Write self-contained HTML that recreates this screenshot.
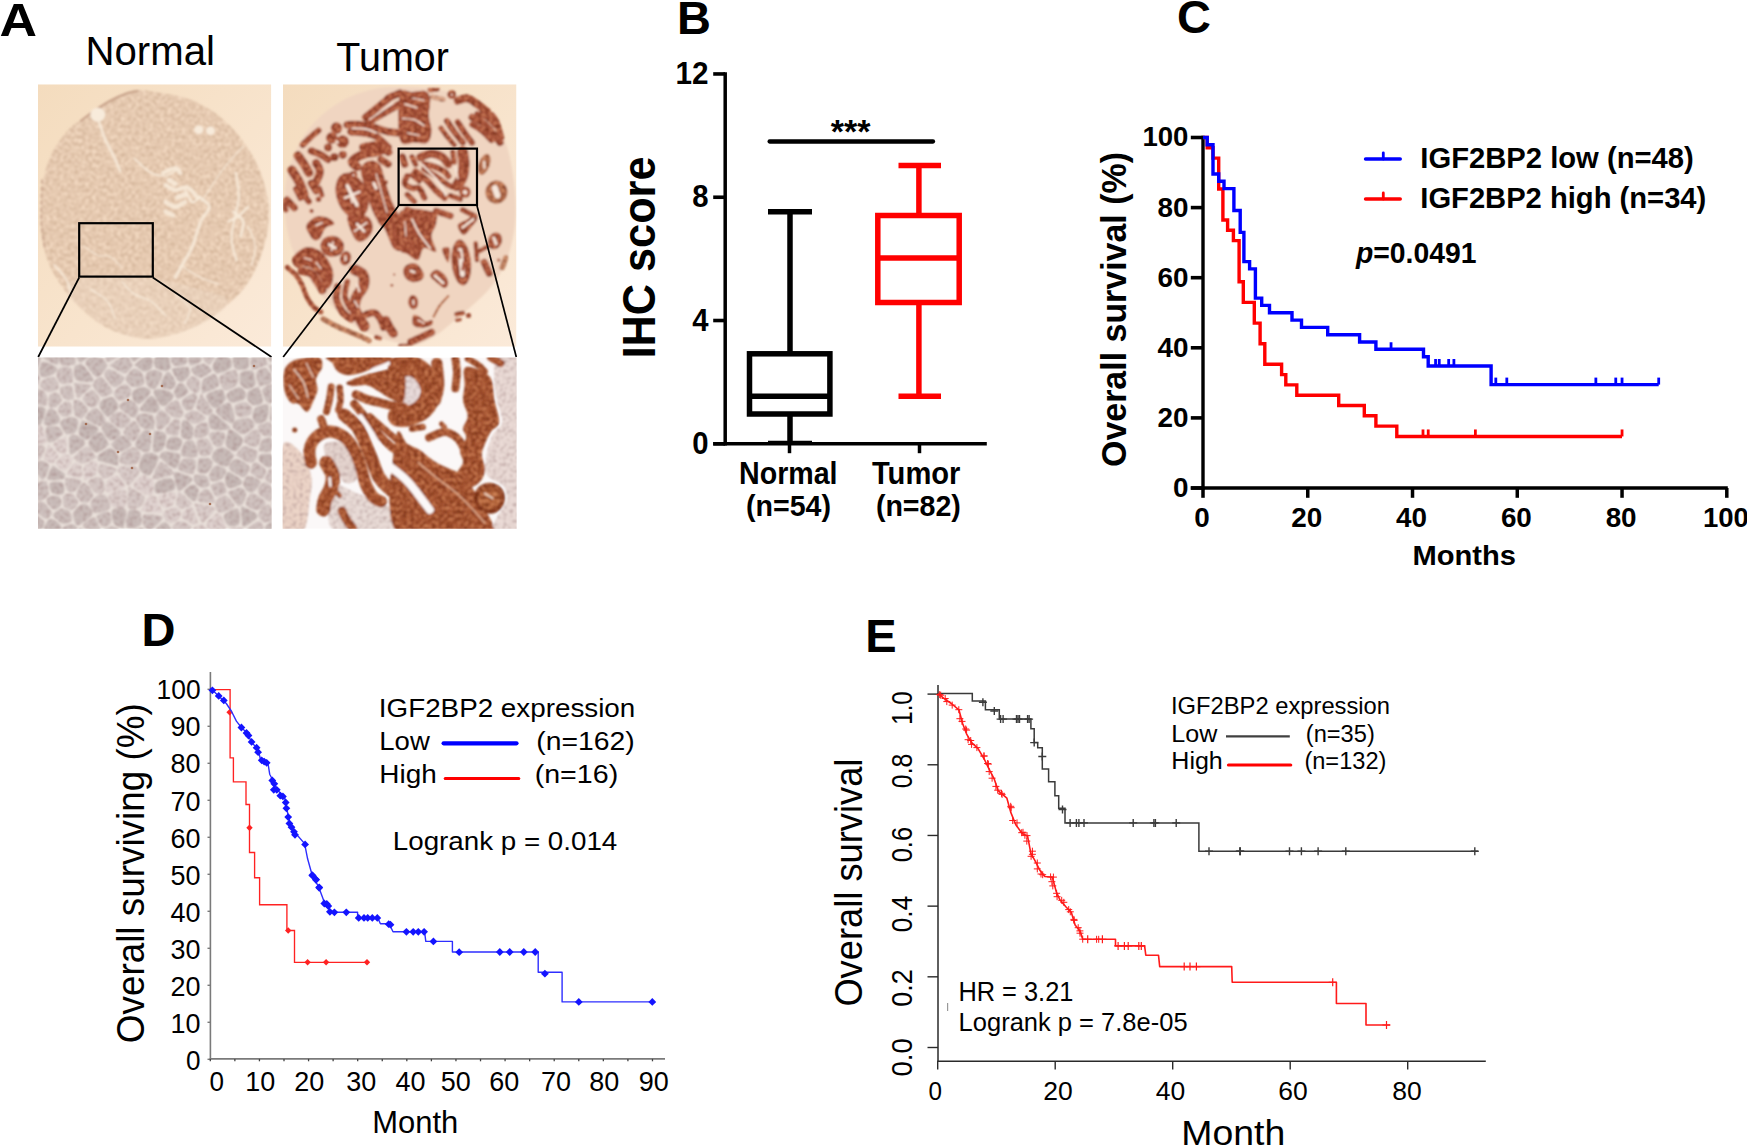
<!DOCTYPE html>
<html lang="en"><head><meta charset="utf-8"><title>IGF2BP2 figure</title>
<style>
html,body{margin:0;padding:0;background:#fff;}
body{width:1747px;height:1148px;overflow:hidden;}
svg{display:block;}
svg text{font-family:"Liberation Sans", sans-serif;}
</style></head><body>
<svg width="1747" height="1148" viewBox="0 0 1747 1148">
<defs>
<clipPath id="cNT"><rect x="38" y="84.3" width="233.3" height="262.4"/></clipPath>
<clipPath id="cTT"><rect x="283" y="84.3" width="233.5" height="262.4"/></clipPath>
<clipPath id="cNB"><rect x="38" y="357.4" width="233.6" height="171.3"/></clipPath>
<clipPath id="cTB"><rect x="282.6" y="357.4" width="234" height="171.3"/></clipPath>
<linearGradient id="gbg" x1="0" y1="0" x2="1" y2="1"><stop offset="0" stop-color="#f4dcbe"/><stop offset="0.55" stop-color="#f8e4cd"/><stop offset="1" stop-color="#fbead9"/></linearGradient>
<filter id="bl05" x="-5%" y="-5%" width="110%" height="110%"><feGaussianBlur stdDeviation="0.6"/></filter>
<filter id="bl1" x="-5%" y="-5%" width="110%" height="110%"><feGaussianBlur stdDeviation="1.0"/></filter>
<filter id="bl2" x="-5%" y="-5%" width="110%" height="110%"><feGaussianBlur stdDeviation="1.8"/></filter>
<filter id="nzT" x="0" y="0" width="100%" height="100%" color-interpolation-filters="sRGB">
 <feTurbulence type="fractalNoise" baseFrequency="0.28" numOctaves="2" seed="7" result="n"/>
 <feColorMatrix in="n" type="matrix" values="0.22 0 0 0 0.787  0.26 0 0 0 0.657  0.28 0 0 0 0.548  0 0 0 0 1" result="c"/>
 <feComposite in="c" in2="SourceGraphic" operator="in"/>
</filter>
<filter id="nzB" x="0" y="0" width="100%" height="100%" color-interpolation-filters="sRGB">
 <feTurbulence type="fractalNoise" baseFrequency="0.3" numOctaves="2" seed="11" result="n"/>
 <feColorMatrix in="n" type="matrix" values="0 0 0 0 0.36  0 0 0 0 0.13  0 0 0 0 0.05  2.2 0 0 0 -0.85" result="c"/>
 <feComposite in="c" in2="SourceGraphic" operator="in" result="ci"/>
 <feTurbulence type="fractalNoise" baseFrequency="0.25" numOctaves="2" seed="5" result="n2"/>
 <feColorMatrix in="n2" type="matrix" values="0 0 0 0 0.93  0 0 0 0 0.62  0 0 0 0 0.45  0 2.0 0 0 -0.85" result="l"/>
 <feComposite in="l" in2="SourceGraphic" operator="in" result="li"/>
 <feMerge><feMergeNode in="SourceGraphic"/><feMergeNode in="ci"/><feMergeNode in="li"/></feMerge>
</filter>
<filter id="nzG" x="0" y="0" width="100%" height="100%" color-interpolation-filters="sRGB">
 <feTurbulence type="fractalNoise" baseFrequency="0.28" numOctaves="2" seed="11" result="n"/>
 <feColorMatrix in="n" type="matrix" values="0 0 0 0 0.40  0 0 0 0 0.14  0 0 0 0 0.06  1.9 0 0 0 -0.88" result="c"/>
 <feComposite in="c" in2="SourceGraphic" operator="in" result="ci"/>
 <feColorMatrix in="n" type="matrix" values="0 0 0 0 0.90  0 0 0 0 0.62  0 0 0 0 0.44  -1.9 0 0 0 0.98" result="l"/>
 <feComposite in="l" in2="SourceGraphic" operator="in" result="li"/>
 <feMerge><feMergeNode in="SourceGraphic"/><feMergeNode in="ci"/><feMergeNode in="li"/></feMerge>
</filter>
<filter id="nzS" x="0" y="0" width="100%" height="100%" color-interpolation-filters="sRGB">
 <feTurbulence type="fractalNoise" baseFrequency="0.3" numOctaves="2" seed="2" result="n"/>
 <feColorMatrix in="n" type="matrix" values="0 0 0 0 0.62  0 0 0 0 0.50  0 0 0 0 0.50  1.6 0 0 0 -0.72" result="c"/>
 <feComposite in="c" in2="SourceGraphic" operator="in" result="ci"/>
 <feMerge><feMergeNode in="SourceGraphic"/><feMergeNode in="ci"/></feMerge>
</filter>
</defs>
<rect width="1747" height="1148" fill="#fff"/>
<text font-size="47" font-weight="bold" text-anchor="start" fill="#000" textLength="37.5" lengthAdjust="spacingAndGlyphs" x="-0.6" y="35.6" >A</text>
<text font-size="41.5" font-weight="normal" text-anchor="middle" fill="#000" textLength="129.5" lengthAdjust="spacingAndGlyphs" x="150.2" y="64.6" >Normal</text>
<text font-size="41.5" font-weight="normal" text-anchor="middle" fill="#000" textLength="112.5" lengthAdjust="spacingAndGlyphs" x="392.6" y="70.5" >Tumor</text>
<g clip-path="url(#cNT)">
<rect x="38" y="84.3" width="233.3" height="262.4" fill="url(#gbg)" stroke="none" stroke-width="1" />
<g filter="url(#bl1)">
<g filter="url(#nzT)"><path d="M139.0,90.1 C144.7,90.1 153.1,91.7 160.8,93.0 C168.5,94.2 178.6,96.0 185.0,97.8 C191.5,99.6 194.7,101.4 199.6,103.9 C204.4,106.3 208.9,108.5 214.1,112.3 C219.4,116.2 226.2,122.0 231.1,126.9 C235.9,131.7 239.1,135.8 243.2,141.4 C247.2,147.1 251.9,153.9 255.3,160.8 C258.7,167.7 261.5,174.9 263.8,182.6 C266.0,190.3 268.0,198.7 268.6,206.8 C269.2,214.9 268.4,223.8 267.4,231.0 C266.4,238.3 264.6,244.0 262.6,250.4 C260.5,256.9 258.5,263.3 255.3,269.8 C252.1,276.3 247.6,283.5 243.2,289.2 C238.7,294.8 233.5,299.3 228.6,303.7 C223.8,308.2 219.4,312.2 214.1,315.8 C208.9,319.5 203.6,322.5 197.2,325.5 C190.7,328.5 183.0,331.8 175.3,334.0 C167.7,336.2 158.4,338.4 151.1,338.8 C143.9,339.2 138.2,337.8 131.7,336.4 C125.3,335.0 118.4,333.0 112.4,330.4 C106.3,327.7 101.1,324.7 95.4,320.7 C89.8,316.6 83.7,311.4 78.4,306.1 C73.2,300.9 68.4,295.2 63.9,289.2 C59.5,283.1 55.0,276.3 51.8,269.8 C48.6,263.3 46.4,257.7 44.5,250.4 C42.7,243.2 41.5,234.3 40.9,226.2 C40.3,218.1 40.5,209.6 40.9,202.0 C41.3,194.3 41.9,187.4 43.3,180.2 C44.7,172.9 46.8,164.8 49.4,158.4 C52.0,151.9 55.4,146.7 59.1,141.4 C62.7,136.2 67.3,130.6 71.2,126.9 C75.0,123.2 78.4,121.9 82.1,119.1 C85.7,116.4 88.3,113.6 93.0,110.4 C97.6,107.2 104.3,102.7 109.9,99.7 C115.6,96.8 122.1,94.1 126.9,92.5 C131.7,90.9 133.4,90.0 139.0,90.1Z" fill="#dcc5b2"/></g>
<path d="M80.9,120.8 C82.9,119.3 88.1,115.2 93.0,111.9 C97.8,108.5 104.3,104.0 109.9,101.0 C115.6,97.9 122.3,95.1 126.9,93.4 C131.5,91.8 136.0,91.4 137.8,91.0" stroke="#c9a48c" stroke-width="2.2" fill="none" stroke-linecap="round"/>
<path d="M42.1,180.2 C42.0,183.8 41.5,194.3 41.4,202.0 C41.3,209.6 41.0,218.3 41.6,226.2 C42.2,234.1 44.5,245.4 45.0,249.2" stroke="#c9a58f" stroke-width="1.8" fill="none" stroke-dasharray="3 4" stroke-linecap="round"/>
<path d="M66.3,284.3 C70.4,279.5 87.7,277.9 102.7,277.1 C117.6,276.3 139.8,277.5 156.0,279.5 C172.1,281.5 187.5,285.5 199.6,289.2 C211.7,292.8 228.6,295.2 228.6,301.3 C228.6,307.3 212.5,319.3 199.6,325.5 C186.7,331.8 165.7,338.0 151.1,338.8 C136.6,339.6 124.5,335.8 112.4,330.4 C100.3,324.9 86.1,313.8 78.4,306.1 C70.8,298.5 62.3,289.2 66.3,284.3Z" fill="#f3e2cf" opacity="0.3"/>
<ellipse cx="97.8" cy="114.8" rx="7.5" ry="7" fill="#f8ebdb"/>
<ellipse cx="198.8" cy="129.8" rx="4.6" ry="4.2" fill="#f8ebdb"/>
<ellipse cx="210.5" cy="130.7" rx="4.4" ry="4.2" fill="#f8ebdb"/>
<path d="M99.0,122.0 C100.1,124.9 102.5,132.9 105.1,139.0 C107.7,145.0 112.3,153.0 114.8,158.4 C117.3,163.7 119.2,168.9 120.1,171.0" stroke="#f8ebdb" stroke-width="2.8" fill="none" stroke-linecap="round" opacity="0.85"/>
<path d="M134.2,158.4 C137.0,160.8 145.9,170.0 151.1,172.9 C156.4,175.8 161.4,176.3 165.7,175.8 C169.9,175.3 174.7,171.0 176.6,170.0" stroke="#f8ebdb" stroke-width="1.8" fill="none" stroke-linecap="round" opacity="0.85"/>
<path d="M163.2,172.9 C165.3,172.1 172.5,168.1 175.3,168.1 C178.2,168.1 179.4,172.1 180.2,172.9" stroke="#f8ebdb" stroke-width="4.2" fill="none" stroke-linecap="round" opacity="0.85"/>
<path d="M169.3,180.2 L175.3,183.8" stroke="#f8ebdb" stroke-width="5.0" fill="none" stroke-linecap="round" opacity="0.85"/>
<path d="M177.8,197.1 L185.0,194.7" stroke="#f8ebdb" stroke-width="5.0" fill="none" stroke-linecap="round" opacity="0.85"/>
<path d="M165.7,211.7 L172.9,215.3" stroke="#f8ebdb" stroke-width="4.5" fill="none" stroke-linecap="round" opacity="0.85"/>
<path d="M165.7,185.0 C167.3,185.8 171.7,189.5 175.3,189.9 C179.0,190.3 183.8,186.2 187.5,187.4 C191.1,188.6 195.5,195.5 197.2,197.1" stroke="#f8ebdb" stroke-width="4.2" fill="none" stroke-linecap="round" opacity="0.85"/>
<path d="M165.7,202.0 C167.3,202.8 172.1,206.8 175.3,206.8 C178.6,206.8 183.4,202.8 185.0,202.0" stroke="#f8ebdb" stroke-width="4.4" fill="none" stroke-linecap="round" opacity="0.85"/>
<path d="M185.0,189.9 C186.2,191.9 189.9,200.8 192.3,202.0 C194.7,203.2 198.4,197.9 199.6,197.1" stroke="#f8ebdb" stroke-width="2.6" fill="none" stroke-linecap="round" opacity="0.85"/>
<path d="M199.6,197.1 C201.2,198.7 209.1,202.8 209.3,206.8 C209.5,210.9 203.5,214.9 200.8,221.3 C198.0,227.8 195.4,239.1 192.8,245.6 C190.2,252.0 187.9,254.9 185.0,260.1 C182.1,265.4 177.0,274.2 175.3,277.1" stroke="#f8ebdb" stroke-width="3.2" fill="none" stroke-linecap="round" opacity="0.85"/>
<path d="M243.2,146.3 C239.9,149.9 229.5,160.8 223.8,168.1 C218.1,175.3 213.1,184.2 209.3,189.9 C205.4,195.5 202.2,200.0 200.8,202.0" stroke="#f8ebdb" stroke-width="1.2" fill="none" stroke-linecap="round" opacity="0.85"/>
<path d="M235.9,172.9 C236.4,176.9 239.1,189.0 238.8,197.1 C238.5,205.2 235.2,214.1 234.0,221.3 C232.8,228.6 231.1,234.3 231.6,240.7 C232.0,247.2 235.6,256.9 236.4,260.1" stroke="#f8ebdb" stroke-width="2.4" fill="none" stroke-linecap="round" opacity="0.85"/>
<path d="M233.5,211.7 C235.1,213.3 242.0,217.3 243.2,221.3 C244.4,225.4 241.2,233.5 240.8,235.9" stroke="#f8ebdb" stroke-width="3.0" fill="none" stroke-linecap="round" opacity="0.85"/>
<path d="M228.6,221.3 C230.3,220.5 235.1,218.9 238.3,216.5 C241.6,214.1 246.4,208.4 248.0,206.8" stroke="#f8ebdb" stroke-width="2.4" fill="none" stroke-linecap="round" opacity="0.85"/>
<path d="M248.0,226.2 C249.2,229.4 254.7,239.1 255.3,245.6 C255.9,252.0 252.3,261.7 251.7,265.0" stroke="#f8ebdb" stroke-width="1.4" fill="none" stroke-linecap="round" opacity="0.85"/>
<path d="M83.3,245.6 C85.7,247.2 93.4,253.4 97.8,255.3 C102.3,257.1 105.9,254.5 109.9,256.5 C114.0,258.5 120.0,265.6 122.1,267.4" stroke="#f8ebdb" stroke-width="1.1" fill="none" stroke-linecap="round" opacity="0.85"/>
<path d="M180.2,265.0 C183.4,267.0 193.1,273.8 199.6,277.1 C206.0,280.3 215.7,283.1 219.0,284.3" stroke="#f8ebdb" stroke-width="1.3" fill="none" stroke-linecap="round" opacity="0.85"/>
<path d="M122.1,281.9 C124.1,283.9 129.3,290.8 134.2,294.0 C139.0,297.3 145.9,297.7 151.1,301.3 C156.4,304.9 163.2,313.4 165.7,315.8" stroke="#f8ebdb" stroke-width="1.6" fill="none" stroke-linecap="round" opacity="0.85"/>
<path d="M90.6,289.2 C93.4,291.2 103.5,296.4 107.5,301.3 C111.6,306.1 113.6,315.4 114.8,318.2" stroke="#f8ebdb" stroke-width="1.5" fill="none" stroke-linecap="round" opacity="0.85"/>
<path d="M175.3,294.0 C177.8,296.4 188.3,303.7 189.9,308.6 C191.5,313.4 185.8,320.7 185.0,323.1" stroke="#f8ebdb" stroke-width="1.5" fill="none" stroke-linecap="round" opacity="0.85"/>
<path d="M54.2,265.0 C56.2,267.4 63.5,274.6 66.3,279.5 C69.2,284.3 70.4,291.6 71.2,294.0" stroke="#f8ebdb" stroke-width="2.0" fill="none" stroke-linecap="round" opacity="0.85"/>
</g>
</g>
<rect x="79.2" y="223.2" width="73.6" height="53.4" fill="none" stroke="#000" stroke-width="2.2" />
<line x1="79.2" y1="277.5" x2="38.2" y2="357" stroke="#000" stroke-width="1.7" />
<line x1="152.8" y1="277.5" x2="271.5" y2="357" stroke="#000" stroke-width="1.7" />
<g clip-path="url(#cTT)">
<rect x="283" y="84.3" width="233.5" height="262.4" fill="url(#gbg)" stroke="none" stroke-width="1" />
<g filter="url(#bl1)">
<path d="M400.0,87.0 C407.5,87.0 416.7,87.2 425.0,88.0 C433.3,88.8 442.5,90.0 450.0,92.0 C457.5,94.0 463.8,96.5 470.0,100.0 C476.2,103.5 482.0,108.0 487.0,113.0 C492.0,118.0 496.5,123.8 500.0,130.0 C503.5,136.2 505.8,142.5 508.0,150.0 C510.2,157.5 511.8,166.7 513.0,175.0 C514.2,183.3 515.2,191.7 515.5,200.0 C515.8,208.3 515.9,216.7 515.0,225.0 C514.1,233.3 512.2,242.5 510.0,250.0 C507.8,257.5 505.3,263.7 502.0,270.0 C498.7,276.3 494.7,282.3 490.0,288.0 C485.3,293.7 479.8,298.7 474.0,304.0 C468.2,309.3 461.5,314.7 455.0,320.0 C448.5,325.3 441.7,331.8 435.0,336.0 C428.3,340.2 421.7,344.0 415.0,345.0 C408.3,346.0 401.7,343.5 395.0,342.0 C388.3,340.5 381.7,338.7 375.0,336.0 C368.3,333.3 361.2,330.0 355.0,326.0 C348.8,322.0 343.5,317.0 338.0,312.0 C332.5,307.0 327.0,301.7 322.0,296.0 C317.0,290.3 312.3,284.3 308.0,278.0 C303.7,271.7 299.2,264.7 296.0,258.0 C292.8,251.3 290.8,245.2 289.0,238.0 C287.2,230.8 285.7,223.0 285.0,215.0 C284.3,207.0 284.3,197.8 285.0,190.0 C285.7,182.2 287.0,175.0 289.0,168.0 C291.0,161.0 293.8,154.3 297.0,148.0 C300.2,141.7 303.8,135.5 308.0,130.0 C312.2,124.5 316.7,119.7 322.0,115.0 C327.3,110.3 333.7,105.7 340.0,102.0 C346.3,98.3 353.3,95.3 360.0,93.0 C366.7,90.7 373.3,89.0 380.0,88.0 C386.7,87.0 392.5,87.0 400.0,87.0Z" fill="#f0d5c1"/>
<g filter="url(#nzG)">
<path d="M365.4,117.3 C367.6,115.5 374.2,110.0 378.6,106.5 C383.0,102.9 389.6,97.9 391.8,96.2" stroke="#a8523a" stroke-width="7.214139713839124" fill="none" stroke-linecap="round" stroke-linejoin="round"/>
<path d="M369.6,121.5 C372.1,120.0 379.5,115.4 384.6,112.5 C389.7,109.6 397.4,105.4 400.0,104.0" stroke="#a8523a" stroke-width="7.214139713839124" fill="none" stroke-linecap="round" stroke-linejoin="round"/>
<path d="M388.2,98.0 L400.0,93.2" stroke="#a8523a" stroke-width="7.214139713839124" fill="none" stroke-linecap="round" stroke-linejoin="round"/>
<path d="M347.3,124.7 C349.7,124.7 357.0,124.2 361.8,124.7 C366.6,125.3 371.8,126.9 376.2,128.1 C380.6,129.3 384.2,130.9 388.2,131.7 C392.2,132.5 398.0,132.7 400.0,132.9" stroke="#a8523a" stroke-width="7.574846699531081" fill="none" stroke-linecap="round" stroke-linejoin="round"/>
<path d="M350.9,131.9 C353.1,132.1 360.0,132.1 364.2,132.9 C368.4,133.7 372.2,134.1 376.2,136.5 C380.2,138.9 386.2,145.5 388.2,147.3" stroke="#a8523a" stroke-width="7.214139713839124" fill="none" stroke-linecap="round" stroke-linejoin="round"/>
<path d="M302.8,144.9 C304.2,143.5 308.7,138.9 311.3,136.5 C313.9,134.1 317.3,131.5 318.5,130.5" stroke="#a8523a" stroke-width="6.132018756763256" fill="none" stroke-linecap="round" stroke-linejoin="round"/>
<path d="M311.3,150.9 C312.9,151.6 318.1,153.3 320.9,154.8 C323.7,156.2 326.9,158.8 328.1,159.6" stroke="#a8523a" stroke-width="7.214139713839124" fill="none" stroke-linecap="round" stroke-linejoin="round"/>
<path d="M298.0,155.7 C299.0,157.2 302.2,161.3 304.0,164.2 C305.9,167.0 308.1,171.4 308.9,172.8" stroke="#a8523a" stroke-width="9.017674642298905" fill="none" stroke-linecap="round" stroke-linejoin="round"/>
<path d="M292.0,170.2 C293.2,172.2 297.2,178.2 299.2,182.2 C301.2,186.2 303.2,192.2 304.0,194.2" stroke="#a8523a" stroke-width="9.378381627990862" fill="none" stroke-linecap="round" stroke-linejoin="round"/>
<path d="M316.1,163.0 C316.7,164.4 319.9,168.2 319.9,171.4 C319.9,174.6 316.7,180.4 316.1,182.2" stroke="#a8523a" stroke-width="8.296260670914993" fill="none" stroke-linecap="round" stroke-linejoin="round"/>
<path d="M311.3,183.4 L316.1,190.9" stroke="#a8523a" stroke-width="7.214139713839124" fill="none" stroke-linecap="round" stroke-linejoin="round"/>
<path d="M287.2,200.2 L294.4,207.7" stroke="#a8523a" stroke-width="7.214139713839124" fill="none" stroke-linecap="round" stroke-linejoin="round"/>
<path d="M283.6,201.7 L286.0,210.1" stroke="#a8523a" stroke-width="5.049897799687387" fill="none" stroke-linecap="round" stroke-linejoin="round"/>
<path d="M304.0,195.4 L308.9,201.7" stroke="#a8523a" stroke-width="6.132018756763256" fill="none" stroke-linecap="round" stroke-linejoin="round"/>
<path d="M357.0,166.8 C356.1,166.0 352.1,163.6 352.1,162.0 C352.1,160.4 354.5,158.6 357.0,157.2 C359.4,155.8 363.4,154.4 366.6,153.6 C369.8,152.7 373.3,152.8 376.2,152.1 C379.0,151.5 382.4,150.1 383.6,149.7" stroke="#a8523a" stroke-width="9.017674642298905" fill="none" stroke-linecap="round" stroke-linejoin="round"/>
<path d="M363.0,147.3 C365.2,146.9 372.4,144.9 376.2,144.9 C380.0,144.9 383.8,146.1 385.8,147.3 C387.9,148.5 388.0,151.3 388.5,152.1" stroke="#a8523a" stroke-width="7.935553685223037" fill="none" stroke-linecap="round" stroke-linejoin="round"/>
<path d="M381.0,159.4 L388.2,164.2" stroke="#a8523a" stroke-width="7.214139713839124" fill="none" stroke-linecap="round" stroke-linejoin="round"/>
<path d="M371.4,171.4 C372.2,174.2 374.4,182.4 376.2,188.2 C378.0,194.0 380.2,201.3 382.2,206.2 C384.2,211.2 387.2,216.1 388.2,218.0" stroke="#a8523a" stroke-width="21.642419141517372" fill="none" stroke-linecap="round" stroke-linejoin="round"/>
<path d="M295.6,188.8 L300.4,198.4" stroke="#a8523a" stroke-width="5.410604785379343" fill="none" stroke-linecap="round" stroke-linejoin="round"/>
<path d="M319.7,188.2 L322.1,195.4" stroke="#a8523a" stroke-width="4.689190813995431" fill="none" stroke-linecap="round" stroke-linejoin="round"/>
<ellipse cx="336.5" cy="128.1" rx="5.8" ry="5.8" transform="rotate(0 336.5 128.1)" fill="#a8523a"/>
<ellipse cx="331.7" cy="138.0" rx="5.8" ry="5.8" transform="rotate(0 331.7 138.0)" fill="#a8523a"/>
<ellipse cx="342.5" cy="141.6" rx="6.4" ry="6.4" transform="rotate(0 342.5 141.6)" fill="#a8523a"/>
<ellipse cx="328.1" cy="147.6" rx="4.1" ry="4.1" transform="rotate(0 328.1 147.6)" fill="#a8523a"/>
<ellipse cx="334.3" cy="157.2" rx="4.1" ry="4.1" transform="rotate(0 334.3 157.2)" fill="#a8523a"/>
<ellipse cx="342.8" cy="154.8" rx="4.1" ry="4.1" transform="rotate(0 342.8 154.8)" fill="#a8523a"/>
<ellipse cx="318.5" cy="199.3" rx="2.8" ry="2.8" transform="rotate(0 318.5 199.3)" fill="#a8523a"/>
<ellipse cx="311.5" cy="211.1" rx="2.1" ry="2.1" transform="rotate(0 311.5 211.1)" fill="#a8523a"/>
<ellipse cx="385.8" cy="182.2" rx="2.2" ry="2.2" transform="rotate(0 385.8 182.2)" fill="#a8523a"/>
<ellipse cx="384.8" cy="193.0" rx="2.2" ry="2.2" transform="rotate(0 384.8 193.0)" fill="#a8523a"/>
<ellipse cx="388.5" cy="202.6" rx="2.2" ry="2.2" transform="rotate(0 388.5 202.6)" fill="#a8523a"/>
<ellipse cx="353.3" cy="175.0" rx="4.1" ry="4.1" transform="rotate(0 353.3 175.0)" fill="#a8523a"/>
<ellipse cx="352.1" cy="195.7" rx="15.5" ry="23.8" transform="rotate(-20 352.1 195.7)" fill="#a8523a"/>
<path d="M400.0,94.4 C402.0,86.4 407.8,92.6 412.0,92.0 C416.2,91.5 422.2,89.9 425.2,91.1 C428.3,92.3 429.5,95.1 430.1,99.2 C430.7,103.4 428.6,110.9 428.9,116.1 C429.1,121.3 431.7,126.1 431.5,130.5 C431.3,134.9 430.5,140.5 427.7,142.5 C424.8,144.5 419.0,142.9 414.4,142.5 C409.8,142.1 402.4,148.1 400.0,140.1 C397.6,132.1 398.0,102.4 400.0,94.4Z" fill="#a8523a"/>
<path d="M430.1,89.9 L437.3,89.1" stroke="#a8523a" stroke-width="5.049897799687387" fill="none" stroke-linecap="round" stroke-linejoin="round"/>
<path d="M457.7,100.7 C459.3,100.3 464.1,97.7 467.3,98.3 C470.5,98.8 473.7,101.8 477.0,104.0 C480.2,106.3 485.2,110.3 486.8,111.5" stroke="#a8523a" stroke-width="7.935553685223037" fill="none" stroke-linecap="round" stroke-linejoin="round"/>
<path d="M491.4,114.9 C492.2,116.1 494.8,118.3 496.4,122.1 C498.1,125.9 500.4,135.1 501.2,137.7" stroke="#a8523a" stroke-width="6.132018756763256" fill="none" stroke-linecap="round" stroke-linejoin="round"/>
<path d="M446.9,120.9 C448.1,122.7 451.5,128.1 454.1,131.7 C456.8,135.3 461.3,140.7 462.8,142.5" stroke="#a8523a" stroke-width="6.132018756763256" fill="none" stroke-linecap="round" stroke-linejoin="round"/>
<path d="M457.7,122.1 C458.9,123.9 462.5,129.5 464.9,132.9 C467.3,136.4 470.9,141.1 472.1,142.8" stroke="#a8523a" stroke-width="6.132018756763256" fill="none" stroke-linecap="round" stroke-linejoin="round"/>
<path d="M440.9,128.1 C442.1,129.7 445.8,134.9 448.1,137.7 C450.3,140.5 453.3,143.7 454.3,144.9" stroke="#a8523a" stroke-width="5.049897799687387" fill="none" stroke-linecap="round" stroke-linejoin="round"/>
<path d="M472.1,117.3 C473.7,118.1 478.6,119.7 481.8,122.1 C485.0,124.5 488.3,128.3 491.4,131.7 C494.4,135.1 498.6,140.7 500.0,142.5" stroke="#a8523a" stroke-width="7.214139713839124" fill="none" stroke-linecap="round" stroke-linejoin="round"/>
<path d="M477.0,113.7 C478.6,114.3 483.5,115.3 486.6,117.3 C489.6,119.3 493.8,124.3 495.2,125.7" stroke="#a8523a" stroke-width="5.049897799687387" fill="none" stroke-linecap="round" stroke-linejoin="round"/>
<path d="M472.1,124.5 C473.7,125.5 478.5,127.9 481.8,130.5 C485.0,133.1 490.0,138.5 491.6,140.1" stroke="#a8523a" stroke-width="6.132018756763256" fill="none" stroke-linecap="round" stroke-linejoin="round"/>
<path d="M402.4,157.0 L404.8,164.4" stroke="#a8523a" stroke-width="7.214139713839124" fill="none" stroke-linecap="round" stroke-linejoin="round"/>
<path d="M412.0,157.0 L415.6,164.4" stroke="#a8523a" stroke-width="5.410604785379343" fill="none" stroke-linecap="round" stroke-linejoin="round"/>
<path d="M420.4,157.2 C422.2,156.6 427.7,153.6 431.3,153.6 C434.9,153.5 439.2,155.2 442.1,157.0 C444.9,158.7 447.3,163.0 448.3,164.2" stroke="#a8523a" stroke-width="8.296260670914993" fill="none" stroke-linecap="round" stroke-linejoin="round"/>
<path d="M424.0,164.2 C425.9,164.6 431.5,165.6 434.9,166.8 C438.3,168.1 442.2,170.1 444.5,171.6 C446.7,173.2 447.7,175.4 448.3,176.2" stroke="#a8523a" stroke-width="6.132018756763256" fill="none" stroke-linecap="round" stroke-linejoin="round"/>
<path d="M462.5,152.1 C462.8,154.1 464.0,160.2 464.0,164.2 C464.0,168.2 463.6,172.7 462.5,176.2 C461.5,179.6 458.5,183.4 457.7,184.8" stroke="#a8523a" stroke-width="11.181916556450643" fill="none" stroke-linecap="round" stroke-linejoin="round"/>
<path d="M452.9,152.1 L454.1,162.0" stroke="#a8523a" stroke-width="5.410604785379343" fill="none" stroke-linecap="round" stroke-linejoin="round"/>
<path d="M415.6,171.4 C417.4,172.8 423.0,176.8 426.5,180.0 C429.9,183.2 433.0,187.7 436.1,190.6 C439.1,193.6 443.3,196.6 444.7,197.8" stroke="#a8523a" stroke-width="6.492725742455212" fill="none" stroke-linecap="round" stroke-linejoin="round"/>
<path d="M424.0,169.2 C426.1,170.4 432.1,173.6 436.1,176.2 C440.1,178.8 444.7,182.8 448.1,184.8 C451.5,186.9 455.1,187.9 456.5,188.5" stroke="#a8523a" stroke-width="5.410604785379343" fill="none" stroke-linecap="round" stroke-linejoin="round"/>
<path d="M407.2,176.2 C406.8,177.4 404.0,181.4 404.8,183.4 C405.6,185.4 409.6,187.4 412.0,188.2 C414.4,189.0 417.2,186.6 419.2,188.2 C421.3,189.8 423.4,196.2 424.3,197.8" stroke="#a8523a" stroke-width="6.132018756763256" fill="none" stroke-linecap="round" stroke-linejoin="round"/>
<path d="M412.0,175.0 L419.2,181.0" stroke="#a8523a" stroke-width="5.410604785379343" fill="none" stroke-linecap="round" stroke-linejoin="round"/>
<path d="M450.5,195.7 L460.1,199.0" stroke="#a8523a" stroke-width="5.410604785379343" fill="none" stroke-linecap="round" stroke-linejoin="round"/>
<path d="M407.2,194.5 L414.4,201.7" stroke="#a8523a" stroke-width="5.410604785379343" fill="none" stroke-linecap="round" stroke-linejoin="round"/>
<path d="M407.2,210.1 L424.0,217.1" stroke="#a8523a" stroke-width="7.214139713839124" fill="none" stroke-linecap="round" stroke-linejoin="round"/>
<path d="M436.1,211.1 L450.5,215.9" stroke="#a8523a" stroke-width="6.492725742455212" fill="none" stroke-linecap="round" stroke-linejoin="round"/>
<path d="M462.5,209.9 L472.1,214.7" stroke="#a8523a" stroke-width="5.410604785379343" fill="none" stroke-linecap="round" stroke-linejoin="round"/>
<path d="M432.5,97.1 L443.3,99.5" stroke="#d7a78e" stroke-width="5.049897799687387" fill="none" stroke-linecap="round" stroke-linejoin="round"/>
<ellipse cx="451.7" cy="94.7" rx="4.4" ry="4.4" transform="rotate(45 451.7 94.7)" fill="#a8523a"/>
<ellipse cx="464.9" cy="192.1" rx="5.8" ry="5.8" transform="rotate(0 464.9 192.1)" fill="#a8523a"/>
<ellipse cx="484.2" cy="164.4" rx="5.5" ry="11.1" transform="rotate(20 484.2 164.4)" fill="#b87352"/>
<ellipse cx="496.4" cy="192.1" rx="11.1" ry="11.6" transform="rotate(0 496.4 192.1)" fill="#b87352"/>
<path d="M306.5,225.2 C307.7,222.4 312.5,218.0 316.1,216.8 C319.7,215.6 325.0,216.8 328.1,218.0 C331.1,219.2 334.7,222.4 334.3,224.0 C333.9,225.7 328.1,225.4 325.7,227.9 C323.2,230.3 321.7,236.7 319.7,238.7 C317.7,240.7 315.5,240.7 313.7,239.9 C311.9,239.1 310.1,236.1 308.9,233.6 C307.7,231.2 305.2,228.0 306.5,225.2Z" fill="#a8523a"/>
<path d="M347.3,216.8 C348.1,213.4 353.3,213.0 357.0,213.2 C360.6,213.4 366.6,215.4 369.2,218.0 C371.9,220.6 373.2,225.4 372.8,228.8 C372.4,232.3 369.3,236.6 366.8,238.7 C364.4,240.8 360.6,242.4 358.2,241.6 C355.7,240.7 353.9,237.8 352.1,233.6 C350.3,229.5 346.5,220.2 347.3,216.8Z" fill="#a8523a"/>
<ellipse cx="332.3" cy="246.3" rx="11.9" ry="10.5" transform="rotate(10 332.3 246.3)" fill="#a8523a"/>
<ellipse cx="345.5" cy="258.3" rx="5.5" ry="7.2" transform="rotate(15 345.5 258.3)" fill="#a8523a"/>
<path d="M292.0,260.1 C292.2,257.4 295.4,253.9 298.0,251.7 C300.6,249.5 304.0,247.1 307.7,246.9 C311.3,246.7 316.3,248.3 319.7,250.5 C323.1,252.7 325.8,256.5 328.1,260.1 C330.3,263.7 332.5,268.1 333.1,272.1 C333.7,276.1 332.9,281.3 331.7,284.1 C330.5,287.0 327.7,290.0 325.9,289.2 C324.1,288.4 322.9,282.6 320.9,279.3 C318.8,276.1 316.5,271.9 313.7,269.7 C310.9,267.5 306.9,266.7 304.0,266.3 C301.2,266.0 298.8,268.6 296.8,267.5 C294.8,266.5 291.8,262.7 292.0,260.1Z" fill="#a8523a"/>
<path d="M378.6,212.0 L388.5,216.8" stroke="#a8523a" stroke-width="7.214139713839124" fill="none" stroke-linecap="round" stroke-linejoin="round"/>
<path d="M390.6,219.2 C391.4,221.2 393.9,227.4 395.4,231.2 C397.0,235.0 399.2,240.3 400.0,242.1" stroke="#a8523a" stroke-width="18.03534928459781" fill="none" stroke-linecap="round" stroke-linejoin="round"/>
<path d="M287.2,267.3 C288.6,268.6 293.2,272.0 295.6,274.8 C298.0,277.6 299.6,280.1 301.6,284.1 C303.6,288.1 305.4,294.8 307.7,298.8 C309.9,302.8 312.6,306.0 314.9,308.2 C317.1,310.4 320.1,311.4 321.1,312.0" stroke="#a8523a" stroke-width="4.689190813995431" fill="none" stroke-linecap="round" stroke-linejoin="round"/>
<path d="M301.6,270.9 C303.2,271.4 308.7,271.8 311.3,273.6 C313.9,275.4 315.4,279.0 317.3,281.7 C319.1,284.5 321.5,288.8 322.3,290.2" stroke="#a8523a" stroke-width="7.935553685223037" fill="none" stroke-linecap="round" stroke-linejoin="round"/>
<path d="M354.5,269.7 C355.9,270.6 361.5,272.0 363.0,274.8 C364.4,277.6 364.2,283.0 363.2,286.5 C362.2,290.1 358.4,292.6 357.0,296.2 C355.5,299.8 354.1,304.6 354.5,308.2 C354.9,311.8 357.7,314.8 359.4,317.8 C361.0,320.8 363.6,324.8 364.4,326.2" stroke="#a8523a" stroke-width="10.821209570758686" fill="none" stroke-linecap="round" stroke-linejoin="round"/>
<path d="M337.7,286.5 C337.5,288.6 335.7,294.6 336.5,298.8 C337.3,303.0 340.1,308.4 342.5,311.8 C345.0,315.2 349.7,317.8 351.2,319.0" stroke="#a8523a" stroke-width="7.214139713839124" fill="none" stroke-linecap="round" stroke-linejoin="round"/>
<path d="M347.3,281.7 C346.9,284.1 344.5,291.8 344.9,296.2 C345.4,300.6 349.1,306.2 350.0,308.2" stroke="#a8523a" stroke-width="5.7713117710713" fill="none" stroke-linecap="round" stroke-linejoin="round"/>
<path d="M366.6,314.2 C368.0,314.0 372.6,312.0 375.0,313.0 C377.4,314.0 379.6,317.8 381.0,320.2 C382.4,322.6 383.2,326.2 383.6,327.4" stroke="#a8523a" stroke-width="7.214139713839124" fill="none" stroke-linecap="round" stroke-linejoin="round"/>
<path d="M385.8,320.2 C386.4,321.4 388.2,325.2 389.4,327.4 C390.7,329.6 392.6,332.4 393.3,333.4" stroke="#a8523a" stroke-width="9.017674642298905" fill="none" stroke-linecap="round" stroke-linejoin="round"/>
<path d="M376.2,337.0 L380.0,338.2" stroke="#a8523a" stroke-width="4.328483828303475" fill="none" stroke-linecap="round" stroke-linejoin="round"/>
<path d="M323.3,319.0 C325.1,320.0 330.1,323.0 334.1,325.0 C338.1,327.0 342.7,329.0 347.3,331.0 C351.9,333.0 358.1,335.4 361.8,337.0 C365.4,338.6 368.0,340.1 369.2,340.7" stroke="#bd7e5f" stroke-width="5.049897799687387" fill="none" stroke-linecap="round" stroke-linejoin="round"/>
<ellipse cx="391.8" cy="285.3" rx="1.4" ry="1.4" transform="rotate(0 391.8 285.3)" fill="#a8523a"/>
<ellipse cx="394.2" cy="274.5" rx="1.1" ry="1.1" transform="rotate(0 394.2 274.5)" fill="#a8523a"/>
<path d="M400.0,212.0 C405.6,206.0 427.7,210.0 433.7,212.0 C439.7,214.0 436.4,220.0 436.1,224.0 C435.7,228.0 431.5,231.4 431.5,236.0 C431.5,240.7 437.3,249.7 436.1,251.7 C434.8,253.7 427.1,246.7 424.0,248.1 C421.0,249.5 420.8,259.1 418.0,260.1 C415.2,261.1 410.2,256.1 407.2,254.1 C404.2,252.1 401.2,255.1 400.0,248.1 C398.8,241.1 394.4,218.0 400.0,212.0Z" fill="#a8523a"/>
<path d="M403.6,268.5 C404.4,266.3 407.2,264.3 409.6,263.7 C412.0,263.1 415.6,263.1 418.0,264.9 C420.4,266.7 423.6,271.9 424.0,274.5 C424.4,277.2 422.4,279.5 420.4,280.8 C418.4,282.0 414.6,282.6 412.0,282.0 C409.4,281.3 406.2,279.2 404.8,276.9 C403.4,274.7 402.8,270.7 403.6,268.5Z" fill="#a8523a"/>
<path d="M430.1,275.7 C429.9,273.5 433.7,269.9 436.1,269.7 C438.5,269.5 442.4,272.3 444.5,274.5 C446.5,276.7 448.3,280.7 448.3,282.9 C448.3,285.2 446.3,288.0 444.5,288.0 C442.6,288.0 439.7,285.0 437.3,282.9 C434.9,280.9 430.3,277.9 430.1,275.7Z" fill="#a8523a"/>
<ellipse cx="461.3" cy="262.5" rx="9.7" ry="23.0" transform="rotate(-5 461.3 262.5)" fill="#a8523a"/>
<path d="M442.1,249.3 C442.3,246.9 448.3,245.9 449.3,248.1 C450.3,250.3 449.3,262.3 448.1,262.5 C446.9,262.7 441.9,251.7 442.1,249.3Z" fill="#a8523a"/>
<path d="M457.7,225.2 C458.3,222.6 464.3,221.2 467.3,219.2 C470.3,217.2 474.1,213.2 475.7,213.2 C477.4,213.2 477.8,217.0 477.2,219.2 C476.6,221.4 474.4,223.8 472.1,226.4 C469.9,229.0 466.1,235.0 463.7,234.8 C461.3,234.6 457.1,227.8 457.7,225.2Z" fill="#a8523a"/>
<ellipse cx="495.0" cy="240.9" rx="6.9" ry="8.6" transform="rotate(20 495.0 240.9)" fill="#a8523a"/>
<ellipse cx="413.2" cy="302.2" rx="5.0" ry="7.2" transform="rotate(-5 413.2 302.2)" fill="#a8523a"/>
<path d="M475.7,243.3 L477.0,260.1" stroke="#a8523a" stroke-width="4.508837321149453" fill="none" stroke-linecap="round" stroke-linejoin="round"/>
<path d="M478.2,251.7 L486.8,246.9" stroke="#a8523a" stroke-width="4.508837321149453" fill="none" stroke-linecap="round" stroke-linejoin="round"/>
<path d="M484.2,262.5 L489.2,273.3" stroke="#a8523a" stroke-width="7.214139713839124" fill="none" stroke-linecap="round" stroke-linejoin="round"/>
<path d="M456.5,314.2 L462.8,313.0" stroke="#a8523a" stroke-width="4.508837321149453" fill="none" stroke-linecap="round" stroke-linejoin="round"/>
<path d="M456.5,320.2 L460.1,319.6" stroke="#a8523a" stroke-width="3.246362871227606" fill="none" stroke-linecap="round" stroke-linejoin="round"/>
<path d="M410.8,341.9 C412.6,341.1 418.2,338.6 421.6,337.0 C425.1,335.4 429.9,333.0 431.5,332.2" stroke="#a8523a" stroke-width="7.214139713839124" fill="none" stroke-linecap="round" stroke-linejoin="round"/>
<path d="M400.0,345.5 L407.2,345.5" stroke="#a8523a" stroke-width="3.607069856919562" fill="none" stroke-linecap="round" stroke-linejoin="round"/>
<path d="M505.8,257.7 L502.2,267.5" stroke="#c58a6a" stroke-width="5.410604785379343" fill="none" stroke-linecap="round" stroke-linejoin="round"/>
<ellipse cx="498.6" cy="260.1" rx="1.7" ry="1.7" transform="rotate(0 498.6 260.1)" fill="#a8523a"/>
<ellipse cx="468.5" cy="315.4" rx="2.5" ry="2.5" transform="rotate(0 468.5 315.4)" fill="#a8523a"/>
<path d="M413.2,315.4 C414.2,314.0 417.2,315.6 419.2,316.6 C421.2,317.6 423.0,320.8 425.2,321.4 C427.5,322.0 431.4,319.6 432.5,320.2 C433.5,320.8 433.3,323.8 431.5,325.0 C429.7,326.3 424.7,327.7 421.6,327.7 C418.6,327.7 414.6,327.1 413.2,325.0 C411.8,323.0 412.2,316.8 413.2,315.4Z" fill="#a8523a"/>
<path d="M433.7,316.6 C434.7,314.8 437.3,309.2 439.7,305.8 C442.1,302.4 446.7,297.8 448.1,296.2" stroke="#b87352" stroke-width="2.3445954069977155" fill="none" stroke-linecap="round" stroke-linejoin="round"/>
</g>
<path d="M369.6,119.4 C371.7,118.0 378.3,113.3 382.2,110.7 C386.1,108.0 391.2,104.6 393.0,103.4" stroke="#f6e7db" stroke-width="1.442827942767825" fill="none" stroke-linecap="round" stroke-linejoin="round"/>
<path d="M352.1,128.3 C354.1,128.4 360.2,128.0 364.2,128.7 C368.2,129.4 374.2,132.0 376.2,132.7" stroke="#f6e7db" stroke-width="1.6832992665624624" fill="none" stroke-linecap="round" stroke-linejoin="round"/>
<path d="M347.3,185.8 C348.1,187.4 350.5,192.2 352.1,195.4 C353.7,198.6 356.1,203.4 357.0,205.0" stroke="#f6e7db" stroke-width="3.607069856919562" fill="none" stroke-linecap="round" stroke-linejoin="round"/>
<path d="M344.9,197.8 L359.4,191.8" stroke="#f6e7db" stroke-width="2.4047132379463747" fill="none" stroke-linecap="round" stroke-linejoin="round"/>
<path d="M349.7,188.2 L352.1,202.6" stroke="#f6e7db" stroke-width="1.6832992665624624" fill="none" stroke-linecap="round" stroke-linejoin="round"/>
<path d="M353.3,175.0 L353.6,175.2" stroke="#f6e7db" stroke-width="1.9237705903570999" fill="none" stroke-linecap="round" stroke-linejoin="round"/>
<path d="M373.8,183.4 L376.2,188.2" stroke="#f6e7db" stroke-width="3.126127209330287" fill="none" stroke-linecap="round" stroke-linejoin="round"/>
<path d="M336.5,141.3 L337.7,142.5" stroke="#f6e7db" stroke-width="2.1642419141517375" fill="none" stroke-linecap="round" stroke-linejoin="round"/>
<path d="M376.2,173.8 C377.2,177.4 380.4,189.0 382.2,195.4 C384.0,201.8 386.2,209.5 387.0,212.3" stroke="#f6e7db" stroke-width="1.2023566189731874" fill="none" stroke-linecap="round" stroke-linejoin="round"/>
<path d="M404.8,104.0 L416.8,107.7" stroke="#f6e7db" stroke-width="1.442827942767825" fill="none" stroke-linecap="round" stroke-linejoin="round"/>
<path d="M402.4,118.5 C404.4,118.7 410.8,118.5 414.4,119.7 C418.0,120.9 422.4,124.7 424.0,125.7" stroke="#f6e7db" stroke-width="1.442827942767825" fill="none" stroke-linecap="round" stroke-linejoin="round"/>
<path d="M407.2,132.9 L419.2,135.3" stroke="#f6e7db" stroke-width="1.2023566189731874" fill="none" stroke-linecap="round" stroke-linejoin="round"/>
<path d="M412.0,98.0 L424.0,100.4" stroke="#f6e7db" stroke-width="1.2023566189731874" fill="none" stroke-linecap="round" stroke-linejoin="round"/>
<path d="M421.6,164.2 C422.8,165.4 425.9,168.2 428.9,171.4 C431.9,174.6 436.9,179.4 439.7,183.4 C442.5,187.4 444.7,193.4 445.7,195.4" stroke="#f6e7db" stroke-width="1.9237705903570999" fill="none" stroke-linecap="round" stroke-linejoin="round"/>
<path d="M430.1,159.4 L439.7,163.0" stroke="#f6e7db" stroke-width="1.442827942767825" fill="none" stroke-linecap="round" stroke-linejoin="round"/>
<path d="M455.3,166.6 L457.7,178.6" stroke="#f6e7db" stroke-width="1.6832992665624624" fill="none" stroke-linecap="round" stroke-linejoin="round"/>
<path d="M464.9,192.1 L465.2,192.3" stroke="#f6e7db" stroke-width="4.088012504508837" fill="none" stroke-linecap="round" stroke-linejoin="round"/>
<path d="M484.2,161.8 L484.4,167.8" stroke="#f6e7db" stroke-width="2.1642419141517375" fill="none" stroke-linecap="round" stroke-linejoin="round"/>
<path d="M495.0,188.2 L497.4,195.4" stroke="#f6e7db" stroke-width="6.011783094865937" fill="none" stroke-linecap="round" stroke-linejoin="round"/>
<path d="M451.7,94.7 L451.8,94.8" stroke="#f6e7db" stroke-width="1.9237705903570999" fill="none" stroke-linecap="round" stroke-linejoin="round"/>
<path d="M357.0,224.0 L364.2,231.2" stroke="#f6e7db" stroke-width="2.6451845617410124" fill="none" stroke-linecap="round" stroke-linejoin="round"/>
<path d="M354.5,231.2 L366.6,222.8" stroke="#f6e7db" stroke-width="1.6832992665624624" fill="none" stroke-linecap="round" stroke-linejoin="round"/>
<path d="M329.3,244.5 L335.3,248.1" stroke="#f6e7db" stroke-width="2.88565588553565" fill="none" stroke-linecap="round" stroke-linejoin="round"/>
<path d="M332.9,242.1 L331.7,250.5" stroke="#f6e7db" stroke-width="1.6832992665624624" fill="none" stroke-linecap="round" stroke-linejoin="round"/>
<path d="M345.5,256.5 L345.6,260.1" stroke="#f6e7db" stroke-width="2.1642419141517375" fill="none" stroke-linecap="round" stroke-linejoin="round"/>
<path d="M316.1,225.2 L322.1,222.8" stroke="#f6e7db" stroke-width="1.6832992665624624" fill="none" stroke-linecap="round" stroke-linejoin="round"/>
<path d="M304.0,257.7 L311.3,260.1" stroke="#f6e7db" stroke-width="1.2023566189731874" fill="none" stroke-linecap="round" stroke-linejoin="round"/>
<path d="M357.0,284.1 L359.4,291.4" stroke="#f6e7db" stroke-width="1.9237705903570999" fill="none" stroke-linecap="round" stroke-linejoin="round"/>
<path d="M354.5,301.0 L358.2,307.0" stroke="#f6e7db" stroke-width="1.442827942767825" fill="none" stroke-linecap="round" stroke-linejoin="round"/>
<path d="M316.1,262.5 L320.9,268.5" stroke="#f6e7db" stroke-width="1.2023566189731874" fill="none" stroke-linecap="round" stroke-linejoin="round"/>
<path d="M412.0,219.2 C413.2,221.6 416.2,228.8 419.2,233.6 C422.2,238.5 428.3,245.7 430.1,248.1" stroke="#f6e7db" stroke-width="1.803534928459781" fill="none" stroke-linecap="round" stroke-linejoin="round"/>
<path d="M404.8,221.6 L406.0,236.0" stroke="#f6e7db" stroke-width="1.2023566189731874" fill="none" stroke-linecap="round" stroke-linejoin="round"/>
<path d="M410.8,270.9 L414.4,272.1" stroke="#f6e7db" stroke-width="2.4047132379463747" fill="none" stroke-linecap="round" stroke-linejoin="round"/>
<path d="M434.9,275.7 L443.3,282.9" stroke="#f6e7db" stroke-width="2.6451845617410124" fill="none" stroke-linecap="round" stroke-linejoin="round"/>
<path d="M460.1,250.5 L462.5,274.5" stroke="#f6e7db" stroke-width="4.809426475892749" fill="none" stroke-linecap="round" stroke-linejoin="round"/>
<path d="M462.5,227.6 L473.3,219.2" stroke="#f6e7db" stroke-width="2.4047132379463747" fill="none" stroke-linecap="round" stroke-linejoin="round"/>
<path d="M493.8,237.9 L496.2,243.9" stroke="#f6e7db" stroke-width="2.88565588553565" fill="none" stroke-linecap="round" stroke-linejoin="round"/>
<path d="M413.2,300.4 L413.5,304.0" stroke="#f6e7db" stroke-width="1.9237705903570999" fill="none" stroke-linecap="round" stroke-linejoin="round"/>
<path d="M418.0,320.2 L424.0,323.2" stroke="#f6e7db" stroke-width="1.442827942767825" fill="none" stroke-linecap="round" stroke-linejoin="round"/>
<path d="M458.9,251.7 L460.1,257.7" stroke="#a8523a" stroke-width="2.5249488998436935" fill="none" stroke-linecap="round" stroke-linejoin="round"/>
<path d="M463.7,262.5 L462.5,269.7" stroke="#a8523a" stroke-width="2.5249488998436935" fill="none" stroke-linecap="round" stroke-linejoin="round"/>
</g></g>
<rect x="398.6" y="148.6" width="78.4" height="56.4" fill="none" stroke="#000" stroke-width="2.2" />
<line x1="398.6" y1="205.8" x2="283.2" y2="357" stroke="#000" stroke-width="1.7" />
<line x1="477" y1="205.8" x2="516.3" y2="357" stroke="#000" stroke-width="1.7" />
<g clip-path="url(#cNB)">
<rect x="38" y="357.4" width="233.6" height="171.3" fill="#e9e0da" stroke="none" stroke-width="1" />
<g filter="url(#bl1)"><g filter="url(#nzS)">
<path d="M274.2,452.7 C274.2,455.2 277.6,461.1 278.3,459.8 C279.0,458.6 279.0,446.3 278.3,445.1 C277.6,443.9 274.2,450.3 274.2,452.7Z" fill="#d2c5c2"/>
<path d="M275.0,486.2 C274.8,488.1 276.5,493.4 277.0,494.8 C277.6,496.3 278.1,496.8 278.3,494.9 C278.5,493.0 278.9,484.8 278.3,483.4 C277.7,481.9 275.2,484.3 275.0,486.2Z" fill="#cdc0bd"/>
<path d="M201.9,392.4 C202.1,394.5 201.1,393.9 203.8,392.9 C206.5,391.9 216.2,389.1 218.3,386.3 C220.5,383.6 217.5,378.3 216.6,376.3 C215.7,374.3 215.5,373.5 213.1,374.2 C210.8,374.9 204.6,377.4 202.7,380.5 C200.8,383.5 201.7,390.4 201.9,392.4Z" fill="#cbbebb"/>
<path d="M81.7,421.8 C80.9,423.8 78.0,429.9 78.8,432.8 C79.6,435.8 83.3,440.2 86.6,439.6 C89.9,438.9 98.9,432.1 98.4,429.0 C97.9,426.0 86.2,422.3 83.5,421.1 C80.7,419.9 82.5,419.8 81.7,421.8Z" fill="#c7bab7"/>
<path d="M221.8,386.5 C222.8,388.8 223.4,390.7 226.0,390.3 C228.6,389.9 235.3,387.1 237.1,384.2 C239.0,381.2 238.1,375.0 237.3,372.7 C236.6,370.4 235.7,369.7 232.8,370.3 C229.9,370.9 221.9,373.6 220.0,376.3 C218.2,379.0 220.8,384.1 221.8,386.5Z" fill="#d1c4c1"/>
<path d="M61.2,456.5 C59.3,457.9 55.9,461.6 56.6,463.9 C57.3,466.2 62.8,470.8 65.4,470.2 C68.1,469.7 71.5,462.8 72.4,460.6 C73.3,458.4 71.8,458.0 71.1,457.1 C70.4,456.2 69.7,455.4 68.0,455.3 C66.3,455.2 63.1,455.1 61.2,456.5Z" fill="#e2d5d2"/>
<path d="M31.7,425.0 C31.7,425.1 31.9,424.9 31.9,424.7 C31.9,424.6 31.7,424.1 31.7,424.1 C31.7,424.2 31.7,424.9 31.7,425.0Z" fill="#c8bbb8"/>
<path d="M146.8,532.4 C146.2,531.4 144.7,528.4 141.9,528.2 C139.1,528.0 131.7,530.1 129.9,531.1 C128.1,532.1 128.3,533.8 130.9,534.3 C133.5,534.8 142.8,534.6 145.4,534.3 C148.1,534.0 147.4,533.4 146.8,532.4Z" fill="#c7bab7"/>
<path d="M238.0,509.0 C235.5,507.5 225.9,512.3 224.3,515.1 C222.8,517.9 226.2,524.3 228.6,525.7 C231.1,527.1 237.4,526.5 239.0,523.7 C240.5,520.9 240.4,510.4 238.0,509.0Z" fill="#cabdba"/>
<path d="M61.1,364.5 C63.0,366.8 69.8,365.4 72.2,365.1 C74.6,364.7 75.5,364.7 75.5,362.4 C75.6,360.2 74.8,353.5 72.3,351.7 C69.9,349.9 62.6,349.6 60.7,351.7 C58.8,353.8 59.2,362.3 61.1,364.5Z" fill="#cec1be"/>
<path d="M189.7,373.9 C190.4,371.7 188.8,369.3 188.4,368.2 C188.0,367.1 189.7,367.2 187.2,367.3 C184.7,367.3 176.0,367.8 173.5,368.4 C171.1,368.9 171.5,368.4 172.4,370.4 C173.2,372.5 176.5,378.9 178.4,380.7 C180.4,382.5 182.0,382.1 183.9,381.0 C185.8,379.9 188.9,376.0 189.7,373.9Z" fill="#c7bab7"/>
<path d="M208.7,419.9 C208.3,422.3 209.1,427.3 211.9,428.9 C214.8,430.6 222.9,430.2 225.8,429.8 C228.7,429.5 231.3,429.2 229.3,426.6 C227.3,424.0 217.3,415.4 213.9,414.3 C210.4,413.2 209.0,417.5 208.7,419.9Z" fill="#c9bcb9"/>
<path d="M171.6,534.1 C174.0,532.7 170.7,528.0 169.4,526.0 C168.0,524.1 166.3,521.5 163.6,522.5 C160.9,523.6 154.6,530.4 153.1,532.3 C151.6,534.3 151.6,534.0 154.7,534.3 C157.8,534.6 169.2,535.5 171.6,534.1Z" fill="#cabdba"/>
<path d="M155.0,357.7 C153.3,360.2 153.7,364.9 155.3,367.1 C156.8,369.3 161.9,370.5 164.2,370.9 C166.5,371.2 168.1,369.8 169.2,369.0 C170.3,368.3 171.0,369.0 170.7,366.5 C170.4,363.9 168.5,356.2 167.6,353.7 C166.7,351.2 167.5,351.0 165.4,351.7 C163.3,352.4 156.7,355.1 155.0,357.7Z" fill="#c6b9b6"/>
<path d="M160.6,462.3 C157.3,463.2 154.0,473.4 153.1,476.2 C152.3,479.0 152.5,479.4 155.5,479.1 C158.5,478.9 168.3,476.2 171.2,474.9 C174.1,473.6 174.7,473.4 172.9,471.3 C171.1,469.2 163.9,461.5 160.6,462.3Z" fill="#d1c4c1"/>
<path d="M120.4,466.8 C117.5,467.7 117.5,469.6 118.8,472.7 C120.1,475.8 126.0,483.4 127.9,485.5 C129.9,487.5 128.5,486.8 130.3,484.8 C132.1,482.8 137.9,476.4 138.9,473.5 C139.9,470.6 139.3,468.5 136.3,467.3 C133.2,466.2 123.3,465.9 120.4,466.8Z" fill="#dacdca"/>
<path d="M119.2,451.7 C122.5,451.6 130.9,447.4 131.4,444.7 C131.8,442.0 125.1,435.7 121.8,435.5 C118.6,435.3 113.5,441.9 111.8,443.6 C110.1,445.2 110.4,444.0 111.7,445.3 C112.9,446.7 115.9,451.8 119.2,451.7Z" fill="#cbbebb"/>
<path d="M252.7,416.6 C253.0,419.1 254.6,423.0 257.0,423.4 C259.3,423.9 264.8,422.1 266.7,419.2 C268.7,416.3 268.8,408.3 268.5,405.9 C268.2,403.5 267.2,404.1 265.0,404.6 C262.7,405.0 257.1,406.6 255.0,408.6 C253.0,410.6 252.3,414.1 252.7,416.6Z" fill="#c8bbb8"/>
<path d="M157.3,386.3 C158.9,383.7 162.6,376.3 162.0,373.6 C161.4,370.9 156.4,370.0 153.7,370.1 C151.1,370.3 147.2,371.9 146.1,374.4 C145.0,376.8 146.0,382.4 147.0,384.8 C148.0,387.3 150.5,388.9 152.2,389.1 C154.0,389.4 155.7,388.9 157.3,386.3Z" fill="#ccbfbc"/>
<path d="M258.1,426.7 C257.3,428.8 260.8,433.8 263.7,435.3 C266.5,436.8 273.3,437.1 275.2,435.7 C277.1,434.3 276.3,429.1 275.1,426.8 C273.9,424.6 271.0,422.3 268.1,422.3 C265.3,422.3 258.8,424.5 258.1,426.7Z" fill="#d0c3c0"/>
<path d="M254.5,425.9 C255.6,423.3 252.8,419.7 249.9,418.7 C247.1,417.6 240.2,418.4 237.3,419.8 C234.4,421.1 231.7,424.1 232.7,426.6 C233.6,429.0 239.4,434.4 243.0,434.2 C246.6,434.1 253.3,428.5 254.5,425.9Z" fill="#cec1be"/>
<path d="M98.2,455.6 C96.2,457.4 97.8,458.2 98.0,459.0 C98.1,459.9 95.9,459.7 99.1,460.7 C102.3,461.8 113.9,464.8 117.0,465.5 C120.2,466.1 117.8,466.3 117.9,464.5 C117.9,462.6 118.7,457.3 117.4,454.6 C116.0,451.8 113.0,448.0 109.8,448.2 C106.6,448.3 100.2,453.8 98.2,455.6Z" fill="#c8bbb8"/>
<path d="M255.6,513.3 C253.5,511.4 246.3,508.0 243.9,507.2 C241.6,506.4 241.6,505.7 241.4,508.5 C241.1,511.4 241.8,521.3 242.4,524.2 C243.0,527.2 242.7,527.2 245.0,526.2 C247.3,525.3 254.5,520.6 256.3,518.5 C258.0,516.3 257.6,515.1 255.6,513.3Z" fill="#c6b9b6"/>
<path d="M186.0,364.0 C188.0,361.9 186.2,354.5 186.1,352.5 C185.9,350.4 187.6,351.4 185.1,351.7 C182.6,352.0 173.1,351.9 171.2,354.1 C169.3,356.3 171.4,363.3 173.8,364.9 C176.3,366.6 184.0,366.0 186.0,364.0Z" fill="#cbbebb"/>
<path d="M179.5,398.5 C181.5,397.6 187.5,394.4 188.2,392.0 C188.9,389.7 185.3,385.7 183.7,384.4 C182.0,383.1 180.0,383.0 178.4,384.1 C176.8,385.2 174.4,389.0 174.1,391.2 C173.7,393.4 175.3,396.0 176.2,397.3 C177.1,398.5 177.5,399.4 179.5,398.5Z" fill="#cabdba"/>
<path d="M225.7,527.5 C225.2,525.0 222.5,517.8 220.9,515.6 C219.3,513.3 218.5,512.6 216.1,513.9 C213.8,515.2 207.4,520.5 206.7,523.6 C206.1,526.7 211.1,531.1 212.3,532.7 C213.5,534.3 212.1,533.8 214.1,533.4 C216.0,533.0 222.1,531.4 224.0,530.4 C226.0,529.4 226.2,530.0 225.7,527.5Z" fill="#e0d3d0"/>
<path d="M31.7,445.3 C29.6,446.1 31.0,449.3 31.7,451.6 C32.4,453.8 34.5,457.9 36.1,459.0 C37.7,460.1 39.9,460.0 41.2,457.9 C42.6,455.8 46.0,448.5 44.4,446.4 C42.8,444.3 33.8,444.4 31.7,445.3Z" fill="#d5c8c5"/>
<path d="M113.0,506.6 C115.7,508.5 123.0,509.2 125.1,506.5 C127.1,503.7 127.9,492.1 125.2,490.2 C122.4,488.4 110.6,492.4 108.6,495.1 C106.6,497.9 110.3,504.7 113.0,506.6Z" fill="#ddd0cd"/>
<path d="M36.3,368.5 C37.8,367.1 40.3,362.1 40.6,359.5 C40.9,356.9 39.5,353.8 38.1,352.8 C36.8,351.7 33.6,350.6 32.5,353.1 C31.5,355.6 31.1,365.1 31.7,367.7 C32.3,370.2 34.8,369.8 36.3,368.5Z" fill="#cbbebb"/>
<path d="M209.0,455.1 C211.1,454.0 213.3,450.9 213.0,448.2 C212.6,445.5 209.6,440.1 206.9,438.9 C204.2,437.8 197.9,438.7 196.8,441.3 C195.7,444.0 198.4,452.6 200.5,454.9 C202.5,457.2 206.9,456.2 209.0,455.1Z" fill="#d3c6c3"/>
<path d="M174.4,507.3 C171.8,507.3 166.3,510.3 164.5,511.5 C162.6,512.7 163.5,513.2 163.5,514.5 C163.6,515.8 163.6,517.9 164.9,519.3 C166.1,520.7 168.4,523.1 170.8,523.0 C173.3,522.8 177.8,520.1 179.4,518.1 C181.0,516.2 181.2,513.0 180.3,511.1 C179.5,509.3 177.1,507.2 174.4,507.3Z" fill="#dccfcc"/>
<path d="M147.9,498.1 C145.7,500.3 142.6,507.2 141.9,509.4 C141.1,511.6 140.2,510.8 143.3,511.3 C146.4,511.8 157.5,512.8 160.5,512.6 C163.5,512.5 162.2,513.0 161.3,510.3 C160.4,507.6 157.4,498.3 155.1,496.2 C152.9,494.2 150.1,495.9 147.9,498.1Z" fill="#e1d4d1"/>
<path d="M201.0,377.5 C204.0,377.2 209.6,373.2 211.0,371.5 C212.5,369.9 210.9,368.9 209.5,367.6 C208.1,366.3 205.6,363.6 202.6,363.7 C199.7,363.8 193.5,366.6 191.9,368.2 C190.3,369.8 191.5,371.6 193.0,373.2 C194.5,374.7 198.0,377.8 201.0,377.5Z" fill="#cbbebb"/>
<path d="M121.3,527.4 C122.9,528.0 122.9,529.8 123.6,526.9 C124.4,524.0 127.5,512.7 125.7,509.9 C123.9,507.0 114.7,507.8 112.7,510.0 C110.7,512.2 112.4,520.3 113.8,523.2 C115.3,526.1 119.7,526.8 121.3,527.4Z" fill="#c7bab7"/>
<path d="M123.2,376.4 C120.8,374.4 112.2,369.5 109.1,369.3 C106.0,369.1 103.9,372.4 104.8,375.4 C105.6,378.3 111.1,386.1 114.2,387.1 C117.2,388.1 121.6,383.0 123.1,381.2 C124.6,379.4 125.5,378.4 123.2,376.4Z" fill="#cfc2bf"/>
<path d="M136.4,419.2 C136.9,421.5 140.4,426.2 143.0,428.0 C145.6,429.7 150.2,429.5 152.0,429.6 C153.8,429.6 153.6,430.7 153.8,428.5 C154.0,426.2 155.4,418.3 153.2,416.0 C150.9,413.6 143.2,413.6 140.4,414.1 C137.7,414.6 136.0,416.9 136.4,419.2Z" fill="#ccbfbc"/>
<path d="M181.4,435.5 C181.7,438.6 182.9,438.3 184.7,438.7 C186.5,439.1 190.9,440.0 192.2,438.0 C193.4,436.0 194.0,429.5 192.4,426.5 C190.9,423.6 184.8,418.9 183.0,420.4 C181.1,421.9 181.1,432.5 181.4,435.5Z" fill="#c7bab7"/>
<path d="M278.3,463.9 C278.1,463.6 277.1,465.7 277.1,466.5 C277.1,467.2 278.1,468.8 278.3,468.4 C278.5,468.0 278.5,464.2 278.3,463.9Z" fill="#c8bbb8"/>
<path d="M46.6,482.5 C46.0,480.4 46.3,481.5 45.3,481.4 C44.2,481.3 41.8,481.0 40.2,481.7 C38.7,482.3 36.6,482.2 36.1,485.2 C35.7,488.2 36.5,497.3 37.7,499.6 C39.0,502.0 41.8,500.2 43.6,499.2 C45.5,498.2 48.3,496.5 48.8,493.7 C49.3,490.9 47.2,484.5 46.6,482.5Z" fill="#cfc2bf"/>
<path d="M194.9,505.3 C195.7,508.1 199.5,518.4 201.0,521.1 C202.5,523.8 201.8,523.1 204.0,521.5 C206.1,519.9 212.4,514.0 213.7,511.5 C215.1,509.0 215.2,507.7 212.3,506.5 C209.3,505.2 199.1,504.1 196.2,503.9 C193.3,503.7 194.1,502.4 194.9,505.3Z" fill="#dbcecb"/>
<path d="M123.2,353.2 C125.4,351.5 124.7,351.9 122.1,351.7 C119.5,351.5 110.3,350.8 107.5,351.7 C104.7,352.6 105.2,355.2 105.4,356.9 C105.7,358.6 106.0,362.5 109.0,361.9 C112.0,361.3 121.1,354.9 123.2,353.2Z" fill="#d0c3c0"/>
<path d="M217.2,499.7 C215.4,501.2 215.4,503.2 215.4,505.0 C215.3,506.8 215.9,509.4 217.0,510.6 C218.2,511.9 219.2,513.1 222.1,512.4 C224.9,511.7 233.6,509.2 234.2,506.4 C234.9,503.7 229.0,497.2 226.2,496.1 C223.4,495.0 219.0,498.2 217.2,499.7Z" fill="#d3c6c3"/>
<path d="M60.0,534.3 C61.9,535.6 72.3,535.5 75.1,534.3 C77.8,533.1 76.9,529.1 76.5,527.4 C76.1,525.7 74.7,524.5 72.6,524.4 C70.5,524.3 66.1,525.1 64.0,526.8 C61.9,528.4 58.2,533.0 60.0,534.3Z" fill="#cabdba"/>
<path d="M222.8,534.3 C222.8,534.4 224.5,534.4 224.7,534.3 C225.0,534.2 224.7,533.8 224.4,533.8 C224.1,533.8 222.7,534.2 222.8,534.3Z" fill="#d8cbc8"/>
<path d="M31.7,469.1 C30.7,469.6 31.4,480.3 31.7,482.6 C32.0,484.8 32.8,483.2 33.8,482.7 C34.7,482.2 37.8,481.9 37.4,479.6 C37.1,477.3 32.7,468.6 31.7,469.1Z" fill="#d1c4c1"/>
<path d="M150.4,392.6 C151.2,389.9 147.6,387.9 144.9,387.5 C142.2,387.1 136.2,388.5 134.1,390.1 C132.1,391.8 131.6,395.1 132.5,397.4 C133.4,399.7 136.6,404.6 139.6,403.8 C142.5,403.0 149.5,395.3 150.4,392.6Z" fill="#c7bab7"/>
<path d="M60.5,425.1 C61.0,427.4 64.6,432.1 65.8,433.6 C67.0,435.1 66.0,434.5 67.7,434.3 C69.3,434.0 73.7,434.2 75.5,432.1 C77.2,429.9 78.8,423.7 78.3,421.3 C77.9,418.8 75.2,417.6 72.6,417.3 C70.0,417.1 64.8,418.4 62.7,419.7 C60.7,421.0 60.0,422.8 60.5,425.1Z" fill="#cbbebb"/>
<path d="M36.9,503.1 C35.5,504.5 33.7,508.1 35.2,510.7 C36.7,513.3 43.3,517.7 45.8,518.6 C48.3,519.4 49.4,517.0 50.4,515.9 C51.3,514.8 52.6,514.1 51.5,511.9 C50.3,509.7 46.1,504.1 43.7,502.6 C41.2,501.1 38.3,501.8 36.9,503.1Z" fill="#cfc2bf"/>
<path d="M240.5,484.6 C242.5,483.3 242.9,482.1 240.9,480.0 C238.9,477.9 231.1,472.0 228.4,472.0 C225.8,472.0 225.0,477.3 225.1,480.0 C225.2,482.7 226.5,487.4 229.1,488.2 C231.6,488.9 238.5,486.0 240.5,484.6Z" fill="#c6b9b6"/>
<path d="M120.3,432.4 C119.8,429.4 110.6,422.7 107.5,422.1 C104.5,421.4 101.4,425.7 101.9,428.8 C102.4,431.8 107.4,439.7 110.5,440.3 C113.5,440.9 120.8,435.5 120.3,432.4Z" fill="#cabdba"/>
<path d="M111.8,397.3 C109.3,396.7 104.4,398.4 102.4,399.9 C100.4,401.5 98.8,403.8 99.7,406.6 C100.6,409.4 104.7,416.3 107.6,416.6 C110.5,417.0 115.7,411.1 117.4,408.9 C119.0,406.7 118.3,405.4 117.4,403.5 C116.5,401.5 114.3,397.9 111.8,397.3Z" fill="#c8bbb8"/>
<path d="M266.4,534.3 C268.4,535.8 276.3,536.5 278.3,534.3 C280.3,532.1 280.3,522.3 278.3,520.8 C276.3,519.3 268.2,523.1 266.3,525.3 C264.3,527.6 264.4,532.8 266.4,534.3Z" fill="#c7bab7"/>
<path d="M276.4,498.2 C275.3,499.0 271.5,500.4 271.8,503.0 C272.2,505.7 277.2,514.9 278.3,514.1 C279.4,513.3 278.6,500.9 278.3,498.3 C278.0,495.6 277.4,497.4 276.4,498.2Z" fill="#c8bbb8"/>
<path d="M262.3,478.9 C264.6,478.4 266.2,472.5 265.3,469.8 C264.4,467.1 259.1,463.3 256.9,462.7 C254.7,462.0 253.1,464.0 252.1,465.8 C251.1,467.5 249.4,470.8 251.1,473.0 C252.8,475.2 259.9,479.5 262.3,478.9Z" fill="#d1c4c1"/>
<path d="M270.1,364.9 C268.5,365.4 268.1,364.0 269.1,366.5 C270.1,369.0 274.6,377.9 276.2,379.8 C277.7,381.8 277.9,380.7 278.3,378.0 C278.7,375.3 279.7,366.0 278.3,363.8 C276.9,361.6 271.6,364.5 270.1,364.9Z" fill="#c9bcb9"/>
<path d="M79.7,400.5 C77.8,399.0 77.2,400.1 76.2,400.3 C75.2,400.6 74.1,399.8 73.8,402.2 C73.5,404.5 73.5,411.8 74.6,414.6 C75.7,417.3 79.2,418.1 80.5,418.6 C81.8,419.2 81.2,419.5 82.4,417.9 C83.6,416.3 88.0,412.0 87.6,409.1 C87.1,406.2 81.6,401.9 79.7,400.5Z" fill="#d0c3c0"/>
<path d="M48.7,409.6 C46.9,411.9 42.8,422.0 44.2,424.3 C45.7,426.7 54.8,424.6 57.4,423.7 C60.0,422.7 60.0,420.6 59.6,418.4 C59.2,416.2 56.7,411.9 54.9,410.5 C53.1,409.0 50.5,407.2 48.7,409.6Z" fill="#cabdba"/>
<path d="M192.1,474.1 C194.7,474.5 193.7,474.4 194.2,472.1 C194.8,469.7 197.2,462.1 195.3,460.1 C193.4,458.0 185.8,458.1 183.0,459.6 C180.2,461.2 176.8,467.0 178.3,469.4 C179.8,471.8 189.4,473.6 192.1,474.1Z" fill="#cfc2bf"/>
<path d="M245.4,402.2 C242.6,401.8 236.1,403.1 234.9,405.5 C233.6,407.8 235.2,414.7 237.7,416.3 C240.1,418.0 247.2,416.7 249.5,415.3 C251.8,413.9 252.4,410.0 251.7,407.8 C251.0,405.7 248.2,402.6 245.4,402.2Z" fill="#d2c5c2"/>
<path d="M261.0,386.0 C263.3,385.4 272.0,383.9 272.9,381.0 C273.8,378.1 269.1,370.0 266.4,368.5 C263.7,367.1 258.0,369.5 256.7,372.2 C255.4,374.9 258.0,382.4 258.7,384.7 C259.4,387.0 258.6,386.6 261.0,386.0Z" fill="#cdc0bd"/>
<path d="M78.8,361.4 C79.9,363.0 80.7,362.5 82.7,361.4 C84.7,360.2 89.4,355.8 90.6,354.2 C91.8,352.6 92.4,352.1 89.9,351.7 C87.5,351.3 77.7,350.1 75.9,351.7 C74.0,353.3 77.6,359.8 78.8,361.4Z" fill="#cabdba"/>
<path d="M57.7,427.0 C55.0,425.9 47.7,425.3 46.2,427.9 C44.8,430.5 46.5,441.4 49.1,442.5 C51.8,443.6 60.9,437.1 62.4,434.5 C63.8,431.9 60.4,428.1 57.7,427.0Z" fill="#cdc0bd"/>
<path d="M74.5,456.5 C72.7,458.7 74.3,458.5 75.7,459.7 C77.0,460.8 79.5,463.6 82.7,463.4 C85.8,463.2 92.6,459.7 94.6,458.3 C96.6,457.0 96.1,457.2 94.8,455.2 C93.5,453.2 90.2,446.4 86.8,446.6 C83.5,446.8 76.4,454.4 74.5,456.5Z" fill="#d6c9c6"/>
<path d="M76.4,435.3 C73.8,434.3 70.4,434.4 69.4,437.3 C68.3,440.2 69.5,449.8 70.0,452.5 C70.5,455.3 69.8,455.4 72.4,453.9 C74.9,452.4 84.5,446.6 85.2,443.5 C85.9,440.4 79.1,436.4 76.4,435.3Z" fill="#cbbebb"/>
<path d="M275.4,405.5 C274.3,405.2 272.7,403.9 271.9,406.2 C271.0,408.6 269.3,416.6 270.1,419.5 C270.9,422.5 275.3,423.3 276.7,423.8 C278.0,424.3 278.0,425.2 278.3,422.5 C278.6,419.8 278.8,410.5 278.3,407.6 C277.8,404.8 276.4,405.7 275.4,405.5Z" fill="#ccbfbc"/>
<path d="M106.9,366.6 C107.7,365.1 107.6,366.0 106.8,364.7 C106.1,363.4 104.8,360.0 102.5,358.6 C100.2,357.3 95.8,355.9 93.0,356.6 C90.2,357.4 85.2,360.0 85.7,363.3 C86.1,366.5 92.9,374.4 95.5,376.2 C98.2,377.9 99.7,375.6 101.6,374.0 C103.5,372.4 106.0,368.2 106.9,366.6Z" fill="#ccbfbc"/>
<path d="M121.2,463.4 C123.8,464.9 133.1,465.6 136.2,463.9 C139.4,462.3 140.8,456.4 140.3,453.6 C139.8,450.9 136.6,447.3 133.3,447.5 C130.1,447.7 122.8,452.0 120.8,454.7 C118.8,457.3 118.7,461.8 121.2,463.4Z" fill="#d3c6c3"/>
<path d="M127.0,527.5 C128.9,529.8 138.4,527.3 140.7,525.0 C142.9,522.7 141.0,515.8 140.7,513.5 C140.4,511.2 140.9,511.7 139.0,511.2 C137.0,510.8 131.0,507.9 129.0,510.6 C127.0,513.3 125.1,525.1 127.0,527.5Z" fill="#c9bcb9"/>
<path d="M64.4,402.2 C62.3,403.3 58.4,406.8 58.1,409.1 C57.7,411.5 60.1,415.5 62.3,416.3 C64.5,417.1 69.8,416.4 71.2,414.2 C72.6,411.9 71.6,404.9 70.5,402.9 C69.3,400.9 66.4,401.2 64.4,402.2Z" fill="#d3c6c3"/>
<path d="M253.3,372.2 C252.4,369.9 251.9,370.4 249.8,370.6 C247.7,370.7 242.3,370.7 240.7,373.0 C239.2,375.3 239.5,381.7 240.5,384.3 C241.6,386.9 244.4,388.5 246.9,388.6 C249.4,388.7 254.2,387.5 255.3,384.7 C256.4,382.0 254.2,374.6 253.3,372.2Z" fill="#c8bbb8"/>
<path d="M31.7,414.1 C31.6,416.8 33.6,421.9 35.1,423.5 C36.6,425.0 39.3,425.8 41.0,423.4 C42.7,421.0 46.3,411.6 45.4,408.9 C44.5,406.2 37.8,406.3 35.6,407.2 C33.3,408.0 31.8,411.4 31.7,414.1Z" fill="#c6b9b6"/>
<path d="M133.1,386.9 C136.0,387.4 141.9,386.4 143.5,384.4 C145.1,382.3 144.3,377.0 142.7,374.4 C141.2,371.8 137.0,368.5 134.3,368.8 C131.6,369.1 127.9,374.0 126.6,376.1 C125.3,378.2 125.4,379.5 126.5,381.3 C127.6,383.1 130.3,386.3 133.1,386.9Z" fill="#cec1be"/>
<path d="M51.7,519.1 C49.4,518.4 48.4,519.7 47.1,521.7 C45.9,523.8 42.6,529.7 44.2,531.5 C45.9,533.3 54.3,533.6 57.0,532.7 C59.8,531.7 61.6,528.1 60.7,525.8 C59.8,523.6 54.0,519.8 51.7,519.1Z" fill="#c9bcb9"/>
<path d="M200.5,395.6 C199.5,397.6 195.6,404.8 196.7,408.1 C197.9,411.3 204.9,414.7 207.5,415.1 C210.2,415.6 213.2,414.0 212.5,410.9 C211.7,407.7 204.9,398.8 202.9,396.2 C200.9,393.7 201.5,393.6 200.5,395.6Z" fill="#d0c3c0"/>
<path d="M224.4,433.2 C222.6,431.2 214.2,431.7 211.7,432.3 C209.3,432.9 208.9,434.6 209.6,436.9 C210.3,439.2 213.6,444.9 215.7,446.2 C217.9,447.4 221.2,446.5 222.6,444.3 C224.1,442.1 226.3,435.2 224.4,433.2Z" fill="#cec1be"/>
<path d="M174.9,468.6 C178.0,468.4 179.5,460.4 180.1,457.8 C180.6,455.3 180.7,454.5 178.2,453.5 C175.7,452.4 168.1,451.2 165.1,451.4 C162.1,451.6 160.8,453.5 160.2,454.7 C159.6,456.0 159.0,456.5 161.5,458.8 C163.9,461.1 171.8,468.7 174.9,468.6Z" fill="#cabdba"/>
<path d="M128.0,353.7 C128.7,355.3 131.4,361.2 134.1,361.2 C136.7,361.1 142.5,355.0 144.0,353.4 C145.6,351.9 145.8,352.0 143.5,351.7 C141.2,351.4 132.6,351.4 130.0,351.7 C127.4,352.0 127.3,352.2 128.0,353.7Z" fill="#c7bab7"/>
<path d="M248.3,391.7 C246.7,393.6 246.6,397.3 247.5,399.6 C248.5,401.8 251.4,405.0 254.0,405.3 C256.5,405.7 262.0,404.4 262.9,401.7 C263.8,399.0 260.3,391.3 259.4,389.0 C258.4,386.6 258.9,387.2 257.1,387.6 C255.2,388.1 249.9,389.7 248.3,391.7Z" fill="#c7bab7"/>
<path d="M220.9,351.7 C220.5,352.2 228.5,354.4 230.5,354.4 C232.4,354.4 234.4,352.2 232.8,351.7 C231.2,351.2 221.3,351.2 220.9,351.7Z" fill="#d3c6c3"/>
<path d="M263.6,482.8 C261.3,483.6 257.1,488.9 258.0,492.0 C258.9,495.0 266.3,500.5 269.0,501.2 C271.6,501.8 273.3,498.4 273.8,495.9 C274.2,493.5 273.3,488.9 271.6,486.7 C269.9,484.5 265.9,481.9 263.6,482.8Z" fill="#d2c5c2"/>
<path d="M35.8,403.8 C37.8,404.7 44.1,407.1 45.9,405.6 C47.6,404.1 47.5,397.5 46.3,394.7 C45.0,392.0 40.5,388.4 38.5,389.2 C36.4,390.0 34.3,397.2 33.9,399.6 C33.5,402.0 33.8,402.8 35.8,403.8Z" fill="#d1c4c1"/>
<path d="M96.0,493.0 C98.5,494.6 102.3,493.7 103.6,491.8 C104.9,489.9 104.9,484.0 103.9,481.5 C102.9,479.0 100.2,476.8 97.6,476.9 C95.0,477.0 88.6,479.6 88.3,482.3 C88.0,485.0 93.4,491.4 96.0,493.0Z" fill="#d5c8c5"/>
<path d="M194.3,423.7 C197.8,423.8 205.6,420.1 205.7,418.0 C205.7,415.8 197.7,411.4 194.5,410.7 C191.3,410.0 188.0,412.5 186.4,413.6 C184.8,414.7 183.5,415.8 184.8,417.5 C186.1,419.2 190.8,423.6 194.3,423.7Z" fill="#d2c5c2"/>
<path d="M139.2,465.7 C139.0,468.6 140.2,470.9 142.1,472.3 C143.9,473.8 147.5,476.6 150.2,474.5 C152.9,472.3 157.1,462.8 158.2,459.6 C159.3,456.5 157.9,456.4 156.8,455.3 C155.6,454.2 153.4,453.2 151.2,453.1 C149.0,452.9 145.5,452.5 143.5,454.6 C141.5,456.7 139.5,462.7 139.2,465.7Z" fill="#c7bab7"/>
<path d="M162.4,432.1 C160.7,431.2 157.3,431.1 155.9,431.1 C154.5,431.2 154.5,429.2 154.0,432.3 C153.5,435.5 152.5,446.9 153.1,450.2 C153.8,453.5 156.3,452.4 157.9,452.1 C159.6,451.9 161.8,451.1 163.2,448.6 C164.6,446.0 166.4,439.4 166.2,436.7 C166.1,433.9 164.2,433.1 162.4,432.1Z" fill="#c8bbb8"/>
<path d="M183.7,511.5 C182.2,513.2 181.2,516.2 182.8,518.3 C184.4,520.4 190.9,523.6 193.3,524.2 C195.8,524.8 197.8,524.6 197.6,521.8 C197.4,519.1 194.4,509.3 192.1,507.6 C189.8,505.8 185.3,509.7 183.7,511.5Z" fill="#ded1ce"/>
<path d="M222.0,478.6 C224.3,476.7 226.9,471.7 225.7,469.6 C224.6,467.5 218.1,465.1 215.3,466.0 C212.6,466.9 210.0,472.5 209.4,475.0 C208.9,477.5 210.0,480.5 212.1,481.1 C214.2,481.7 219.8,480.6 222.0,478.6Z" fill="#ccbfbc"/>
<path d="M181.2,451.9 C180.9,454.3 180.4,455.5 183.1,456.2 C185.8,456.9 195.6,458.5 197.3,456.0 C199.0,453.6 195.3,443.6 193.3,441.3 C191.3,439.0 187.3,440.3 185.3,442.1 C183.3,443.9 181.6,449.6 181.2,451.9Z" fill="#ccbfbc"/>
<path d="M228.7,493.8 C230.1,496.1 236.0,503.5 237.8,505.5 C239.6,507.5 238.5,506.0 239.3,505.8 C240.1,505.5 241.4,506.0 242.6,504.1 C243.7,502.1 246.2,497.0 246.1,494.3 C245.9,491.6 244.2,488.3 241.4,487.9 C238.7,487.4 231.6,490.6 229.5,491.6 C227.3,492.6 227.3,491.4 228.7,493.8Z" fill="#cec1be"/>
<path d="M181.3,417.0 C183.0,416.3 183.7,414.8 183.3,412.3 C182.8,409.7 179.9,403.7 178.5,401.8 C177.2,399.8 177.4,399.4 175.2,400.5 C172.9,401.6 165.1,405.5 164.8,408.3 C164.5,411.0 170.4,415.5 173.2,416.9 C175.9,418.4 179.6,417.8 181.3,417.0Z" fill="#d1c4c1"/>
<path d="M194.5,501.0 C196.8,500.7 198.8,492.7 198.5,489.9 C198.2,487.2 195.0,484.4 192.7,484.7 C190.3,485.0 184.1,488.9 184.4,491.7 C184.7,494.4 192.1,501.3 194.5,501.0Z" fill="#c8bbb8"/>
<path d="M60.0,367.9 C57.6,369.0 56.6,372.6 56.8,375.2 C57.0,377.8 58.8,382.4 61.2,383.6 C63.7,384.8 69.6,383.0 71.5,382.5 C73.5,382.0 72.9,383.1 72.9,380.8 C72.8,378.4 73.4,370.6 71.3,368.4 C69.1,366.3 62.4,366.7 60.0,367.9Z" fill="#d2c5c2"/>
<path d="M73.7,512.6 C72.7,515.3 73.7,519.6 74.6,521.6 C75.4,523.7 75.9,526.1 78.9,524.9 C81.8,523.7 90.7,517.8 92.2,514.5 C93.6,511.2 89.5,506.9 87.6,505.3 C85.7,503.7 83.1,503.7 80.8,504.9 C78.5,506.1 74.8,509.8 73.7,512.6Z" fill="#cabdba"/>
<path d="M218.2,373.3 C221.0,372.7 229.1,370.0 231.0,367.4 C232.8,364.8 231.4,359.8 229.5,357.7 C227.6,355.6 222.2,353.3 219.4,354.8 C216.6,356.3 213.6,363.8 212.8,366.5 C212.0,369.2 213.6,369.9 214.5,371.1 C215.4,372.2 215.5,374.0 218.2,373.3Z" fill="#c6b9b6"/>
<path d="M93.8,353.3 C95.3,353.9 100.8,355.4 102.4,355.1 C104.1,354.9 105.3,352.3 103.8,351.7 C102.3,351.1 95.1,351.4 93.4,351.7 C91.8,352.0 92.3,352.8 93.8,353.3Z" fill="#d1c4c1"/>
<path d="M209.0,533.8 C211.0,532.2 205.0,526.5 203.5,524.9 C202.1,523.4 201.6,524.0 200.1,524.4 C198.6,524.8 196.1,525.7 194.6,527.3 C193.2,529.0 189.1,533.2 191.5,534.3 C193.8,535.4 207.0,535.3 209.0,533.8Z" fill="#ded1ce"/>
<path d="M212.4,503.1 C215.1,502.7 214.7,500.9 214.0,498.6 C213.3,496.4 210.3,490.9 208.3,489.6 C206.2,488.3 203.5,489.1 201.8,490.9 C200.1,492.8 196.4,498.8 198.2,500.8 C200.0,502.8 209.8,503.4 212.4,503.1Z" fill="#d3c6c3"/>
<path d="M115.8,468.7 C113.2,467.4 102.4,463.5 99.7,464.4 C97.0,465.3 98.4,471.7 99.4,474.0 C100.4,476.4 103.0,478.9 105.7,478.6 C108.4,478.3 113.8,473.9 115.4,472.2 C117.1,470.5 118.4,470.0 115.8,468.7Z" fill="#d8cbc8"/>
<path d="M132.3,366.0 C133.6,364.4 133.3,365.9 132.2,364.2 C131.0,362.5 129.0,355.7 125.4,355.9 C121.7,356.0 112.8,363.4 110.2,365.1 C107.7,366.8 107.9,364.7 110.2,366.1 C112.6,367.5 120.9,373.3 124.6,373.3 C128.3,373.3 131.1,367.5 132.3,366.0Z" fill="#cfc2bf"/>
<path d="M275.1,383.7 C272.5,383.7 264.3,385.9 262.9,388.9 C261.4,391.8 265.1,399.1 266.4,401.5 C267.6,403.8 269.1,402.9 270.5,403.0 C271.8,403.1 273.3,403.6 274.6,402.1 C275.9,400.7 277.7,396.6 278.3,394.4 C278.9,392.3 278.8,390.9 278.3,389.1 C277.8,387.3 277.7,383.8 275.1,383.7Z" fill="#ccbfbc"/>
<path d="M36.9,385.0 C38.3,384.2 39.8,381.2 39.7,379.0 C39.6,376.8 37.5,373.2 36.2,371.9 C34.8,370.6 32.4,369.2 31.7,371.1 C31.0,373.1 30.8,381.3 31.7,383.6 C32.6,385.9 35.6,385.8 36.9,385.0Z" fill="#d2c5c2"/>
<path d="M273.9,465.2 C275.2,464.3 276.0,463.6 275.5,461.8 C275.1,460.0 273.7,455.6 271.2,454.5 C268.7,453.3 262.6,453.8 260.5,454.7 C258.5,455.7 257.8,457.9 259.0,460.0 C260.2,462.1 265.2,466.4 267.6,467.3 C270.1,468.2 272.6,466.1 273.9,465.2Z" fill="#c7bab7"/>
<path d="M48.3,392.0 C51.1,392.6 55.1,390.8 56.7,389.7 C58.4,388.6 58.8,387.6 58.4,385.5 C57.9,383.4 56.6,378.1 54.0,377.3 C51.4,376.4 45.1,378.9 42.8,380.4 C40.5,381.9 39.2,384.3 40.1,386.2 C41.0,388.2 45.6,391.5 48.3,392.0Z" fill="#d3c6c3"/>
<path d="M231.0,429.6 C228.8,428.8 228.8,429.9 228.0,432.4 C227.2,435.0 224.8,441.8 226.0,444.9 C227.1,448.0 232.1,451.5 234.7,451.3 C237.4,451.1 240.9,446.0 242.0,443.7 C243.1,441.4 243.2,439.6 241.4,437.3 C239.5,434.9 233.3,430.4 231.0,429.6Z" fill="#c6b9b6"/>
<path d="M267.3,352.4 C265.9,354.0 268.4,360.1 270.2,361.5 C272.0,362.8 277.0,362.0 278.3,360.4 C279.6,358.8 280.1,353.0 278.3,351.7 C276.5,350.4 268.6,350.7 267.3,352.4Z" fill="#c7bab7"/>
<path d="M120.8,408.8 C122.9,411.1 130.5,417.0 133.4,417.5 C136.3,418.0 137.3,413.5 138.0,411.7 C138.8,410.0 139.2,408.9 137.9,407.0 C136.7,405.0 133.2,400.5 130.3,400.0 C127.5,399.5 122.4,402.5 120.8,403.9 C119.2,405.4 118.7,406.5 120.8,408.8Z" fill="#cdc0bd"/>
<path d="M45.8,443.1 C47.5,440.7 44.5,430.1 42.7,427.4 C40.8,424.7 36.4,424.4 34.6,426.9 C32.9,429.3 30.3,439.2 32.1,441.9 C34.0,444.6 44.0,445.5 45.8,443.1Z" fill="#e0d3d0"/>
<path d="M277.9,403.1 C277.9,403.3 278.2,403.5 278.3,403.4 C278.4,403.3 278.4,402.3 278.3,402.3 C278.2,402.2 277.9,402.9 277.9,403.1Z" fill="#c6b9b6"/>
<path d="M62.1,508.6 C59.5,508.6 56.2,511.4 54.8,512.6 C53.4,513.9 52.4,514.6 53.8,516.4 C55.2,518.2 60.3,522.7 63.2,523.5 C66.1,524.3 69.9,523.0 71.1,521.3 C72.3,519.5 71.9,515.1 70.4,513.0 C68.9,510.9 64.7,508.7 62.1,508.6Z" fill="#cdc0bd"/>
<path d="M171.2,478.5 C168.3,477.3 159.0,480.0 156.5,482.4 C154.1,484.8 153.4,491.8 156.4,493.0 C159.3,494.2 171.7,492.0 174.2,489.6 C176.6,487.2 174.2,479.7 171.2,478.5Z" fill="#c6b9b6"/>
<path d="M245.3,443.0 C247.3,444.6 253.6,447.6 256.2,446.6 C258.8,445.6 260.9,440.0 260.8,437.1 C260.7,434.2 258.4,429.2 255.7,429.2 C253.0,429.3 246.5,434.9 244.8,437.2 C243.0,439.5 243.4,441.5 245.3,443.0Z" fill="#d3c6c3"/>
<path d="M73.6,495.2 C71.7,493.7 68.2,493.7 66.5,493.9 C64.8,494.2 63.7,495.0 63.3,496.9 C62.8,498.9 62.4,503.5 63.7,505.7 C65.1,507.8 69.2,510.3 71.6,509.8 C74.0,509.4 77.7,505.4 78.0,502.9 C78.3,500.5 75.5,496.7 73.6,495.2Z" fill="#d3c6c3"/>
<path d="M87.9,501.9 C89.9,500.8 93.7,498.0 93.1,494.8 C92.5,491.7 87.1,483.3 84.4,483.1 C81.6,483.0 77.2,490.8 76.7,493.8 C76.1,496.9 79.2,500.2 81.1,501.5 C83.0,502.9 85.9,503.0 87.9,501.9Z" fill="#d0c3c0"/>
<path d="M31.7,396.2 C32.3,396.3 35.3,389.6 35.3,388.1 C35.3,386.6 32.3,385.8 31.7,387.1 C31.1,388.5 31.1,396.0 31.7,396.2Z" fill="#cbbebb"/>
<path d="M176.2,472.3 C173.5,472.1 174.0,473.6 174.2,476.5 C174.5,479.4 176.5,487.5 177.7,489.7 C178.9,491.9 179.1,491.2 181.3,489.8 C183.5,488.5 189.4,483.8 191.0,481.7 C192.6,479.6 193.3,478.8 190.8,477.2 C188.4,475.7 179.0,472.4 176.2,472.3Z" fill="#c9bcb9"/>
<path d="M216.7,352.8 C217.7,350.7 218.5,351.9 216.2,351.7 C213.8,351.5 204.6,350.2 202.6,351.7 C200.6,353.2 203.0,358.7 204.3,360.8 C205.6,362.8 208.2,365.4 210.3,364.1 C212.3,362.8 215.7,354.8 216.7,352.8Z" fill="#d0c3c0"/>
<path d="M244.6,533.6 C247.0,532.8 244.2,530.4 243.5,529.3 C242.8,528.2 242.8,527.0 240.4,526.9 C237.9,526.9 230.9,528.4 228.7,529.2 C226.5,530.0 227.1,530.9 227.2,531.8 C227.2,532.6 225.9,534.0 228.8,534.3 C231.7,534.6 242.1,534.4 244.6,533.6Z" fill="#dccfcc"/>
<path d="M153.8,392.8 C154.3,395.5 159.2,405.0 162.4,405.9 C165.5,406.7 171.4,400.2 172.9,398.0 C174.3,395.7 173.2,393.8 170.9,392.4 C168.6,391.0 161.8,389.3 158.9,389.3 C156.0,389.4 153.2,390.0 153.8,392.8Z" fill="#c6b9b6"/>
<path d="M126.3,531.0 C125.4,530.4 123.2,530.1 122.1,530.7 C121.0,531.2 119.0,533.7 119.9,534.3 C120.7,534.9 126.3,534.9 127.3,534.3 C128.4,533.7 127.2,531.6 126.3,531.0Z" fill="#cdc0bd"/>
<path d="M150.1,530.4 C153.0,529.5 159.8,522.3 161.5,519.9 C163.2,517.5 163.3,516.9 160.4,516.1 C157.5,515.2 146.8,513.2 144.1,514.8 C141.4,516.4 143.0,523.0 144.0,525.6 C145.1,528.2 147.2,531.4 150.1,530.4Z" fill="#cfc2bf"/>
<path d="M223.8,447.5 C220.9,446.7 218.1,448.1 216.1,449.6 C214.1,451.1 212.1,454.6 212.0,456.8 C211.9,458.9 213.3,461.0 215.8,462.6 C218.2,464.2 223.8,467.3 226.7,466.3 C229.7,465.3 232.3,458.4 233.4,456.4 C234.5,454.5 234.9,455.9 233.3,454.4 C231.7,452.9 226.6,448.3 223.8,447.5Z" fill="#c8bbb8"/>
<path d="M206.5,395.5 C205.6,398.6 211.6,407.4 214.7,408.1 C217.9,408.9 223.6,402.4 225.2,400.0 C226.7,397.5 225.0,395.0 224.2,393.3 C223.3,391.5 222.9,389.0 219.9,389.4 C217.0,389.7 207.3,392.3 206.5,395.5Z" fill="#c7bab7"/>
<path d="M249.7,353.3 C250.5,353.3 252.8,352.0 252.4,351.7 C252.0,351.4 247.8,351.4 247.4,351.7 C246.9,352.0 248.8,353.3 249.7,353.3Z" fill="#ccbfbc"/>
<path d="M135.2,444.6 C135.1,447.9 140.3,450.4 142.8,451.3 C145.2,452.2 148.4,453.0 149.7,449.9 C151.0,446.8 151.7,435.8 150.6,432.8 C149.4,429.7 145.5,429.4 142.9,431.4 C140.3,433.4 135.2,441.3 135.2,444.6Z" fill="#cbbebb"/>
<path d="M31.7,463.2 C32.0,463.6 33.2,461.7 33.2,460.9 C33.2,460.0 32.0,457.9 31.7,458.3 C31.4,458.6 31.4,462.7 31.7,463.2Z" fill="#cfc2bf"/>
<path d="M262.6,534.3 C263.9,532.7 263.6,527.1 262.9,525.0 C262.1,522.8 260.7,520.7 258.1,521.4 C255.4,522.0 248.6,527.2 246.9,529.0 C245.2,530.9 246.3,531.5 247.8,532.4 C249.2,533.2 253.0,534.0 255.5,534.3 C258.0,534.6 261.4,535.9 262.6,534.3Z" fill="#d2c5c2"/>
<path d="M67.4,490.6 C68.8,492.4 71.5,493.4 73.9,491.8 C76.3,490.3 82.6,483.6 81.5,481.3 C80.4,479.0 69.9,478.2 67.2,478.1 C64.5,478.1 65.2,479.0 65.2,481.1 C65.3,483.2 65.9,488.9 67.4,490.6Z" fill="#d1c4c1"/>
<path d="M229.3,468.5 C230.5,471.5 239.5,476.3 242.5,477.1 C245.6,477.8 246.6,475.0 247.7,473.1 C248.7,471.2 250.7,468.1 248.7,465.7 C246.7,463.4 238.9,458.7 235.7,459.1 C232.5,459.6 228.2,465.5 229.3,468.5Z" fill="#cbbebb"/>
<path d="M73.7,397.9 C73.7,395.7 73.1,387.8 71.1,386.0 C69.0,384.2 63.3,386.2 61.5,387.0 C59.6,387.8 59.4,389.0 59.9,390.9 C60.5,392.9 62.8,397.4 64.7,398.9 C66.7,400.3 70.1,399.8 71.6,399.6 C73.1,399.5 73.8,400.2 73.7,397.9Z" fill="#d1c4c1"/>
<path d="M158.2,351.7 C157.2,351.2 147.9,351.2 147.1,351.7 C146.2,352.2 151.2,354.9 153.1,354.9 C154.9,354.9 159.2,352.2 158.2,351.7Z" fill="#cabdba"/>
<path d="M212.6,464.0 C213.0,461.6 211.2,459.4 209.1,458.5 C206.9,457.6 201.5,458.2 199.8,458.3 C198.1,458.5 199.1,457.1 198.8,459.3 C198.4,461.4 196.4,469.2 197.7,471.5 C199.0,473.7 204.2,474.2 206.7,472.9 C209.2,471.7 212.2,466.4 212.6,464.0Z" fill="#ccbfbc"/>
<path d="M91.8,390.1 C89.1,390.1 83.1,396.0 82.9,398.9 C82.6,401.7 88.0,405.9 90.3,407.0 C92.5,408.1 95.0,406.8 96.5,405.5 C98.0,404.1 100.0,401.4 99.2,398.8 C98.4,396.3 94.5,390.1 91.8,390.1Z" fill="#d3c6c3"/>
<path d="M53.6,373.9 C56.0,372.3 58.2,369.5 56.5,367.5 C54.7,365.5 46.1,361.3 43.2,361.8 C40.4,362.3 39.3,367.8 39.2,370.4 C39.1,372.9 40.1,376.4 42.5,377.0 C44.9,377.6 51.3,375.4 53.6,373.9Z" fill="#cabdba"/>
<path d="M246.0,504.4 C247.3,506.9 253.7,510.4 256.9,510.1 C260.2,509.9 265.9,505.6 265.7,502.9 C265.4,500.2 258.1,495.4 255.3,494.2 C252.6,492.9 250.8,493.8 249.2,495.5 C247.7,497.2 244.8,502.0 246.0,504.4Z" fill="#d1c4c1"/>
<path d="M108.4,443.2 C107.0,441.1 103.2,432.4 99.9,432.3 C96.6,432.2 89.0,439.1 88.4,442.5 C87.9,445.8 93.5,452.0 96.8,452.4 C100.1,452.8 106.3,446.6 108.3,445.1 C110.2,443.6 109.8,445.4 108.4,443.2Z" fill="#c9bcb9"/>
<path d="M129.2,396.7 C131.1,394.8 131.6,391.4 130.8,389.4 C130.1,387.3 127.3,384.0 124.7,384.2 C122.1,384.4 117.1,388.6 115.3,390.4 C113.6,392.2 113.5,393.2 114.2,394.9 C114.9,396.6 117.1,400.5 119.6,400.8 C122.1,401.1 127.3,398.6 129.2,396.7Z" fill="#d2c5c2"/>
<path d="M112.0,389.8 C110.5,387.0 104.7,379.1 102.1,377.4 C99.4,375.7 97.5,378.5 96.1,379.6 C94.6,380.7 93.8,382.8 93.4,384.0 C93.0,385.3 92.2,384.9 93.6,387.0 C95.0,389.1 98.8,395.4 101.7,396.6 C104.6,397.7 109.2,395.1 110.9,394.0 C112.6,392.9 113.4,392.5 112.0,389.8Z" fill="#d0c3c0"/>
<path d="M78.1,364.8 C76.8,365.2 74.9,365.0 74.6,367.5 C74.3,370.0 73.5,377.4 76.2,379.8 C78.9,382.1 88.0,382.0 90.8,381.8 C93.6,381.5 94.3,381.1 92.9,378.3 C91.5,375.5 85.0,367.0 82.5,364.8 C80.1,362.5 79.4,364.3 78.1,364.8Z" fill="#c9bcb9"/>
<path d="M79.8,528.3 C78.0,528.3 76.9,533.3 78.5,534.3 C80.2,535.3 89.3,535.3 89.5,534.3 C89.7,533.3 81.6,528.3 79.8,528.3Z" fill="#c8bbb8"/>
<path d="M234.4,367.3 C235.5,369.5 236.9,369.8 239.3,369.8 C241.6,369.9 246.8,369.7 248.2,367.5 C249.7,365.2 249.1,358.8 247.9,356.2 C246.8,353.6 243.1,352.5 241.3,351.7 C239.5,350.9 238.6,350.8 237.2,351.7 C235.8,352.6 233.3,354.3 232.8,356.9 C232.4,359.4 233.3,365.1 234.4,367.3Z" fill="#c8bbb8"/>
<path d="M64.6,475.8 C64.9,474.9 66.0,475.2 64.3,473.6 C62.5,472.0 56.0,467.3 54.0,466.2 C52.0,465.0 53.4,464.5 52.4,466.6 C51.3,468.8 46.2,477.0 47.8,479.1 C49.5,481.2 59.7,479.7 62.5,479.1 C65.3,478.6 64.3,476.8 64.6,475.8Z" fill="#c8bbb8"/>
<path d="M109.1,512.2 C106.9,511.0 97.9,513.6 96.9,516.0 C95.8,518.4 100.5,525.3 102.8,526.6 C105.1,527.8 109.3,525.6 110.4,523.2 C111.5,520.8 111.4,513.4 109.1,512.2Z" fill="#cec1be"/>
<path d="M141.5,475.7 C138.8,477.0 132.8,482.7 133.7,485.9 C134.7,489.1 143.7,493.7 146.9,494.9 C150.1,496.0 151.9,494.9 153.0,492.7 C154.0,490.5 153.6,484.1 153.2,481.7 C152.7,479.2 152.1,478.9 150.1,477.9 C148.2,477.0 144.2,474.4 141.5,475.7Z" fill="#e0d3d0"/>
<path d="M236.7,454.2 C235.4,455.8 234.5,454.4 236.8,455.9 C239.1,457.3 247.3,462.2 250.4,462.8 C253.6,463.4 254.4,461.1 255.6,459.5 C256.8,457.9 257.4,454.8 257.4,453.2 C257.5,451.7 258.1,451.2 255.9,450.0 C253.7,448.9 247.5,445.6 244.3,446.3 C241.1,446.9 237.9,452.6 236.7,454.2Z" fill="#d0c3c0"/>
<path d="M95.2,512.9 C98.4,513.7 108.3,511.1 109.9,508.1 C111.5,505.1 107.1,497.0 104.8,495.1 C102.6,493.1 98.5,495.0 96.1,496.4 C93.8,497.9 90.8,501.1 90.7,503.8 C90.5,506.6 92.0,512.2 95.2,512.9Z" fill="#d0c3c0"/>
<path d="M191.5,390.9 C193.5,392.5 197.2,394.0 198.5,392.3 C199.8,390.5 200.4,383.1 199.3,380.4 C198.2,377.8 194.0,376.1 191.9,376.5 C189.8,376.9 186.8,380.5 186.7,382.9 C186.7,385.3 189.6,389.4 191.5,390.9Z" fill="#d3c6c3"/>
<path d="M61.0,494.4 C63.0,494.2 63.9,493.5 64.1,491.5 C64.3,489.6 64.4,484.0 62.1,482.6 C59.8,481.2 51.8,481.4 50.2,483.1 C48.5,484.8 50.3,490.9 52.1,492.8 C53.9,494.6 59.0,494.6 61.0,494.4Z" fill="#c7bab7"/>
<path d="M128.5,507.2 C130.2,510.3 136.2,509.5 138.9,507.8 C141.5,506.2 145.8,500.6 144.5,497.3 C143.2,494.0 133.7,489.5 131.0,488.1 C128.4,486.7 129.0,485.6 128.6,488.8 C128.2,492.0 126.8,504.0 128.5,507.2Z" fill="#d6c9c6"/>
<path d="M251.3,356.3 C250.1,358.9 251.0,365.5 251.6,367.7 C252.2,369.8 252.5,369.7 254.9,369.2 C257.3,368.8 264.0,366.0 266.0,365.0 C268.1,364.0 267.5,365.2 267.2,363.1 C266.8,361.1 264.8,354.8 263.9,352.9 C263.0,351.0 262.4,351.9 261.6,351.7 C260.8,351.5 260.9,350.9 259.2,351.7 C257.5,352.5 252.6,353.6 251.3,356.3Z" fill="#d0c3c0"/>
<path d="M109.6,419.4 C110.1,422.1 118.4,428.4 121.8,428.4 C125.3,428.4 130.8,422.3 130.4,419.5 C129.9,416.8 122.6,411.8 119.1,411.8 C115.7,411.8 109.2,416.6 109.6,419.4Z" fill="#d2c5c2"/>
<path d="M133.6,421.1 C130.9,421.5 123.8,429.1 123.7,432.6 C123.6,436.0 130.3,442.1 133.0,441.6 C135.7,441.1 139.9,433.1 140.0,429.6 C140.1,426.2 136.3,420.6 133.6,421.1Z" fill="#d1c4c1"/>
<path d="M238.7,387.2 C235.8,387.5 229.3,391.2 227.6,393.3 C225.9,395.4 227.6,398.1 228.5,399.7 C229.4,401.2 230.4,402.6 233.0,402.5 C235.6,402.3 242.2,400.8 244.2,399.0 C246.2,397.1 245.9,393.3 244.9,391.4 C244.0,389.4 241.6,386.8 238.7,387.2Z" fill="#c8bbb8"/>
<path d="M215.9,411.6 C216.5,415.0 227.6,422.2 230.7,423.2 C233.8,424.3 234.4,420.8 234.5,417.8 C234.6,414.8 232.6,407.9 231.3,405.4 C230.1,402.9 229.7,401.7 227.1,402.8 C224.5,403.8 215.3,408.1 215.9,411.6Z" fill="#cbbebb"/>
<path d="M31.7,510.5 C32.0,510.6 33.2,504.8 33.2,503.5 C33.2,502.3 32.0,501.9 31.7,503.1 C31.4,504.2 31.4,510.5 31.7,510.5Z" fill="#c7bab7"/>
<path d="M51.4,463.4 C52.8,464.1 52.1,464.2 53.3,462.9 C54.4,461.5 58.6,457.9 58.0,455.1 C57.5,452.3 51.6,447.6 50.0,446.0 C48.3,444.5 49.1,443.7 48.2,445.8 C47.3,447.9 44.0,455.7 44.6,458.6 C45.1,461.5 49.9,462.7 51.4,463.4Z" fill="#e0d3d0"/>
<path d="M141.4,410.8 C143.5,411.8 151.2,413.2 154.2,412.7 C157.2,412.2 159.9,410.5 159.5,407.8 C159.1,405.0 154.8,396.1 151.8,396.0 C148.8,395.8 143.1,404.4 141.3,406.9 C139.6,409.4 139.3,409.9 141.4,410.8Z" fill="#c7bab7"/>
<path d="M46.7,500.9 C47.1,503.1 51.5,508.5 53.7,509.3 C56.0,510.1 59.3,507.7 60.3,505.7 C61.4,503.8 61.4,499.3 59.9,497.7 C58.4,496.1 53.4,495.5 51.2,496.1 C49.0,496.6 46.3,498.7 46.7,500.9Z" fill="#cabdba"/>
<path d="M195.6,438.1 C197.3,439.6 204.2,436.8 206.5,435.6 C208.7,434.3 208.9,432.7 208.9,430.4 C208.8,428.2 208.1,422.9 205.9,422.3 C203.7,421.6 197.5,424.1 195.8,426.7 C194.1,429.4 193.8,436.7 195.6,438.1Z" fill="#d0c3c0"/>
<path d="M161.9,410.2 C159.6,409.6 157.3,412.2 156.5,415.2 C155.7,418.1 156.2,425.6 157.2,427.9 C158.2,430.2 160.4,430.3 162.6,428.7 C164.8,427.2 170.3,421.8 170.2,418.7 C170.1,415.6 164.2,410.8 161.9,410.2Z" fill="#d0c3c0"/>
<path d="M85.6,479.9 C87.6,479.1 94.4,476.9 96.0,473.9 C97.7,470.8 97.5,462.9 95.6,461.6 C93.6,460.4 86.2,463.5 84.3,466.4 C82.4,469.3 84.1,477.0 84.3,479.2 C84.5,481.5 83.6,480.8 85.6,479.9Z" fill="#dfd2cf"/>
<path d="M41.3,351.7 C39.1,352.8 41.0,356.2 43.8,358.3 C46.5,360.4 55.4,365.4 57.7,364.3 C59.9,363.2 60.0,353.8 57.3,351.7 C54.6,349.6 43.6,350.6 41.3,351.7Z" fill="#ccbfbc"/>
<path d="M264.9,522.2 C267.7,522.1 275.9,520.8 276.6,517.8 C277.2,514.9 271.8,505.5 268.9,504.7 C265.9,503.8 260.5,510.6 258.9,512.9 C257.4,515.1 258.7,516.8 259.7,518.3 C260.7,519.9 262.0,522.3 264.9,522.2Z" fill="#d3c6c3"/>
<path d="M97.1,408.8 C94.7,407.3 92.7,408.8 90.8,410.4 C88.9,412.0 84.4,416.0 85.9,418.6 C87.4,421.2 96.6,425.8 99.8,425.9 C103.1,426.1 105.8,422.2 105.4,419.3 C104.9,416.5 99.5,410.3 97.1,408.8Z" fill="#cdc0bd"/>
<path d="M189.5,353.0 C188.0,355.2 188.3,363.9 190.2,365.2 C192.0,366.5 199.3,363.1 200.8,360.8 C202.3,358.6 201.1,353.0 199.2,351.7 C197.3,350.4 191.0,350.7 189.5,353.0Z" fill="#cbbebb"/>
<path d="M265.5,479.9 C266.2,482.1 270.7,483.7 272.9,483.5 C275.0,483.4 277.4,480.4 278.3,478.9 C279.2,477.4 278.9,476.4 278.3,474.7 C277.7,473.0 276.0,469.3 274.4,468.6 C272.8,467.9 270.1,468.7 268.6,470.6 C267.1,472.4 264.8,477.8 265.5,479.9Z" fill="#d3c6c3"/>
<path d="M260.3,451.3 C262.3,451.8 268.4,452.9 271.2,451.1 C274.0,449.2 276.3,442.2 277.1,440.2 C278.0,438.2 278.4,439.4 276.2,439.1 C273.9,438.9 266.6,437.1 263.8,438.7 C260.9,440.3 259.6,446.5 259.0,448.7 C258.4,450.8 258.3,450.9 260.3,451.3Z" fill="#ccbfbc"/>
<path d="M31.7,514.9 C31.4,517.1 30.1,524.7 31.7,527.1 C33.3,529.6 39.3,530.6 41.3,529.6 C43.3,528.6 45.0,523.9 43.7,521.3 C42.4,518.6 35.3,514.6 33.3,513.6 C31.3,512.5 32.0,512.6 31.7,514.9Z" fill="#cbbebb"/>
<path d="M151.6,357.9 C150.7,356.0 149.0,354.9 146.3,356.0 C143.6,357.0 137.3,362.7 135.6,364.3 C133.8,365.9 134.2,364.5 135.7,365.7 C137.2,366.9 141.7,371.2 144.4,371.4 C147.1,371.7 150.7,369.5 151.9,367.3 C153.1,365.0 152.5,359.8 151.6,357.9Z" fill="#c7bab7"/>
<path d="M169.4,438.0 C167.4,439.7 165.3,446.2 166.8,448.2 C168.3,450.2 175.8,451.3 178.3,450.0 C180.9,448.8 182.0,442.9 182.1,440.9 C182.2,438.9 181.0,438.4 178.9,437.9 C176.8,437.4 171.4,436.2 169.4,438.0Z" fill="#c7bab7"/>
<path d="M80.9,466.3 C79.9,463.9 77.0,462.0 74.8,463.1 C72.6,464.2 68.8,471.1 67.6,473.0 C66.5,475.0 65.7,474.0 67.9,474.8 C70.1,475.6 78.7,479.1 80.9,477.7 C83.1,476.3 81.9,468.7 80.9,466.3Z" fill="#ded1ce"/>
<path d="M32.8,486.1 C32.4,483.7 31.9,483.7 31.7,486.0 C31.5,488.2 31.3,497.1 31.7,499.5 C32.1,501.9 34.2,502.6 34.4,500.3 C34.5,498.1 33.3,488.4 32.8,486.1Z" fill="#cabdba"/>
<path d="M216.5,496.3 C218.9,497.2 223.8,493.8 225.4,492.8 C227.0,491.8 226.8,492.1 226.3,490.3 C225.8,488.5 224.7,483.0 222.3,482.1 C220.0,481.1 214.2,483.6 212.4,484.5 C210.5,485.5 210.3,485.6 211.0,487.6 C211.7,489.5 214.1,495.5 216.5,496.3Z" fill="#d0c3c0"/>
<path d="M254.7,490.8 C256.6,489.1 261.1,484.2 260.3,481.7 C259.4,479.2 252.1,476.3 249.4,476.0 C246.8,475.7 245.2,478.5 244.3,480.0 C243.3,481.6 243.1,483.4 243.8,485.4 C244.6,487.4 246.9,491.2 248.7,492.1 C250.5,493.0 252.8,492.6 254.7,490.8Z" fill="#cbbebb"/>
<path d="M191.1,526.8 C190.0,524.6 184.0,521.3 181.0,521.2 C177.9,521.0 173.8,523.8 172.8,525.7 C171.8,527.7 172.5,531.4 174.8,532.8 C177.0,534.2 184.0,534.1 186.1,534.3 C188.3,534.5 186.9,535.5 187.7,534.3 C188.5,533.1 192.3,529.0 191.1,526.8Z" fill="#d7cac7"/>
<path d="M174.8,493.0 C172.4,491.7 160.7,493.8 158.9,496.3 C157.1,498.8 161.6,506.7 164.0,508.0 C166.3,509.3 171.3,506.6 173.1,504.1 C174.9,501.6 177.2,494.3 174.8,493.0Z" fill="#e2d5d2"/>
<path d="M201.0,487.6 C203.3,488.4 206.5,487.0 207.9,486.2 C209.3,485.4 209.5,484.7 209.3,483.1 C209.0,481.4 208.5,477.7 206.3,476.3 C204.2,474.9 198.4,474.6 196.4,474.7 C194.4,474.8 194.5,475.6 194.2,476.7 C193.9,477.9 193.2,479.8 194.4,481.6 C195.5,483.5 198.8,486.9 201.0,487.6Z" fill="#cdc0bd"/>
<path d="M107.0,492.1 C109.9,492.9 123.1,489.6 124.7,486.8 C126.4,484.1 119.5,476.4 116.6,475.5 C113.7,474.6 108.9,478.9 107.3,481.6 C105.7,484.4 104.1,491.2 107.0,492.1Z" fill="#e0d3d0"/>
<path d="M149.9,533.9 C149.8,533.9 149.5,534.2 149.6,534.3 C149.7,534.4 150.2,534.4 150.3,534.3 C150.4,534.2 150.0,533.9 149.9,533.9Z" fill="#ccbfbc"/>
<path d="M173.3,420.3 C170.9,422.0 166.2,428.1 165.5,430.5 C164.8,432.9 166.8,433.9 168.9,434.6 C171.0,435.2 176.3,436.8 178.1,434.5 C179.8,432.1 180.4,422.9 179.6,420.6 C178.8,418.2 175.6,418.7 173.3,420.3Z" fill="#d2c5c2"/>
<path d="M171.4,389.0 C173.8,388.3 175.7,385.1 175.4,382.3 C175.2,379.6 171.3,373.9 169.6,372.5 C168.0,371.1 166.9,371.7 165.5,374.0 C164.0,376.3 159.9,383.8 160.9,386.3 C161.9,388.8 169.0,389.7 171.4,389.0Z" fill="#c9bcb9"/>
<path d="M118.6,529.8 C118.0,528.4 114.7,526.1 112.1,526.2 C109.6,526.2 105.1,528.8 103.4,530.0 C101.8,531.2 102.2,532.6 102.3,533.3 C102.3,534.0 101.4,534.1 103.6,534.3 C105.9,534.5 113.4,535.1 115.9,534.3 C118.4,533.5 119.3,531.1 118.6,529.8Z" fill="#cdc0bd"/>
<path d="M49.2,406.2 C50.2,408.2 53.3,408.1 55.3,407.1 C57.4,406.1 61.3,402.6 61.6,400.2 C61.9,397.9 59.2,393.9 57.2,393.1 C55.2,392.2 51.0,393.0 49.7,395.2 C48.3,397.4 48.3,404.2 49.2,406.2Z" fill="#cfc2bf"/>
<path d="M193.4,407.5 C195.2,405.0 197.4,397.6 197.0,395.4 C196.6,393.2 193.4,393.4 190.9,394.3 C188.4,395.2 182.7,398.3 181.9,401.0 C181.1,403.6 184.1,409.0 186.0,410.1 C187.9,411.2 191.5,409.9 193.4,407.5Z" fill="#cfc2bf"/>
<path d="M31.7,402.9 C31.5,403.3 31.5,406.7 31.7,407.1 C31.9,407.5 32.8,405.9 32.8,405.2 C32.8,404.5 31.9,402.6 31.7,402.9Z" fill="#cdc0bd"/>
<path d="M90.1,385.1 C87.6,384.4 78.0,383.2 75.4,383.1 C72.8,383.0 74.0,382.2 74.3,384.5 C74.5,386.9 76.1,394.9 77.0,397.0 C77.9,399.1 77.6,398.7 79.8,397.1 C82.0,395.4 88.5,389.0 90.2,387.0 C91.9,385.0 92.6,385.7 90.1,385.1Z" fill="#d0c3c0"/>
<path d="M36.3,462.4 C34.9,463.3 33.2,463.4 33.9,466.0 C34.6,468.7 38.8,476.2 40.6,478.2 C42.4,480.2 43.2,480.1 44.6,478.0 C46.0,476.0 49.4,468.7 49.0,465.9 C48.6,463.1 44.4,461.7 42.2,461.1 C40.1,460.6 37.7,461.6 36.3,462.4Z" fill="#cdc0bd"/>
<path d="M181.1,493.2 C178.9,491.4 179.0,491.2 178.2,493.1 C177.4,495.0 175.8,502.0 176.5,504.5 C177.2,507.1 179.8,508.5 182.3,508.4 C184.9,508.3 192.0,506.3 191.8,503.8 C191.6,501.3 183.4,495.0 181.1,493.2Z" fill="#d9ccc9"/>
<path d="M93.8,517.5 C91.0,517.1 82.7,523.5 83.0,526.3 C83.3,529.1 93.2,533.2 95.9,534.3 C98.5,535.3 98.1,533.6 98.9,532.7 C99.6,531.8 101.1,531.4 100.2,528.9 C99.4,526.4 96.7,518.0 93.8,517.5Z" fill="#d0c3c0"/>
<path d="M64.9,436.9 C62.8,438.1 54.1,442.0 53.4,444.7 C52.7,447.4 58.6,451.9 60.8,453.1 C63.0,454.3 65.7,454.7 66.6,452.1 C67.4,449.5 66.2,439.8 65.9,437.3 C65.7,434.7 67.0,435.7 64.9,436.9Z" fill="#e0d3d0"/>
</g></g>
<circle cx="86" cy="424" r="1.3" fill="#9a5a3c" opacity="0.8"/>
<circle cx="128" cy="400" r="1.3" fill="#9a5a3c" opacity="0.8"/>
<circle cx="150" cy="434" r="1.3" fill="#9a5a3c" opacity="0.8"/>
<circle cx="118" cy="452" r="1.3" fill="#9a5a3c" opacity="0.8"/>
<circle cx="210" cy="504" r="1.3" fill="#9a5a3c" opacity="0.8"/>
<circle cx="254" cy="366" r="1.3" fill="#9a5a3c" opacity="0.8"/>
<circle cx="162" cy="386" r="1.3" fill="#9a5a3c" opacity="0.8"/>
<circle cx="132" cy="468" r="1.3" fill="#9a5a3c" opacity="0.8"/>
</g>
<g clip-path="url(#cTB)">
<rect x="282.6" y="357.4" width="234" height="171.3" fill="#fbf8f8" stroke="none" stroke-width="1" />
<g filter="url(#bl1)">
<g filter="url(#nzS)">
<path d="M497.2,356.3 C492.8,359.8 494.1,369.9 494.1,377.3 C494.1,384.6 495.9,393.0 497.2,400.5 C498.6,408.0 502.9,416.5 502.2,422.2 C501.4,427.9 495.5,429.2 492.9,434.6 C490.3,440.0 487.7,448.0 486.7,454.8 C485.6,461.5 483.9,469.7 486.7,474.9 C489.5,480.1 500.1,481.4 503.4,485.8 C506.7,490.2 507.5,496.1 506.5,501.3 C505.5,506.4 499.3,511.9 497.2,516.8 C495.1,521.7 490.2,528.4 494.1,530.7 C498.0,533.0 516.1,559.8 520.5,530.7 C524.9,501.7 524.3,385.4 520.5,356.3 C516.6,327.3 501.6,352.8 497.2,356.3Z" fill="#ebdcd7"/>
<path d="M281.6,448.6 C284.4,435.1 293.7,445.7 298.6,450.1 C303.5,454.5 309.2,466.4 311.0,474.9 C312.8,483.4 310.7,492.0 309.5,501.3 C308.2,510.6 307.9,525.8 303.3,530.7 C298.6,535.6 285.2,544.4 281.6,530.7 C277.9,517.0 278.7,462.0 281.6,448.6Z" fill="#edd5c8"/>
<path d="M334.3,487.3 C338.1,481.1 349.8,490.9 357.5,493.5 C365.3,496.1 373.0,499.2 380.8,502.8 C388.5,506.4 400.1,510.6 404.0,515.2 C407.9,519.9 415.6,528.1 404.0,530.7 C392.4,533.3 345.9,538.0 334.3,530.7 C322.6,523.5 330.4,493.5 334.3,487.3Z" fill="#eaddd8"/>
<path d="M325.0,443.9 C327.5,441.1 337.4,440.3 342.0,442.4 C346.7,444.4 350.3,450.4 352.9,456.3 C355.4,462.3 358.8,473.6 357.5,478.0 C356.2,482.4 348.7,484.2 345.1,482.7 C341.5,481.1 338.9,472.6 335.8,468.7 C332.7,464.8 328.3,463.5 326.5,459.4 C324.7,455.3 322.4,446.8 325.0,443.9Z" fill="#e6d6d0"/>
<path d="M401.1,374.2 C403.2,368.7 408.9,370.8 412.0,372.6 C415.1,374.4 418.7,380.6 419.7,385.0 C420.7,389.4 420.0,395.3 418.2,399.0 C416.3,402.6 412.0,405.7 408.9,406.7 C405.8,407.7 400.8,410.6 399.6,405.2 C398.3,399.7 399.0,379.6 401.1,374.2Z" fill="#e9dcdb"/>
</g>
<g filter="url(#nzG)">
<path d="M283.9,372.6 C284.7,368.0 286.6,365.6 289.3,363.3 C292.0,361.0 295.2,359.6 300.2,358.7 C305.1,357.7 315.1,356.1 318.8,357.4 C322.4,358.7 322.6,362.8 322.2,366.4 C321.7,370.0 316.7,374.9 316.0,378.8 C315.2,382.7 317.9,386.0 317.5,389.7 C317.1,393.3 315.2,396.8 313.5,400.5 C311.8,404.2 309.8,411.1 307.3,411.7 C304.8,412.2 301.3,405.5 298.6,403.9 C295.9,402.4 293.2,404.5 290.9,402.4 C288.5,400.2 285.8,396.2 284.7,391.2 C283.5,386.2 283.1,377.3 283.9,372.6Z" fill="#a5522f"/>
<path d="M329.6,356.3 C338.9,355.2 379.2,355.2 388.5,356.3 C397.9,357.5 388.3,361.3 385.7,363.3 C383.1,365.3 377.2,366.7 373.0,368.3 C368.8,369.9 365.0,371.8 360.6,372.9 C356.2,374.0 350.5,375.4 346.7,375.1 C342.8,374.8 339.7,373.0 337.4,371.1 C335.0,369.1 334.0,365.8 332.7,363.3 C331.4,360.8 320.3,357.5 329.6,356.3Z" fill="#a5522f"/>
<path d="M346.7,382.8 C347.9,381.3 355.7,378.4 360.6,376.6 C365.5,374.8 370.9,373.3 376.1,372.0 C381.3,370.7 387.0,369.6 391.6,368.9 C396.3,368.2 401.9,362.7 404.0,368.0 C406.1,373.2 406.1,395.3 404.0,400.5 C401.9,405.7 395.7,400.8 391.6,399.3 C387.5,397.8 383.3,393.8 379.2,391.5 C375.1,389.2 371.2,386.2 366.8,385.3 C362.4,384.4 356.2,386.3 352.9,385.9 C349.5,385.5 345.4,384.4 346.7,382.8Z" fill="#a5522f"/>
<path d="M356.0,394.6 C357.8,395.4 362.9,398.0 366.8,399.3 C370.7,400.6 375.1,401.3 379.2,402.4 C383.3,403.4 387.5,404.7 391.6,405.5 C395.7,406.2 401.9,406.8 404.0,407.0" stroke="#a5522f" stroke-width="8.680824678344443" fill="none" stroke-linecap="round" stroke-linejoin="round"/>
<path d="M331.2,386.9 C330.9,388.9 330.4,394.8 329.6,399.0 C328.8,403.1 327.0,409.5 326.5,411.7" stroke="#a5522f" stroke-width="6.8206479615563484" fill="none" stroke-linecap="round" stroke-linejoin="round"/>
<path d="M339.7,387.5 C339.8,389.7 340.7,396.7 340.5,400.5 C340.2,404.3 338.6,408.5 338.3,410.1" stroke="#a5522f" stroke-width="6.200589055960316" fill="none" stroke-linecap="round" stroke-linejoin="round"/>
<path d="M343.9,414.8 C346.1,416.8 353.7,421.8 357.5,427.2 C361.3,432.5 364.2,441.1 366.8,447.0 C369.4,452.9 370.9,457.3 373.0,462.5 C375.1,467.7 376.4,473.3 379.5,478.0 C382.7,482.7 387.8,487.4 391.9,490.7 C396.0,494.1 402.0,496.9 404.0,498.2" stroke="#a5522f" stroke-width="12.711207564718649" fill="none" stroke-linecap="round" stroke-linejoin="round"/>
<path d="M354.4,403.9 C356.5,406.5 362.7,414.2 366.8,419.4 C370.9,424.6 375.1,430.3 379.2,434.9 C383.3,439.5 387.5,443.7 391.6,447.0 C395.7,450.3 401.9,453.5 404.0,454.8" stroke="#a5522f" stroke-width="8.060765772748411" fill="none" stroke-linecap="round" stroke-linejoin="round"/>
<path d="M369.9,416.3 C372.0,418.1 378.2,423.5 382.3,427.2 C386.4,430.8 391.1,435.0 394.7,438.0 C398.3,441.1 402.5,444.2 404.0,445.5" stroke="#a5522f" stroke-width="6.200589055960316" fill="none" stroke-linecap="round" stroke-linejoin="round"/>
<path d="M311.0,462.8 C310.7,460.7 308.7,454.3 309.5,450.1 C310.2,445.9 312.3,440.8 315.7,437.7 C319.0,434.6 324.7,431.5 329.6,431.5 C334.5,431.5 341.0,434.6 345.1,437.7 C349.2,440.9 351.8,445.7 354.4,450.4 C357.0,455.1 358.8,460.5 360.6,465.9 C362.4,471.3 363.2,477.8 365.3,483.0 C367.3,488.1 370.4,493.8 373.0,496.9 C375.6,500.0 379.7,500.8 381.1,501.6" stroke="#a5522f" stroke-width="11.781119206324602" fill="none" stroke-linecap="round" stroke-linejoin="round"/>
<path d="M321.1,419.1 L323.4,425.6" stroke="#a5522f" stroke-width="7.750736319950396" fill="none" stroke-linecap="round" stroke-linejoin="round"/>
<path d="M326.5,462.8 C327.5,464.9 331.9,471.1 332.7,475.2 C333.5,479.4 332.4,483.5 331.2,487.6 C329.9,491.8 326.2,496.4 325.0,500.0 C323.7,503.6 323.7,507.8 323.4,509.3" stroke="#a5522f" stroke-width="14.261354828708727" fill="none" stroke-linecap="round" stroke-linejoin="round"/>
<path d="M342.0,510.9 C342.8,512.4 344.8,517.3 346.7,520.2 C348.5,523.1 351.8,527.0 352.9,528.4" stroke="#a5522f" stroke-width="8.680824678344443" fill="none" stroke-linecap="round" stroke-linejoin="round"/>
<ellipse cx="294.7" cy="430.0" rx="2.5" ry="2.5" transform="rotate(0 294.7 430.0)" fill="#a5522f"/>
<path d="M336.6,492.0 L339.7,495.8" stroke="#a5522f" stroke-width="4.650441791970238" fill="none" stroke-linecap="round" stroke-linejoin="round"/>
<path d="M398.0,366.7 C400.6,366.7 408.8,365.0 413.5,366.7 C418.2,368.5 423.3,372.9 426.2,377.3 C429.1,381.6 431.4,387.6 430.9,392.8 C430.3,397.9 427.0,404.3 423.1,408.3 C419.2,412.2 411.5,415.0 407.3,416.3 C403.1,417.7 399.6,416.3 398.0,416.3" stroke="#a5522f" stroke-width="20.461943884669044" fill="none" stroke-linecap="round" stroke-linejoin="round"/>
<path d="M436.8,363.3 C437.1,366.9 438.9,378.8 438.6,385.0 C438.4,391.2 435.8,397.9 435.2,400.5" stroke="#a5522f" stroke-width="11.16106030072857" fill="none" stroke-linecap="round" stroke-linejoin="round"/>
<path d="M455.4,358.7 C455.6,361.0 456.9,367.6 456.9,372.6 C456.9,377.6 455.6,385.8 455.4,388.4" stroke="#a5522f" stroke-width="7.750736319950396" fill="none" stroke-linecap="round" stroke-linejoin="round"/>
<path d="M467.8,358.7 C469.6,359.7 475.8,363.0 478.6,365.2 C481.4,367.3 483.8,370.3 484.8,371.4" stroke="#a5522f" stroke-width="6.200589055960316" fill="none" stroke-linecap="round" stroke-linejoin="round"/>
<path d="M491.0,357.4 L500.6,363.3" stroke="#a5522f" stroke-width="7.750736319950396" fill="none" stroke-linecap="round" stroke-linejoin="round"/>
<path d="M464.7,368.0 C467.0,365.4 474.2,367.7 478.6,369.5 C483.0,371.3 488.4,373.6 491.0,378.8 C493.6,384.0 493.1,393.3 494.4,400.5 C495.8,407.7 499.6,417.0 499.1,422.2 C498.5,427.4 493.4,427.9 491.0,431.5 C488.6,435.1 486.4,440.0 484.8,443.9 C483.3,447.8 481.7,450.4 481.7,454.8 C481.8,459.2 485.6,465.6 485.1,470.3 C484.6,475.0 481.8,480.1 478.6,483.0 C475.5,485.9 469.8,489.0 466.2,487.6 C462.6,486.3 457.4,479.1 456.9,474.9 C456.4,470.7 462.6,466.6 463.1,462.5 C463.6,458.4 459.5,454.2 460.0,450.1 C460.5,446.0 465.7,441.3 466.2,437.7 C466.7,434.1 462.8,432.0 463.1,428.4 C463.4,424.8 467.8,420.7 467.8,416.0 C467.8,411.4 463.6,405.7 463.1,400.5 C462.6,395.3 464.4,390.4 464.7,385.0 C464.9,379.6 462.3,370.5 464.7,368.0Z" fill="#a5522f"/>
<path d="M412.0,428.7 L422.8,426.9" stroke="#a5522f" stroke-width="6.200589055960316" fill="none" stroke-linecap="round" stroke-linejoin="round"/>
<path d="M429.0,437.7 C431.6,436.7 439.9,431.8 444.5,431.8 C449.2,431.8 453.8,435.2 456.9,437.7 C460.0,440.2 462.1,445.5 463.1,447.0" stroke="#a5522f" stroke-width="7.750736319950396" fill="none" stroke-linecap="round" stroke-linejoin="round"/>
<path d="M441.4,423.8 L444.5,426.9" stroke="#a5522f" stroke-width="4.650441791970238" fill="none" stroke-linecap="round" stroke-linejoin="round"/>
<path d="M396.4,436.2 C398.3,421.6 403.4,441.6 407.3,443.9 C411.2,446.2 415.3,447.3 419.7,450.1 C424.1,453.0 428.7,457.9 433.7,461.0 C438.6,464.1 444.2,466.4 449.2,468.7 C454.1,471.0 459.5,472.1 463.1,474.9 C466.7,477.8 468.3,481.9 470.9,485.8 C473.4,489.6 476.0,493.8 478.6,498.2 C481.2,502.6 484.0,507.5 486.4,512.1 C488.7,516.8 493.1,522.8 492.9,526.1 C492.6,529.3 500.9,530.6 484.8,531.5 C468.7,532.4 411.2,547.4 396.4,531.5 C381.7,515.6 394.6,450.8 396.4,436.2Z" fill="#a5522f"/>
<circle cx="489.5" cy="498.2" r="15.5" fill="#86391c"/><circle cx="489.5" cy="498.2" r="11" fill="#b36339"/>
</g>
<path d="M388.7,465.6 C391.3,467.7 399.8,473.9 404.2,478.0 C408.6,482.1 411.7,486.3 415.1,490.4 C418.4,494.5 421.9,499.6 424.4,502.8 C426.8,506.0 428.9,508.6 429.8,509.8" stroke="#fbf8f8" stroke-width="8.060765772748411" fill="none" stroke-linecap="round" stroke-linejoin="round"/>
<path d="M418.2,462.5 C421.3,465.1 430.3,472.8 436.8,478.0 C443.2,483.2 451.0,488.3 456.9,493.5 C462.8,498.7 467.8,504.1 472.4,509.0 C477.1,513.9 482.7,520.6 484.8,523.0" stroke="#e3b193" stroke-width="1.3951325375910713" fill="none" stroke-linecap="round" stroke-linejoin="round"/>
<path d="M373.0,369.5 L388.5,363.6" stroke="#fbf8f8" stroke-width="3.4103239807781742" fill="none" stroke-linecap="round" stroke-linejoin="round"/>
<path d="M360.6,416.0 C362.7,419.1 369.4,428.4 373.0,434.6 C376.6,440.8 379.7,448.0 382.3,453.2 C384.9,458.4 384.9,461.5 388.5,465.6 C392.1,469.7 401.4,475.9 404.0,478.0" stroke="#fbf8f8" stroke-width="4.0303828863742055" fill="none" stroke-linecap="round" stroke-linejoin="round"/>
<path d="M294.0,369.5 C295.5,371.6 300.9,377.3 303.3,381.9 C305.6,386.6 307.1,394.8 307.9,397.4" stroke="#eed6c6" stroke-width="1.3951325375910713" fill="none" stroke-linecap="round" stroke-linejoin="round"/>
<path d="M306.4,363.3 L313.3,377.3" stroke="#eed6c6" stroke-width="1.2401178111920632" fill="none" stroke-linecap="round" stroke-linejoin="round"/>
<path d="M289.3,385.0 L298.6,399.0" stroke="#eed6c6" stroke-width="1.0851030847930554" fill="none" stroke-linecap="round" stroke-linejoin="round"/>
<path d="M329.6,478.0 L330.4,485.8" stroke="#fbf8f8" stroke-width="2.4802356223841264" fill="none" stroke-linecap="round" stroke-linejoin="round"/>
<path d="M484.8,493.5 L492.6,498.2" stroke="#f1d9c6" stroke-width="1.860176716788095" fill="none" stroke-linecap="round" stroke-linejoin="round"/>
</g></g>
<text font-size="47" font-weight="bold" text-anchor="start" fill="#000" x="677.1" y="33.6" >B</text>
<line x1="725.2" y1="72.2" x2="725.2" y2="445.5" stroke="#000" stroke-width="3.5" />
<line x1="713.2" y1="443.8" x2="986.8" y2="443.8" stroke="#000" stroke-width="3.4" />
<line x1="713.2" y1="443.8" x2="725" y2="443.8" stroke="#000" stroke-width="3.6" />
<line x1="713.2" y1="320.52000000000004" x2="725" y2="320.52000000000004" stroke="#000" stroke-width="3.6" />
<line x1="713.2" y1="197.24" x2="725" y2="197.24" stroke="#000" stroke-width="3.6" />
<line x1="713.2" y1="73.96" x2="725" y2="73.96" stroke="#000" stroke-width="3.6" />
<text font-size="31.5" font-weight="bold" text-anchor="end" fill="#000" textLength="33" lengthAdjust="spacingAndGlyphs" x="708.6" y="84.16" >12</text>
<text font-size="31.5" font-weight="bold" text-anchor="end" fill="#000" textLength="16.3" lengthAdjust="spacingAndGlyphs" x="708.6" y="207.44000000000003" >8</text>
<text font-size="31.5" font-weight="bold" text-anchor="end" fill="#000" textLength="16.3" lengthAdjust="spacingAndGlyphs" x="708.6" y="330.72" >4</text>
<text font-size="31.5" font-weight="bold" text-anchor="end" fill="#000" textLength="16.3" lengthAdjust="spacingAndGlyphs" x="708.6" y="454.0" >0</text>
<line x1="789.5" y1="443.6" x2="789.5" y2="453.2" stroke="#000" stroke-width="3.5" />
<line x1="919.5" y1="443.6" x2="919.5" y2="453.2" stroke="#000" stroke-width="3.5" />
<text font-size="45.5" font-weight="bold" text-anchor="middle" fill="#000" textLength="202" lengthAdjust="spacingAndGlyphs" transform="translate(654.8,257.5) rotate(-90)" >IHC score</text>
<line x1="769.6" y1="141.5" x2="933" y2="141.5" stroke="#000" stroke-width="4.3" stroke-linecap="round"/>
<text font-size="34" font-weight="bold" text-anchor="middle" fill="#000" x="850.6" y="143.4" >***</text>
<line x1="790" y1="211.7" x2="790" y2="353" stroke="#000" stroke-width="5.5" />
<line x1="768" y1="211.7" x2="812" y2="211.7" stroke="#000" stroke-width="5.5" />
<rect x="749.5" y="353.8" width="80.4" height="60.2" fill="none" stroke="#000" stroke-width="5.5" />
<line x1="749.5" y1="396.3" x2="830" y2="396.3" stroke="#000" stroke-width="5.5" />
<line x1="790" y1="414" x2="790" y2="443" stroke="#000" stroke-width="5.5" />
<line x1="768" y1="442.2" x2="812" y2="442.2" stroke="#000" stroke-width="3" />
<line x1="918.9" y1="165.4" x2="918.9" y2="215" stroke="#ff0000" stroke-width="5.5" />
<line x1="898.5" y1="165.4" x2="941" y2="165.4" stroke="#ff0000" stroke-width="5.5" />
<rect x="877.8" y="215.5" width="81.4" height="87" fill="none" stroke="#ff0000" stroke-width="5.5" />
<line x1="877.8" y1="258" x2="959" y2="258" stroke="#ff0000" stroke-width="5.5" />
<line x1="918.9" y1="302" x2="918.9" y2="396.3" stroke="#ff0000" stroke-width="5.5" />
<line x1="898.5" y1="396.3" x2="941" y2="396.3" stroke="#ff0000" stroke-width="5.5" />
<text font-size="30.5" font-weight="bold" text-anchor="middle" fill="#000" textLength="98.5" lengthAdjust="spacingAndGlyphs" x="788.3" y="483.6" >Normal</text>
<text font-size="30" font-weight="bold" text-anchor="middle" fill="#000" textLength="85" lengthAdjust="spacingAndGlyphs" x="788.5" y="515.5" >(n=54)</text>
<text font-size="30.5" font-weight="bold" text-anchor="middle" fill="#000" textLength="88.5" lengthAdjust="spacingAndGlyphs" x="916.2" y="483.6" >Tumor</text>
<text font-size="30" font-weight="bold" text-anchor="middle" fill="#000" textLength="85" lengthAdjust="spacingAndGlyphs" x="918.4" y="515.5" >(n=82)</text>
<text font-size="47" font-weight="bold" text-anchor="start" fill="#000" x="1176.9" y="33.4" >C</text>
<line x1="1203" y1="135.8" x2="1203" y2="489.7" stroke="#000" stroke-width="3.4" />
<line x1="1190.8" y1="488" x2="1727.8" y2="488" stroke="#000" stroke-width="3.4" />
<line x1="1190.8" y1="488.0" x2="1203" y2="488.0" stroke="#000" stroke-width="3.6" />
<text font-size="28" font-weight="bold" text-anchor="end" fill="#000" textLength="15.5" lengthAdjust="spacingAndGlyphs" x="1188.4" y="496.9" >0</text>
<line x1="1203.0" y1="488" x2="1203.0" y2="497.8" stroke="#000" stroke-width="3.5" />
<text font-size="28" font-weight="bold" text-anchor="middle" fill="#000" textLength="15.5" lengthAdjust="spacingAndGlyphs" x="1202.1" y="526.8" >0</text>
<line x1="1190.8" y1="417.9" x2="1203" y2="417.9" stroke="#000" stroke-width="3.6" />
<text font-size="28" font-weight="bold" text-anchor="end" fill="#000" textLength="31" lengthAdjust="spacingAndGlyphs" x="1188.4" y="426.79999999999995" >20</text>
<line x1="1307.76" y1="488" x2="1307.76" y2="497.8" stroke="#000" stroke-width="3.5" />
<text font-size="28" font-weight="bold" text-anchor="middle" fill="#000" textLength="31" lengthAdjust="spacingAndGlyphs" x="1306.86" y="526.8" >20</text>
<line x1="1190.8" y1="347.8" x2="1203" y2="347.8" stroke="#000" stroke-width="3.6" />
<text font-size="28" font-weight="bold" text-anchor="end" fill="#000" textLength="31" lengthAdjust="spacingAndGlyphs" x="1188.4" y="356.7" >40</text>
<line x1="1412.52" y1="488" x2="1412.52" y2="497.8" stroke="#000" stroke-width="3.5" />
<text font-size="28" font-weight="bold" text-anchor="middle" fill="#000" textLength="31" lengthAdjust="spacingAndGlyphs" x="1411.62" y="526.8" >40</text>
<line x1="1190.8" y1="277.70000000000005" x2="1203" y2="277.70000000000005" stroke="#000" stroke-width="3.6" />
<text font-size="28" font-weight="bold" text-anchor="end" fill="#000" textLength="31" lengthAdjust="spacingAndGlyphs" x="1188.4" y="286.6" >60</text>
<line x1="1517.28" y1="488" x2="1517.28" y2="497.8" stroke="#000" stroke-width="3.5" />
<text font-size="28" font-weight="bold" text-anchor="middle" fill="#000" textLength="31" lengthAdjust="spacingAndGlyphs" x="1516.3799999999999" y="526.8" >60</text>
<line x1="1190.8" y1="207.60000000000002" x2="1203" y2="207.60000000000002" stroke="#000" stroke-width="3.6" />
<text font-size="28" font-weight="bold" text-anchor="end" fill="#000" textLength="31" lengthAdjust="spacingAndGlyphs" x="1188.4" y="216.50000000000003" >80</text>
<line x1="1622.04" y1="488" x2="1622.04" y2="497.8" stroke="#000" stroke-width="3.5" />
<text font-size="28" font-weight="bold" text-anchor="middle" fill="#000" textLength="31" lengthAdjust="spacingAndGlyphs" x="1621.1399999999999" y="526.8" >80</text>
<line x1="1190.8" y1="137.5" x2="1203" y2="137.5" stroke="#000" stroke-width="3.6" />
<text font-size="28" font-weight="bold" text-anchor="end" fill="#000" textLength="46" lengthAdjust="spacingAndGlyphs" x="1188.4" y="146.4" >100</text>
<line x1="1726.8000000000002" y1="488" x2="1726.8000000000002" y2="497.8" stroke="#000" stroke-width="3.5" />
<text font-size="28" font-weight="bold" text-anchor="middle" fill="#000" textLength="46" lengthAdjust="spacingAndGlyphs" x="1725.9" y="526.8" >100</text>
<text font-size="28" font-weight="bold" text-anchor="middle" fill="#000" textLength="103.5" lengthAdjust="spacingAndGlyphs" x="1464.3" y="564.9" >Months</text>
<text font-size="35" font-weight="bold" text-anchor="middle" fill="#000" textLength="315" lengthAdjust="spacingAndGlyphs" transform="translate(1126,309.5) rotate(-90)" >Overall survival (%)</text>
<path d="M1203.0,137.5 H1207.2 V147.8 H1213.0 V158.1 H1218.7 V189.0 H1222.9 V220.0 H1227.6 V230.3 H1233.4 V240.6 H1239.1 V281.8 H1243.3 V302.4 H1254.3 V323.1 H1260.1 V343.7 H1264.8 V364.3 H1281.6 V374.6 H1285.8 V384.9 H1296.8 V395.2 H1338.7 V405.5 H1364.3 V415.8 H1375.9 V426.1 H1396.8 V436.5 H1622.0 V436.5" stroke="#ff0000" stroke-width="3.4" fill="none" stroke-linejoin="miter"/>
<line x1="1422.996" y1="436.45588235294116" x2="1422.996" y2="429.45588235294116" stroke="#ff0000" stroke-width="2.8" />
<line x1="1428.234" y1="436.45588235294116" x2="1428.234" y2="429.45588235294116" stroke="#ff0000" stroke-width="2.8" />
<line x1="1475.376" y1="436.45588235294116" x2="1475.376" y2="429.45588235294116" stroke="#ff0000" stroke-width="2.8" />
<line x1="1622.04" y1="436.45588235294116" x2="1622.04" y2="429.45588235294116" stroke="#ff0000" stroke-width="2.8" />
<path d="M1203.0,137.5 H1207.2 V144.8 H1213.0 V174.0 H1218.7 V181.3 H1224.0 V188.6 H1233.9 V210.5 H1240.2 V232.4 H1243.9 V261.6 H1249.6 V268.9 H1255.4 V298.1 H1261.7 V305.4 H1269.5 V312.8 H1292.0 V320.1 H1301.5 V327.4 H1327.7 V334.7 H1359.6 V342.0 H1375.9 V349.3 H1423.5 V356.7 H1428.2 V366.0 H1491.1 V384.6 H1658.7 V384.6" stroke="#0000ff" stroke-width="3.4" fill="none" stroke-linejoin="miter"/>
<line x1="1391.0442" y1="349.26041666666663" x2="1391.0442" y2="342.26041666666663" stroke="#0000ff" stroke-width="2.8" />
<line x1="1435.5672" y1="366.026" x2="1435.5672" y2="359.026" stroke="#0000ff" stroke-width="2.8" />
<line x1="1439.2338" y1="366.026" x2="1439.2338" y2="359.026" stroke="#0000ff" stroke-width="2.8" />
<line x1="1448.6622" y1="366.026" x2="1448.6622" y2="359.026" stroke="#0000ff" stroke-width="2.8" />
<line x1="1453.9002" y1="366.026" x2="1453.9002" y2="359.026" stroke="#0000ff" stroke-width="2.8" />
<line x1="1495.8042" y1="384.6025" x2="1495.8042" y2="377.6025" stroke="#0000ff" stroke-width="2.8" />
<line x1="1506.804" y1="384.6025" x2="1506.804" y2="377.6025" stroke="#0000ff" stroke-width="2.8" />
<line x1="1595.85" y1="384.6025" x2="1595.85" y2="377.6025" stroke="#0000ff" stroke-width="2.8" />
<line x1="1615.7544" y1="384.6025" x2="1615.7544" y2="377.6025" stroke="#0000ff" stroke-width="2.8" />
<line x1="1622.04" y1="384.6025" x2="1622.04" y2="377.6025" stroke="#0000ff" stroke-width="2.8" />
<line x1="1658.7060000000001" y1="384.6025" x2="1658.7060000000001" y2="377.6025" stroke="#0000ff" stroke-width="2.8" />
<line x1="1365.6" y1="159" x2="1400.2" y2="159" stroke="#0000ff" stroke-width="3.6" stroke-linecap="round"/>
<line x1="1383.3" y1="159" x2="1383.3" y2="152.8" stroke="#0000ff" stroke-width="2.8" stroke-linecap="round"/>
<line x1="1365.6" y1="199" x2="1400.2" y2="199" stroke="#ff0000" stroke-width="3.6" stroke-linecap="round"/>
<line x1="1383.3" y1="199" x2="1383.3" y2="192.9" stroke="#ff0000" stroke-width="2.8" stroke-linecap="round"/>
<text font-size="29" font-weight="bold" text-anchor="start" fill="#000" textLength="273.5" lengthAdjust="spacingAndGlyphs" x="1420.3" y="168.1" >IGF2BP2 low (n=48)</text>
<text font-size="29" font-weight="bold" text-anchor="start" fill="#000" textLength="286" lengthAdjust="spacingAndGlyphs" x="1420.3" y="207.9" >IGF2BP2 high (n=34)</text>
<text x="1356" y="262.8" font-size="29.5" font-weight="bold" textLength="120.5" lengthAdjust="spacingAndGlyphs"><tspan font-style="italic">p</tspan>=0.0491</text>
<text font-size="47" font-weight="bold" text-anchor="start" fill="#000" x="141.4" y="645.8" >D</text>
<line x1="210.4" y1="672" x2="210.4" y2="1060" stroke="#7a7a7a" stroke-width="1.6" />
<line x1="209.6" y1="1058.9" x2="665" y2="1058.9" stroke="#7a7a7a" stroke-width="1.7" />
<line x1="207.5" y1="1059.3" x2="210.4" y2="1059.3" stroke="#7a7a7a" stroke-width="1.4" />
<text font-size="27.5" font-weight="normal" text-anchor="end" fill="#000" textLength="14.5" lengthAdjust="spacingAndGlyphs" x="200.6" y="1070.3" >0</text>
<line x1="207.5" y1="1022.3" x2="210.4" y2="1022.3" stroke="#7a7a7a" stroke-width="1.4" />
<text font-size="27.5" font-weight="normal" text-anchor="end" fill="#000" textLength="30" lengthAdjust="spacingAndGlyphs" x="200.6" y="1033.19" >10</text>
<line x1="207.5" y1="985.3" x2="210.4" y2="985.3" stroke="#7a7a7a" stroke-width="1.4" />
<text font-size="27.5" font-weight="normal" text-anchor="end" fill="#000" textLength="30" lengthAdjust="spacingAndGlyphs" x="200.6" y="996.08" >20</text>
<line x1="207.5" y1="948.3" x2="210.4" y2="948.3" stroke="#7a7a7a" stroke-width="1.4" />
<text font-size="27.5" font-weight="normal" text-anchor="end" fill="#000" textLength="30" lengthAdjust="spacingAndGlyphs" x="200.6" y="958.97" >30</text>
<line x1="207.5" y1="911.3" x2="210.4" y2="911.3" stroke="#7a7a7a" stroke-width="1.4" />
<text font-size="27.5" font-weight="normal" text-anchor="end" fill="#000" textLength="30" lengthAdjust="spacingAndGlyphs" x="200.6" y="921.86" >40</text>
<line x1="207.5" y1="874.3" x2="210.4" y2="874.3" stroke="#7a7a7a" stroke-width="1.4" />
<text font-size="27.5" font-weight="normal" text-anchor="end" fill="#000" textLength="30" lengthAdjust="spacingAndGlyphs" x="200.6" y="884.75" >50</text>
<line x1="207.5" y1="837.3" x2="210.4" y2="837.3" stroke="#7a7a7a" stroke-width="1.4" />
<text font-size="27.5" font-weight="normal" text-anchor="end" fill="#000" textLength="30" lengthAdjust="spacingAndGlyphs" x="200.6" y="847.6400000000001" >60</text>
<line x1="207.5" y1="800.3" x2="210.4" y2="800.3" stroke="#7a7a7a" stroke-width="1.4" />
<text font-size="27.5" font-weight="normal" text-anchor="end" fill="#000" textLength="30" lengthAdjust="spacingAndGlyphs" x="200.6" y="810.5300000000001" >70</text>
<line x1="207.5" y1="763.3" x2="210.4" y2="763.3" stroke="#7a7a7a" stroke-width="1.4" />
<text font-size="27.5" font-weight="normal" text-anchor="end" fill="#000" textLength="30" lengthAdjust="spacingAndGlyphs" x="200.6" y="773.4200000000001" >80</text>
<line x1="207.5" y1="726.3" x2="210.4" y2="726.3" stroke="#7a7a7a" stroke-width="1.4" />
<text font-size="27.5" font-weight="normal" text-anchor="end" fill="#000" textLength="30" lengthAdjust="spacingAndGlyphs" x="200.6" y="736.3100000000001" >90</text>
<line x1="207.5" y1="689.3" x2="210.4" y2="689.3" stroke="#7a7a7a" stroke-width="1.4" />
<text font-size="27.5" font-weight="normal" text-anchor="end" fill="#000" textLength="44" lengthAdjust="spacingAndGlyphs" x="200.6" y="699.2" >100</text>
<line x1="210.3" y1="1058.9" x2="210.3" y2="1061.3" stroke="#444" stroke-width="1.3" />
<line x1="234.865" y1="1058.9" x2="234.865" y2="1061.3" stroke="#444" stroke-width="1.3" />
<line x1="259.43" y1="1058.9" x2="259.43" y2="1061.3" stroke="#444" stroke-width="1.3" />
<line x1="283.995" y1="1058.9" x2="283.995" y2="1061.3" stroke="#444" stroke-width="1.3" />
<line x1="308.56" y1="1058.9" x2="308.56" y2="1061.3" stroke="#444" stroke-width="1.3" />
<line x1="333.125" y1="1058.9" x2="333.125" y2="1061.3" stroke="#444" stroke-width="1.3" />
<line x1="357.69000000000005" y1="1058.9" x2="357.69000000000005" y2="1061.3" stroke="#444" stroke-width="1.3" />
<line x1="382.255" y1="1058.9" x2="382.255" y2="1061.3" stroke="#444" stroke-width="1.3" />
<line x1="406.82000000000005" y1="1058.9" x2="406.82000000000005" y2="1061.3" stroke="#444" stroke-width="1.3" />
<line x1="431.385" y1="1058.9" x2="431.385" y2="1061.3" stroke="#444" stroke-width="1.3" />
<line x1="455.95000000000005" y1="1058.9" x2="455.95000000000005" y2="1061.3" stroke="#444" stroke-width="1.3" />
<line x1="480.51500000000004" y1="1058.9" x2="480.51500000000004" y2="1061.3" stroke="#444" stroke-width="1.3" />
<line x1="505.08000000000004" y1="1058.9" x2="505.08000000000004" y2="1061.3" stroke="#444" stroke-width="1.3" />
<line x1="529.645" y1="1058.9" x2="529.645" y2="1061.3" stroke="#444" stroke-width="1.3" />
<line x1="554.21" y1="1058.9" x2="554.21" y2="1061.3" stroke="#444" stroke-width="1.3" />
<line x1="578.7750000000001" y1="1058.9" x2="578.7750000000001" y2="1061.3" stroke="#444" stroke-width="1.3" />
<line x1="603.34" y1="1058.9" x2="603.34" y2="1061.3" stroke="#444" stroke-width="1.3" />
<line x1="627.905" y1="1058.9" x2="627.905" y2="1061.3" stroke="#444" stroke-width="1.3" />
<line x1="652.47" y1="1058.9" x2="652.47" y2="1061.3" stroke="#444" stroke-width="1.3" />
<text font-size="28" font-weight="normal" text-anchor="middle" fill="#000" textLength="14.5" lengthAdjust="spacingAndGlyphs" x="216.70000000000002" y="1091.3" >0</text>
<text font-size="28" font-weight="normal" text-anchor="middle" fill="#000" textLength="30" lengthAdjust="spacingAndGlyphs" x="260.2" y="1091.3" >10</text>
<text font-size="28" font-weight="normal" text-anchor="middle" fill="#000" textLength="30" lengthAdjust="spacingAndGlyphs" x="309.2" y="1091.3" >20</text>
<text font-size="28" font-weight="normal" text-anchor="middle" fill="#000" textLength="30" lengthAdjust="spacingAndGlyphs" x="361.2" y="1091.3" >30</text>
<text font-size="28" font-weight="normal" text-anchor="middle" fill="#000" textLength="30" lengthAdjust="spacingAndGlyphs" x="410.6" y="1091.3" >40</text>
<text font-size="28" font-weight="normal" text-anchor="middle" fill="#000" textLength="30" lengthAdjust="spacingAndGlyphs" x="455.8" y="1091.3" >50</text>
<text font-size="28" font-weight="normal" text-anchor="middle" fill="#000" textLength="30" lengthAdjust="spacingAndGlyphs" x="504.3" y="1091.3" >60</text>
<text font-size="28" font-weight="normal" text-anchor="middle" fill="#000" textLength="30" lengthAdjust="spacingAndGlyphs" x="556.0999999999999" y="1091.3" >70</text>
<text font-size="28" font-weight="normal" text-anchor="middle" fill="#000" textLength="30" lengthAdjust="spacingAndGlyphs" x="604.3" y="1091.3" >80</text>
<text font-size="28" font-weight="normal" text-anchor="middle" fill="#000" textLength="30" lengthAdjust="spacingAndGlyphs" x="653.8" y="1091.3" >90</text>
<text font-size="32" font-weight="normal" text-anchor="middle" fill="#000" textLength="86" lengthAdjust="spacingAndGlyphs" x="415.3" y="1133.4" >Month</text>
<text font-size="38.5" font-weight="normal" text-anchor="middle" fill="#000" textLength="340" lengthAdjust="spacingAndGlyphs" transform="translate(144.4,873.2) rotate(-90)" >Overall surviving (%)</text>
<text font-size="26" font-weight="normal" text-anchor="start" fill="#000" textLength="256.5" lengthAdjust="spacingAndGlyphs" x="378.8" y="717.3" >IGF2BP2 expression</text>
<text font-size="26" font-weight="normal" text-anchor="start" fill="#000" textLength="50.5" lengthAdjust="spacingAndGlyphs" x="379.3" y="749.6" >Low</text>
<text font-size="26" font-weight="normal" text-anchor="start" fill="#000" textLength="57.5" lengthAdjust="spacingAndGlyphs" x="379.3" y="782.6" >High</text>
<line x1="443.6" y1="743.3" x2="516.5" y2="743.3" stroke="#0000ff" stroke-width="4.2" stroke-linecap="round"/>
<line x1="445.2" y1="778.4" x2="518.8" y2="778.4" stroke="#ff0000" stroke-width="3.0" stroke-linecap="round"/>
<text font-size="26" font-weight="normal" text-anchor="start" fill="#000" textLength="98.5" lengthAdjust="spacingAndGlyphs" x="536.3" y="749.6" >(n=162)</text>
<text font-size="26" font-weight="normal" text-anchor="start" fill="#000" textLength="83.5" lengthAdjust="spacingAndGlyphs" x="534.7" y="782.6" >(n=16)</text>
<text font-size="26" font-weight="normal" text-anchor="start" fill="#000" textLength="224.5" lengthAdjust="spacingAndGlyphs" x="392.8" y="850.2" >Logrank p = 0.014</text>
<path d="M210.4,689.6 L230.1,689.6 L230.1,757.8 L233.4,757.8 L233.4,781.8 L246.0,781.8 L246.0,804.5 L249.5,804.5 L249.5,852.5 L254.6,852.5 L254.6,877.7 L259.6,877.7 L259.6,904.7 L286.9,904.7 L286.9,930.5 L294.5,930.5 L294.5,962.3 L367.0,962.3" stroke="#ff2222" stroke-width="1.35" fill="none" />
<path d="M226.4,712.3 L229.6,709.1 L232.8,712.3 L229.6,715.5 Z" fill="#ff2222"/>
<path d="M246.3,827.7 L249.5,824.5 L252.7,827.7 L249.5,830.9 Z" fill="#ff2222"/>
<path d="M285.0,930.5 L288.2,927.3 L291.4,930.5 L288.2,933.7 Z" fill="#ff2222"/>
<path d="M304.4,962.3 L307.6,959.1 L310.8,962.3 L307.6,965.5 Z" fill="#ff2222"/>
<path d="M322.9,962.3 L326.1,959.1 L329.3,962.3 L326.1,965.5 Z" fill="#ff2222"/>
<path d="M363.8,962.3 L367.0,959.1 L370.2,962.3 L367.0,965.5 Z" fill="#ff2222"/>
<path d="M210.4,688.3 L218.7,695.9 L226.3,703.5 L231.3,711.0 L236.4,721.1 L241.4,727.5 L247.8,733.8 L251.6,742.6 L257.9,748.9 L260.4,759.0 L268.0,763.3 L269.7,774.2 L274.3,783.0 L276.8,789.8 L284.4,796.4 L286.9,809.5 L289.9,823.4 L295.8,833.5 L304.6,843.6 L307.6,858.8 L312.2,875.2 L318.5,886.6 L323.5,900.0 L323.5,902.2 L328.6,906.0 L329.9,912.3 L346.3,912.3 L357.6,912.3 L357.6,917.9 L377.8,917.9 L380.4,923.7 L389.2,923.7 L393.0,931.8 L424.6,931.8 L425.8,941.4 L452.4,941.4 L452.4,952.0 L538.2,952.0 L538.2,952.3 L538.2,972.3 L562.1,972.3 L562.1,1001.9 L652.3,1001.9" stroke="#2e2eff" stroke-width="1.4" fill="none" stroke-linejoin="round"/>
<path d="M208.5,690.3 L212.4,686.4 L216.3,690.3 L212.4,694.2 Z" fill="#1414ff"/>
<path d="M214.8,695.9 L218.7,692.0 L222.6,695.9 L218.7,699.8 Z" fill="#1414ff"/>
<path d="M219.9,700.4 L223.8,696.5 L227.7,700.4 L223.8,704.3 Z" fill="#1414ff"/>
<path d="M237.5,727.5 L241.4,723.6 L245.3,727.5 L241.4,731.4 Z" fill="#1414ff"/>
<path d="M242.6,733.0 L246.5,729.1 L250.4,733.0 L246.5,736.9 Z" fill="#1414ff"/>
<path d="M244.6,735.5 L248.5,731.6 L252.4,735.5 L248.5,739.4 Z" fill="#1414ff"/>
<path d="M247.7,741.9 L251.6,738.0 L255.5,741.9 L251.6,745.8 Z" fill="#1414ff"/>
<path d="M252.7,747.7 L256.6,743.8 L260.5,747.7 L256.6,751.6 Z" fill="#1414ff"/>
<path d="M254.2,752.2 L258.1,748.3 L262.0,752.2 L258.1,756.1 Z" fill="#1414ff"/>
<path d="M257.8,760.3 L261.7,756.4 L265.6,760.3 L261.7,764.2 Z" fill="#1414ff"/>
<path d="M260.3,761.6 L264.2,757.7 L268.1,761.6 L264.2,765.5 Z" fill="#1414ff"/>
<path d="M262.8,762.8 L266.7,758.9 L270.6,762.8 L266.7,766.7 Z" fill="#1414ff"/>
<path d="M268.4,780.5 L272.3,776.6 L276.2,780.5 L272.3,784.4 Z" fill="#1414ff"/>
<path d="M270.4,783.8 L274.3,779.9 L278.2,783.8 L274.3,787.7 Z" fill="#1414ff"/>
<path d="M269.9,789.8 L273.8,785.9 L277.7,789.8 L273.8,793.7 Z" fill="#1414ff"/>
<path d="M272.9,789.8 L276.8,785.9 L280.7,789.8 L276.8,793.7 Z" fill="#1414ff"/>
<path d="M276.4,795.7 L280.3,791.8 L284.2,795.7 L280.3,799.6 Z" fill="#1414ff"/>
<path d="M279.0,796.4 L282.9,792.5 L286.8,796.4 L282.9,800.3 Z" fill="#1414ff"/>
<path d="M281.8,802.5 L285.7,798.6 L289.6,802.5 L285.7,806.4 Z" fill="#1414ff"/>
<path d="M282.5,808.3 L286.4,804.4 L290.3,808.3 L286.4,812.2 Z" fill="#1414ff"/>
<path d="M284.3,817.1 L288.2,813.2 L292.1,817.1 L288.2,821.0 Z" fill="#1414ff"/>
<path d="M285.5,823.4 L289.4,819.5 L293.3,823.4 L289.4,827.3 Z" fill="#1414ff"/>
<path d="M287.6,827.2 L291.5,823.3 L295.4,827.2 L291.5,831.1 Z" fill="#1414ff"/>
<path d="M290.1,831.8 L294.0,827.9 L297.9,831.8 L294.0,835.7 Z" fill="#1414ff"/>
<path d="M291.1,834.8 L295.0,830.9 L298.9,834.8 L295.0,838.7 Z" fill="#1414ff"/>
<path d="M301.2,844.4 L305.1,840.5 L309.0,844.4 L305.1,848.3 Z" fill="#1414ff"/>
<path d="M308.8,875.7 L312.7,871.8 L316.6,875.7 L312.7,879.6 Z" fill="#1414ff"/>
<path d="M312.1,879.8 L316.0,875.9 L319.9,879.8 L316.0,883.7 Z" fill="#1414ff"/>
<path d="M315.3,887.3 L319.2,883.4 L323.1,887.3 L319.2,891.2 Z" fill="#1414ff"/>
<path d="M308.3,875.2 L312.2,871.3 L316.1,875.2 L312.2,879.1 Z" fill="#1414ff"/>
<path d="M312.1,879.5 L316.0,875.6 L319.9,879.5 L316.0,883.4 Z" fill="#1414ff"/>
<path d="M315.3,887.8 L319.2,883.9 L323.1,887.8 L319.2,891.7 Z" fill="#1414ff"/>
<path d="M320.4,903.5 L324.3,899.6 L328.2,903.5 L324.3,907.4 Z" fill="#1414ff"/>
<path d="M322.9,904.0 L326.8,900.1 L330.7,904.0 L326.8,907.9 Z" fill="#1414ff"/>
<path d="M324.4,906.0 L328.3,902.1 L332.2,906.0 L328.3,909.9 Z" fill="#1414ff"/>
<path d="M326.0,911.8 L329.9,907.9 L333.8,911.8 L329.9,915.7 Z" fill="#1414ff"/>
<path d="M330.5,912.3 L334.4,908.4 L338.3,912.3 L334.4,916.2 Z" fill="#1414ff"/>
<path d="M342.4,912.3 L346.3,908.4 L350.2,912.3 L346.3,916.2 Z" fill="#1414ff"/>
<path d="M354.8,917.9 L358.7,914.0 L362.6,917.9 L358.7,921.8 Z" fill="#1414ff"/>
<path d="M360.1,917.9 L364.0,914.0 L367.9,917.9 L364.0,921.8 Z" fill="#1414ff"/>
<path d="M363.8,917.9 L367.7,914.0 L371.6,917.9 L367.7,921.8 Z" fill="#1414ff"/>
<path d="M368.4,917.9 L372.3,914.0 L376.2,917.9 L372.3,921.8 Z" fill="#1414ff"/>
<path d="M373.4,917.9 L377.3,914.0 L381.2,917.9 L377.3,921.8 Z" fill="#1414ff"/>
<path d="M384.8,924.2 L388.7,920.3 L392.6,924.2 L388.7,928.1 Z" fill="#1414ff"/>
<path d="M386.6,924.7 L390.5,920.8 L394.4,924.7 L390.5,928.6 Z" fill="#1414ff"/>
<path d="M402.5,931.8 L406.4,927.9 L410.3,931.8 L406.4,935.7 Z" fill="#1414ff"/>
<path d="M409.3,931.8 L413.2,927.9 L417.1,931.8 L413.2,935.7 Z" fill="#1414ff"/>
<path d="M414.4,931.8 L418.3,927.9 L422.2,931.8 L418.3,935.7 Z" fill="#1414ff"/>
<path d="M420.2,931.8 L424.1,927.9 L428.0,931.8 L424.1,935.7 Z" fill="#1414ff"/>
<path d="M429.5,941.4 L433.4,937.5 L437.3,941.4 L433.4,945.3 Z" fill="#1414ff"/>
<path d="M455.3,952.2 L459.2,948.3 L463.1,952.2 L459.2,956.1 Z" fill="#1414ff"/>
<path d="M495.9,952.0 L499.8,948.1 L503.7,952.0 L499.8,955.9 Z" fill="#1414ff"/>
<path d="M505.8,952.0 L509.7,948.1 L513.6,952.0 L509.7,955.9 Z" fill="#1414ff"/>
<path d="M519.9,952.0 L523.8,948.1 L527.7,952.0 L523.8,955.9 Z" fill="#1414ff"/>
<path d="M531.3,952.0 L535.2,948.1 L539.1,952.0 L535.2,955.9 Z" fill="#1414ff"/>
<path d="M541.0,973.7 L544.9,969.8 L548.8,973.7 L544.9,977.6 Z" fill="#1414ff"/>
<path d="M574.9,1001.9 L578.8,998.0 L582.7,1001.9 L578.8,1005.8 Z" fill="#1414ff"/>
<path d="M648.4,1001.9 L652.3,998.0 L656.2,1001.9 L652.3,1005.8 Z" fill="#1414ff"/>
<text font-size="47" font-weight="bold" text-anchor="start" fill="#000" x="865.2" y="651.7" >E</text>
<line x1="938" y1="685" x2="938" y2="1061.9" stroke="#2a2a2a" stroke-width="1.5" />
<line x1="937.3" y1="1061.2" x2="1485.8" y2="1061.2" stroke="#2a2a2a" stroke-width="1.5" />
<line x1="927.5" y1="694.1" x2="938" y2="694.1" stroke="#2a2a2a" stroke-width="1.4" />
<text font-size="29" font-weight="normal" text-anchor="middle" fill="#000" textLength="33.5" lengthAdjust="spacingAndGlyphs" transform="translate(912.4,708) rotate(-90)" >1.0</text>
<line x1="927.5" y1="764.78" x2="938" y2="764.78" stroke="#2a2a2a" stroke-width="1.4" />
<text font-size="29" font-weight="normal" text-anchor="middle" fill="#000" textLength="34.5" lengthAdjust="spacingAndGlyphs" transform="translate(912.4,770.9) rotate(-90)" >0.8</text>
<line x1="927.5" y1="835.46" x2="938" y2="835.46" stroke="#2a2a2a" stroke-width="1.4" />
<text font-size="29" font-weight="normal" text-anchor="middle" fill="#000" textLength="35.5" lengthAdjust="spacingAndGlyphs" transform="translate(912.4,844.6) rotate(-90)" >0.6</text>
<line x1="927.5" y1="906.14" x2="938" y2="906.14" stroke="#2a2a2a" stroke-width="1.4" />
<text font-size="29" font-weight="normal" text-anchor="middle" fill="#000" textLength="36.5" lengthAdjust="spacingAndGlyphs" transform="translate(912.4,914) rotate(-90)" >0.4</text>
<line x1="927.5" y1="976.82" x2="938" y2="976.82" stroke="#2a2a2a" stroke-width="1.4" />
<text font-size="29" font-weight="normal" text-anchor="middle" fill="#000" textLength="37.5" lengthAdjust="spacingAndGlyphs" transform="translate(912.4,988) rotate(-90)" >0.2</text>
<line x1="927.5" y1="1047.5" x2="938" y2="1047.5" stroke="#2a2a2a" stroke-width="1.4" />
<text font-size="29" font-weight="normal" text-anchor="middle" fill="#000" textLength="38.5" lengthAdjust="spacingAndGlyphs" transform="translate(912.4,1057.3) rotate(-90)" >0.0</text>
<line x1="937.7" y1="1061.2" x2="937.7" y2="1069.5" stroke="#2a2a2a" stroke-width="1.4" />
<text font-size="26" font-weight="normal" text-anchor="middle" fill="#000" textLength="13.5" lengthAdjust="spacingAndGlyphs" x="935.2" y="1100.3" >0</text>
<line x1="1055.2" y1="1061.2" x2="1055.2" y2="1069.5" stroke="#2a2a2a" stroke-width="1.4" />
<text font-size="26" font-weight="normal" text-anchor="middle" fill="#000" textLength="29.5" lengthAdjust="spacingAndGlyphs" x="1058" y="1100.3" >20</text>
<line x1="1172.7" y1="1061.2" x2="1172.7" y2="1069.5" stroke="#2a2a2a" stroke-width="1.4" />
<text font-size="26" font-weight="normal" text-anchor="middle" fill="#000" textLength="29.5" lengthAdjust="spacingAndGlyphs" x="1170.4" y="1100.3" >40</text>
<line x1="1290.2" y1="1061.2" x2="1290.2" y2="1069.5" stroke="#2a2a2a" stroke-width="1.4" />
<text font-size="26" font-weight="normal" text-anchor="middle" fill="#000" textLength="29.5" lengthAdjust="spacingAndGlyphs" x="1292.9" y="1100.3" >60</text>
<line x1="1407.7" y1="1061.2" x2="1407.7" y2="1069.5" stroke="#2a2a2a" stroke-width="1.4" />
<text font-size="26" font-weight="normal" text-anchor="middle" fill="#000" textLength="29.5" lengthAdjust="spacingAndGlyphs" x="1407" y="1100.3" >80</text>
<text font-size="35.5" font-weight="normal" text-anchor="middle" fill="#000" textLength="104" lengthAdjust="spacingAndGlyphs" x="1233.3" y="1145" >Month</text>
<text font-size="38" font-weight="normal" text-anchor="middle" fill="#000" textLength="248" lengthAdjust="spacingAndGlyphs" transform="translate(861.8,882.6) rotate(-90)" >Overall survival</text>
<text font-size="24" font-weight="normal" text-anchor="start" fill="#000" textLength="219" lengthAdjust="spacingAndGlyphs" x="1171" y="713.7" >IGF2BP2 expression</text>
<text font-size="23.5" font-weight="normal" text-anchor="start" fill="#000" textLength="46" lengthAdjust="spacingAndGlyphs" x="1171.3" y="741.7" >Low</text>
<text font-size="23.5" font-weight="normal" text-anchor="start" fill="#000" textLength="51.5" lengthAdjust="spacingAndGlyphs" x="1171.3" y="768.9" >High</text>
<line x1="1226" y1="736.4" x2="1289.8" y2="736.4" stroke="#404040" stroke-width="2.2" />
<line x1="1228.5" y1="765" x2="1290.7" y2="765" stroke="#ff0000" stroke-width="3.2" stroke-linecap="round"/>
<text font-size="23.5" font-weight="normal" text-anchor="start" fill="#000" textLength="69" lengthAdjust="spacingAndGlyphs" x="1305.8" y="741.7" >(n=35)</text>
<text font-size="23.5" font-weight="normal" text-anchor="start" fill="#000" textLength="82" lengthAdjust="spacingAndGlyphs" x="1304.4" y="768.9" >(n=132)</text>
<text font-size="27" font-weight="normal" text-anchor="start" fill="#000" textLength="115" lengthAdjust="spacingAndGlyphs" x="958.4" y="1000.5" >HR = 3.21</text>
<text font-size="26.5" font-weight="normal" text-anchor="start" fill="#000" textLength="229" lengthAdjust="spacingAndGlyphs" x="958.6" y="1031" >Logrank p = 7.8e-05</text>
<line x1="947.6" y1="1003" x2="947.6" y2="1011" stroke="#999" stroke-width="1.2" />
<path d="M938.2,693.4 L972.3,693.4 L972.3,700.9 L985.4,700.9 L985.4,709.8 L999.3,709.8 L999.3,719.1 L1030.9,719.1 L1030.9,728.7 L1034.2,728.7 L1034.2,742.6 L1037.7,742.6 L1037.7,747.7 L1042.3,747.7 L1042.3,769.1 L1048.6,769.1 L1048.6,781.8 L1054.9,781.8 L1054.9,795.7 L1058.7,795.7 L1058.7,808.3 L1065.0,808.3 L1065.0,822.9 L1198.9,822.9 L1198.9,851.2 L1478.0,851.2" stroke="#3a3a3a" stroke-width="1.5" fill="none" />
<path d="M978.9,702.2 H986.9 M982.9,698.2 V706.2" stroke="#3a3a3a" stroke-width="1.4" fill="none"/>
<path d="M990.3,711.0 H998.3 M994.3,707.0 V715.0" stroke="#3a3a3a" stroke-width="1.4" fill="none"/>
<path d="M996.6,719.1 H1004.6 M1000.6,715.1 V723.1" stroke="#3a3a3a" stroke-width="1.4" fill="none"/>
<path d="M999.1,719.1 H1007.1 M1003.1,715.1 V723.1" stroke="#3a3a3a" stroke-width="1.4" fill="none"/>
<path d="M1012.5,719.1 H1020.5 M1016.5,715.1 V723.1" stroke="#3a3a3a" stroke-width="1.4" fill="none"/>
<path d="M1014.0,719.1 H1022.0 M1018.0,715.1 V723.1" stroke="#3a3a3a" stroke-width="1.4" fill="none"/>
<path d="M1015.5,719.1 H1023.5 M1019.5,715.1 V723.1" stroke="#3a3a3a" stroke-width="1.4" fill="none"/>
<path d="M1023.6,719.1 H1031.6 M1027.6,715.1 V723.1" stroke="#3a3a3a" stroke-width="1.4" fill="none"/>
<path d="M1025.1,719.1 H1033.1 M1029.1,715.1 V723.1" stroke="#3a3a3a" stroke-width="1.4" fill="none"/>
<path d="M1030.2,742.6 H1038.2 M1034.2,738.6 V746.6" stroke="#3a3a3a" stroke-width="1.4" fill="none"/>
<path d="M1038.3,756.5 H1046.3 M1042.3,752.5 V760.5" stroke="#3a3a3a" stroke-width="1.4" fill="none"/>
<path d="M1058.5,809.5 H1066.5 M1062.5,805.5 V813.5" stroke="#3a3a3a" stroke-width="1.4" fill="none"/>
<path d="M1066.1,822.9 H1074.1 M1070.1,818.9 V826.9" stroke="#3a3a3a" stroke-width="1.4" fill="none"/>
<path d="M1072.4,822.9 H1080.4 M1076.4,818.9 V826.9" stroke="#3a3a3a" stroke-width="1.4" fill="none"/>
<path d="M1074.9,822.9 H1082.9 M1078.9,818.9 V826.9" stroke="#3a3a3a" stroke-width="1.4" fill="none"/>
<path d="M1080.0,822.9 H1088.0 M1084.0,818.9 V826.9" stroke="#3a3a3a" stroke-width="1.4" fill="none"/>
<path d="M1129.2,822.9 H1137.2 M1133.2,818.9 V826.9" stroke="#3a3a3a" stroke-width="1.4" fill="none"/>
<path d="M1149.9,822.9 H1157.9 M1153.9,818.9 V826.9" stroke="#3a3a3a" stroke-width="1.4" fill="none"/>
<path d="M1151.4,822.9 H1159.4 M1155.4,818.9 V826.9" stroke="#3a3a3a" stroke-width="1.4" fill="none"/>
<path d="M1172.2,822.9 H1180.2 M1176.2,818.9 V826.9" stroke="#3a3a3a" stroke-width="1.4" fill="none"/>
<path d="M1205.0,851.2 H1213.0 M1209.0,847.2 V855.2" stroke="#3a3a3a" stroke-width="1.4" fill="none"/>
<path d="M1235.8,851.2 H1243.8 M1239.8,847.2 V855.2" stroke="#3a3a3a" stroke-width="1.4" fill="none"/>
<path d="M1236.3,851.2 H1244.3 M1240.3,847.2 V855.2" stroke="#3a3a3a" stroke-width="1.4" fill="none"/>
<path d="M1285.5,851.2 H1293.5 M1289.5,847.2 V855.2" stroke="#3a3a3a" stroke-width="1.4" fill="none"/>
<path d="M1297.4,851.2 H1305.4 M1301.4,847.2 V855.2" stroke="#3a3a3a" stroke-width="1.4" fill="none"/>
<path d="M1314.1,851.2 H1322.1 M1318.1,847.2 V855.2" stroke="#3a3a3a" stroke-width="1.4" fill="none"/>
<path d="M1341.8,851.2 H1349.8 M1345.8,847.2 V855.2" stroke="#3a3a3a" stroke-width="1.4" fill="none"/>
<path d="M1470.8,851.2 H1478.8 M1474.8,847.2 V855.2" stroke="#3a3a3a" stroke-width="1.4" fill="none"/>
<path d="M938.2,693.4 L943.8,698.4 L951.3,703.5 L958.9,709.8 L962.7,723.7 L966.5,733.8 L971.6,742.6 L977.9,748.4 L984.2,759.0 L989.7,770.4 L994.3,779.2 L998.1,790.6 L1006.9,798.2 L1010.7,812.1 L1015.8,824.7 L1022.1,833.5 L1027.6,836.1 L1030.9,853.7 L1034.7,860.1 L1039.8,870.2 L1044.8,876.5 L1052.4,877.2 L1056.2,891.6 L1060.0,900.0 L1066.3,907.3 L1071.3,912.3 L1075.1,924.9 L1080.2,931.3 L1082.7,939.3 L1115.5,939.3 L1115.5,945.9 L1144.6,945.9 L1145.8,955.2 L1158.5,955.2 L1159.7,966.6 L1231.7,966.6 L1232.2,982.3 L1249.4,982.3 L1336.4,982.3 L1336.4,1003.5 L1366.0,1003.5 L1366.0,1025.0 L1390.0,1025.0" stroke="#ff1a1a" stroke-width="1.6" fill="none" stroke-linejoin="round"/>
<path d="M936.2,694.6 H943.2 M939.7,691.1 V698.1" stroke="#ff1a1a" stroke-width="1.0" fill="none"/>
<path d="M937.2,695.2 H944.2 M940.7,691.7 V698.7" stroke="#ff1a1a" stroke-width="1.0" fill="none"/>
<path d="M943.3,701.6 H950.3 M946.8,698.1 V705.1" stroke="#ff1a1a" stroke-width="1.0" fill="none"/>
<path d="M941.7,698.5 H948.7 M945.2,695.0 V702.0" stroke="#ff1a1a" stroke-width="1.0" fill="none"/>
<path d="M948.7,705.1 H955.7 M952.2,701.6 V708.6" stroke="#ff1a1a" stroke-width="1.0" fill="none"/>
<path d="M955.3,709.7 H962.3 M958.8,706.2 V713.2" stroke="#ff1a1a" stroke-width="1.0" fill="none"/>
<path d="M958.5,721.4 H965.5 M962.0,717.9 V724.9" stroke="#ff1a1a" stroke-width="1.0" fill="none"/>
<path d="M956.4,718.7 H963.4 M959.9,715.2 V722.2" stroke="#ff1a1a" stroke-width="1.0" fill="none"/>
<path d="M963.1,730.1 H970.1 M966.6,726.6 V733.6" stroke="#ff1a1a" stroke-width="1.0" fill="none"/>
<path d="M962.2,729.0 H969.2 M965.7,725.5 V732.5" stroke="#ff1a1a" stroke-width="1.0" fill="none"/>
<path d="M964.6,739.7 H971.6 M968.1,736.2 V743.2" stroke="#ff1a1a" stroke-width="1.0" fill="none"/>
<path d="M967.2,740.5 H974.2 M970.7,737.0 V744.0" stroke="#ff1a1a" stroke-width="1.0" fill="none"/>
<path d="M968.1,744.4 H975.1 M971.6,740.9 V747.9" stroke="#ff1a1a" stroke-width="1.0" fill="none"/>
<path d="M973.4,747.6 H980.4 M976.9,744.1 V751.1" stroke="#ff1a1a" stroke-width="1.0" fill="none"/>
<path d="M980.4,756.0 H987.4 M983.9,752.5 V759.5" stroke="#ff1a1a" stroke-width="1.0" fill="none"/>
<path d="M980.6,756.0 H987.6 M984.1,752.5 V759.5" stroke="#ff1a1a" stroke-width="1.0" fill="none"/>
<path d="M984.1,763.5 H991.1 M987.6,760.0 V767.0" stroke="#ff1a1a" stroke-width="1.0" fill="none"/>
<path d="M984.9,764.1 H991.9 M988.4,760.6 V767.6" stroke="#ff1a1a" stroke-width="1.0" fill="none"/>
<path d="M988.6,778.2 H995.6 M992.1,774.7 V781.7" stroke="#ff1a1a" stroke-width="1.0" fill="none"/>
<path d="M985.7,771.6 H992.7 M989.2,768.1 V775.1" stroke="#ff1a1a" stroke-width="1.0" fill="none"/>
<path d="M994.2,790.2 H1001.2 M997.7,786.7 V793.7" stroke="#ff1a1a" stroke-width="1.0" fill="none"/>
<path d="M992.4,786.4 H999.4 M995.9,782.9 V789.9" stroke="#ff1a1a" stroke-width="1.0" fill="none"/>
<path d="M998.6,794.4 H1005.6 M1002.1,790.9 V797.9" stroke="#ff1a1a" stroke-width="1.0" fill="none"/>
<path d="M998.0,793.3 H1005.0 M1001.5,789.8 V796.8" stroke="#ff1a1a" stroke-width="1.0" fill="none"/>
<path d="M1007.2,806.3 H1014.2 M1010.7,802.8 V809.8" stroke="#ff1a1a" stroke-width="1.0" fill="none"/>
<path d="M1007.7,807.7 H1014.7 M1011.2,804.2 V811.2" stroke="#ff1a1a" stroke-width="1.0" fill="none"/>
<path d="M1013.5,822.9 H1020.5 M1017.0,819.4 V826.4" stroke="#ff1a1a" stroke-width="1.0" fill="none"/>
<path d="M1009.2,820.5 H1016.2 M1012.7,817.0 V824.0" stroke="#ff1a1a" stroke-width="1.0" fill="none"/>
<path d="M1019.5,832.3 H1026.5 M1023.0,828.8 V835.8" stroke="#ff1a1a" stroke-width="1.0" fill="none"/>
<path d="M1018.2,832.7 H1025.2 M1021.7,829.2 V836.2" stroke="#ff1a1a" stroke-width="1.0" fill="none"/>
<path d="M1021.4,835.3 H1028.4 M1024.9,831.8 V838.8" stroke="#ff1a1a" stroke-width="1.0" fill="none"/>
<path d="M1023.5,835.6 H1030.5 M1027.0,832.1 V839.1" stroke="#ff1a1a" stroke-width="1.0" fill="none"/>
<path d="M1023.3,841.1 H1030.3 M1026.8,837.6 V844.6" stroke="#ff1a1a" stroke-width="1.0" fill="none"/>
<path d="M1028.9,851.2 H1035.9 M1032.4,847.7 V854.7" stroke="#ff1a1a" stroke-width="1.0" fill="none"/>
<path d="M1028.9,854.3 H1035.9 M1032.4,850.8 V857.8" stroke="#ff1a1a" stroke-width="1.0" fill="none"/>
<path d="M1027.6,856.3 H1034.6 M1031.1,852.8 V859.8" stroke="#ff1a1a" stroke-width="1.0" fill="none"/>
<path d="M1033.8,863.0 H1040.8 M1037.3,859.5 V866.5" stroke="#ff1a1a" stroke-width="1.0" fill="none"/>
<path d="M1033.8,868.9 H1040.8 M1037.3,865.4 V872.4" stroke="#ff1a1a" stroke-width="1.0" fill="none"/>
<path d="M1037.5,874.0 H1044.5 M1041.0,870.5 V877.5" stroke="#ff1a1a" stroke-width="1.0" fill="none"/>
<path d="M1039.2,874.7 H1046.2 M1042.7,871.2 V878.2" stroke="#ff1a1a" stroke-width="1.0" fill="none"/>
<path d="M1049.9,877.1 H1056.9 M1053.4,873.6 V880.6" stroke="#ff1a1a" stroke-width="1.0" fill="none"/>
<path d="M1047.1,876.9 H1054.1 M1050.6,873.4 V880.4" stroke="#ff1a1a" stroke-width="1.0" fill="none"/>
<path d="M1048.4,881.7 H1055.4 M1051.9,878.2 V885.2" stroke="#ff1a1a" stroke-width="1.0" fill="none"/>
<path d="M1049.3,885.9 H1056.3 M1052.8,882.4 V889.4" stroke="#ff1a1a" stroke-width="1.0" fill="none"/>
<path d="M1053.1,893.3 H1060.1 M1056.6,889.8 V896.8" stroke="#ff1a1a" stroke-width="1.0" fill="none"/>
<path d="M1053.6,896.7 H1060.6 M1057.1,893.2 V900.2" stroke="#ff1a1a" stroke-width="1.0" fill="none"/>
<path d="M1058.2,900.3 H1065.2 M1061.7,896.8 V903.8" stroke="#ff1a1a" stroke-width="1.0" fill="none"/>
<path d="M1060.3,902.3 H1067.3 M1063.8,898.8 V905.8" stroke="#ff1a1a" stroke-width="1.0" fill="none"/>
<path d="M1066.8,911.8 H1073.8 M1070.3,908.3 V915.3" stroke="#ff1a1a" stroke-width="1.0" fill="none"/>
<path d="M1065.2,909.6 H1072.2 M1068.7,906.1 V913.1" stroke="#ff1a1a" stroke-width="1.0" fill="none"/>
<path d="M1070.6,920.4 H1077.6 M1074.1,916.9 V923.9" stroke="#ff1a1a" stroke-width="1.0" fill="none"/>
<path d="M1070.4,919.4 H1077.4 M1073.9,915.9 V922.9" stroke="#ff1a1a" stroke-width="1.0" fill="none"/>
<path d="M1076.4,930.9 H1083.4 M1079.9,927.4 V934.4" stroke="#ff1a1a" stroke-width="1.0" fill="none"/>
<path d="M1074.7,927.7 H1081.7 M1078.2,924.2 V931.2" stroke="#ff1a1a" stroke-width="1.0" fill="none"/>
<path d="M1076.5,933.2 H1083.5 M1080.0,929.7 V936.7" stroke="#ff1a1a" stroke-width="1.0" fill="none"/>
<path d="M1079.2,939.2 H1086.2 M1082.7,935.7 V942.7" stroke="#ff1a1a" stroke-width="1.0" fill="none"/>
<path d="M1095.2,939.3 H1102.2 M1098.7,935.8 V942.8" stroke="#ff1a1a" stroke-width="1.0" fill="none"/>
<path d="M1093.1,939.3 H1100.1 M1096.6,935.8 V942.8" stroke="#ff1a1a" stroke-width="1.0" fill="none"/>
<path d="M1083.7,939.3 H1091.7 M1087.7,935.3 V943.3" stroke="#ff1a1a" stroke-width="1.2" fill="none"/>
<path d="M1098.4,939.3 H1106.4 M1102.4,935.3 V943.3" stroke="#ff1a1a" stroke-width="1.2" fill="none"/>
<path d="M1114.1,945.9 H1122.1 M1118.1,941.9 V949.9" stroke="#ff1a1a" stroke-width="1.2" fill="none"/>
<path d="M1120.4,945.9 H1128.4 M1124.4,941.9 V949.9" stroke="#ff1a1a" stroke-width="1.2" fill="none"/>
<path d="M1124.2,945.9 H1132.2 M1128.2,941.9 V949.9" stroke="#ff1a1a" stroke-width="1.2" fill="none"/>
<path d="M1134.8,945.9 H1142.8 M1138.8,941.9 V949.9" stroke="#ff1a1a" stroke-width="1.2" fill="none"/>
<path d="M1137.3,945.9 H1145.3 M1141.3,941.9 V949.9" stroke="#ff1a1a" stroke-width="1.2" fill="none"/>
<path d="M1180.2,966.6 H1188.2 M1184.2,962.6 V970.6" stroke="#ff1a1a" stroke-width="1.2" fill="none"/>
<path d="M1186.0,966.6 H1194.0 M1190.0,962.6 V970.6" stroke="#ff1a1a" stroke-width="1.2" fill="none"/>
<path d="M1192.4,966.6 H1200.4 M1196.4,962.6 V970.6" stroke="#ff1a1a" stroke-width="1.2" fill="none"/>
<path d="M1328.7,982.3 H1336.7 M1332.7,978.3 V986.3" stroke="#ff1a1a" stroke-width="1.2" fill="none"/>
<path d="M1382.5,1025.0 H1390.5 M1386.5,1021.0 V1029.0" stroke="#ff1a1a" stroke-width="1.2" fill="none"/>
</svg>
</body></html>
